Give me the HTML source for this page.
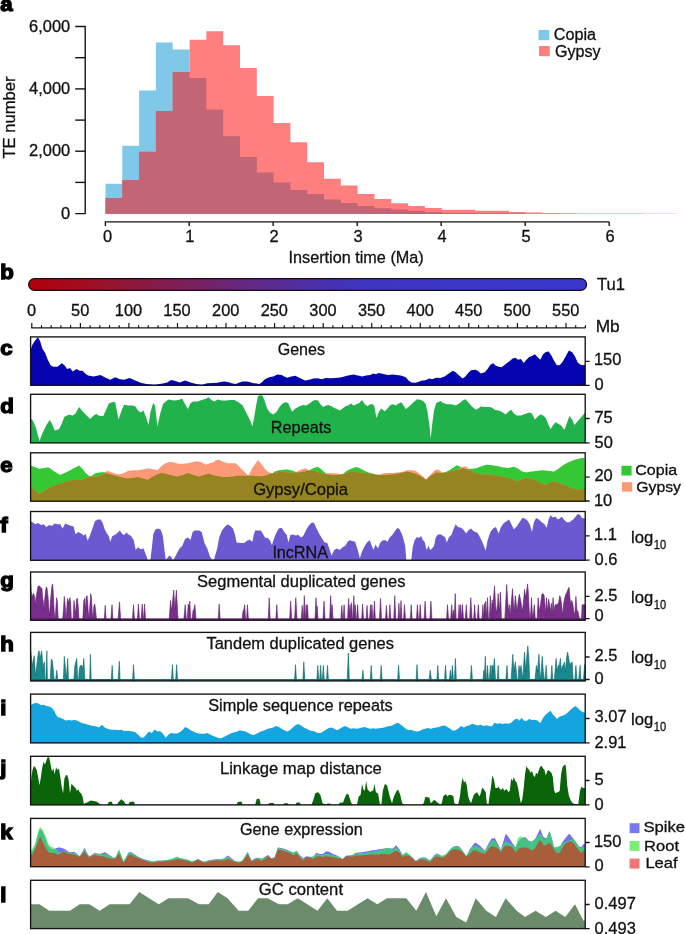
<!DOCTYPE html>
<html><head><meta charset="utf-8"><title>Figure</title>
<style>
html,body{margin:0;padding:0;background:#fff;width:685px;height:934px;overflow:hidden;}
svg{display:block;will-change:transform;}
text{font-family:'Liberation Sans', sans-serif;}
text.n{stroke:#111;stroke-width:0.3px;}
</style></head><body>
<svg width="685" height="934" viewBox="0 0 685 934">
<path d="M105.5,214L105.5,183.7L122.3,183.7L122.3,145.7L139.1,145.7L139.1,90.5L155.9,90.5L155.9,42.5L172.7,42.5L172.7,49.5L189.6,49.5L189.6,78L206.4,78L206.4,109.5L223.2,109.5L223.2,136.2L240,136.2L240,157L256.8,157L256.8,172.5L273.6,172.5L273.6,182.4L290.4,182.4L290.4,190L307.2,190L307.2,194L324,194L324,199.6L340.8,199.6L340.8,203L357.6,203L357.6,206L374.5,206L374.5,208.3L391.3,208.3L391.3,209.4L408.1,209.4L408.1,210.8L424.9,210.8L424.9,212L441.7,212L441.7,212.9L458.5,212.9L458.5,213L475.3,213L475.3,213.2L492.1,213.2L492.1,213.3L508.9,213.3L508.9,213.4L525.7,213.4L525.8,214L542.6,214L542.6,214L559.4,214L559.4,214L576.2,214L576.2,214L593,214L593,214L609.8,214L609.8,214L626.6,214L626.6,214L643.4,214L643.4,214L660.2,214L660.2,214L677,214L677,214Z" fill="#80c8e8"/>
<path d="M105.5,214L105.5,198L122.3,198L122.3,180L139.1,180L139.1,151.7L155.9,151.7L155.9,111L172.7,111L172.7,72L189.6,72L189.6,39.7L206.4,39.7L206.4,31.2L223.2,31.2L223.2,45.2L240,45.2L240,68L256.8,68L256.8,96L273.6,96L273.6,123L290.4,123L290.4,142.2L307.2,142.2L307.2,162.2L324,162.2L324,178.7L340.8,178.7L340.8,185.4L357.6,185.4L357.6,194L374.5,194L374.5,198.9L391.3,198.9L391.3,203.3L408.1,203.3L408.1,206L424.9,206L424.9,208L441.7,208L441.7,209.8L458.5,209.8L458.5,209.8L475.3,209.8L475.3,210.8L492.1,210.8L492.1,210.8L508.9,210.8L508.9,212L525.7,212L525.8,212.4L542.6,212.4L542.6,212.9L559.4,212.9L559.4,213.2L576.2,213.2L576.2,213.4L593,213.4L593,213.5L609.8,213.5L609.8,213.6L626.6,213.6L626.6,213.6L643.4,213.6L643.4,213.7L660.2,213.7L660.2,213.7L677,213.7L677,214Z" fill="#ff7f7f"/>
<path d="M105.5,214L105.5,198L122.3,198L122.3,180L139.1,180L139.1,151.7L155.9,151.7L155.9,111L172.7,111L172.7,72L189.6,72L189.6,78L206.4,78L206.4,109.5L223.2,109.5L223.2,136.2L240,136.2L240,157L256.8,157L256.8,172.5L273.6,172.5L273.6,182.4L290.4,182.4L290.4,190L307.2,190L307.2,194L324,194L324,199.6L340.8,199.6L340.8,203L357.6,203L357.6,206L374.5,206L374.5,208.3L391.3,208.3L391.3,209.4L408.1,209.4L408.1,210.8L424.9,210.8L424.9,212L441.7,212L441.7,212.9L458.5,212.9L458.5,213L475.3,213L475.3,213.2L492.1,213.2L492.1,213.3L508.9,213.3L508.9,213.4L525.7,213.4L525.8,214L542.6,214L542.6,214L559.4,214L559.4,214L576.2,214L576.2,214L593,214L593,214L609.8,214L609.8,214L626.6,214L626.6,214L643.4,214L643.4,214L660.2,214L660.2,214L677,214L677,214Z" fill="#c26675"/>
<path d="M75.2,26.5H85.2V213.6H75.2" fill="none" stroke="#141414" stroke-width="1.4"/>
<path d="M75.2,182.4H85.2" stroke="#141414" stroke-width="1.4"/>
<path d="M75.2,151.2H85.2" stroke="#141414" stroke-width="1.4"/>
<path d="M75.2,120.1H85.2" stroke="#141414" stroke-width="1.4"/>
<path d="M75.2,88.9H85.2" stroke="#141414" stroke-width="1.4"/>
<path d="M75.2,57.7H85.2" stroke="#141414" stroke-width="1.4"/>
<text class="n" transform="translate(61,218.7) scale(1.0321083053992348,1)" font-size="15.9" fill="#111111">0</text>
<text class="n" transform="translate(29.1,156.3) scale(1.0321083053992348,1)" font-size="15.9" fill="#111111">2,000</text>
<text class="n" transform="translate(29.1,94) scale(1.0321083053992348,1)" font-size="15.9" fill="#111111">4,000</text>
<text class="n" transform="translate(29.1,31.6) scale(1.0321083053992348,1)" font-size="15.9" fill="#111111">6,000</text>
<text class="n" transform="translate(15,117.5) rotate(-90)" font-size="16.6" text-anchor="middle" fill="#111111">TE number</text>
<path d="M105.4,226V221.9H609.4" fill="none" stroke="#141414" stroke-width="1.4"/>
<path d="M189.2,221.9V226" stroke="#141414" stroke-width="1.4"/>
<path d="M273.2,221.9V226" stroke="#141414" stroke-width="1.4"/>
<path d="M357.2,221.9V226" stroke="#141414" stroke-width="1.4"/>
<path d="M441.2,221.9V226" stroke="#141414" stroke-width="1.4"/>
<path d="M525.2,221.9V226" stroke="#141414" stroke-width="1.4"/>
<path d="M609.2,221.9V226" stroke="#141414" stroke-width="1.4"/>
<text class="n" transform="translate(102.9,241.6) scale(1.0321083053992348,1)" font-size="15.9" fill="#111111">0</text>
<text class="n" transform="translate(185.2,241.6) scale(1.0321083053992348,1)" font-size="15.9" fill="#111111">1</text>
<text class="n" transform="translate(269.4,241.6) scale(1.0321083053992348,1)" font-size="15.9" fill="#111111">2</text>
<text class="n" transform="translate(353.5,241.6) scale(1.0321083053992348,1)" font-size="15.9" fill="#111111">3</text>
<text class="n" transform="translate(437.5,241.6) scale(1.0321083053992348,1)" font-size="15.9" fill="#111111">4</text>
<text class="n" transform="translate(521.5,241.6) scale(1.0321083053992348,1)" font-size="15.9" fill="#111111">5</text>
<text class="n" transform="translate(605.4,241.6) scale(1.0321083053992348,1)" font-size="15.9" fill="#111111">6</text>
<text class="n" transform="translate(288.5,262.7) scale(0.9779,1)" font-size="16.6" fill="#111111">Insertion time (Ma)</text>
<rect x="538.5" y="30" width="10.8" height="10.2" fill="#80c8e8"/>
<rect x="539" y="46" width="10.8" height="10.2" fill="#ff7f7f"/>
<text class="n" transform="translate(553.7,39.6) scale(1.0383,1)" font-size="15.6" fill="#111111">Copia</text>
<text class="n" transform="translate(554.9,56.6) scale(1.0324,1)" font-size="15.6" fill="#111111">Gypsy</text>
<text transform="translate(0.3,11) scale(1.1,1)" font-size="20.2" font-weight="bold" fill="#000" stroke="#000" stroke-width="1.3">a</text>
<text transform="translate(0.3,279.2) scale(1.1,1)" font-size="20.2" font-weight="bold" fill="#000" stroke="#000" stroke-width="1.3">b</text>
<defs><linearGradient id="chr" x1="0" x2="1" y1="0" y2="0"><stop offset="0" stop-color="#b0000a"/><stop offset="0.15" stop-color="#961430"/><stop offset="0.28" stop-color="#7c1f5a"/><stop offset="0.42" stop-color="#5e2a8c"/><stop offset="0.52" stop-color="#4a30ac"/><stop offset="0.6" stop-color="#3e35c2"/><stop offset="1" stop-color="#3a38cc"/></linearGradient></defs>
<rect x="28.6" y="278.6" width="558" height="11.8" rx="5.9" fill="url(#chr)" stroke="#1a0a14" stroke-width="1.2"/>
<text class="n" transform="translate(597,290.3)" font-size="16.6" fill="#111111">Tu1</text>
<path d="M31.2,327.9H585.4" stroke="#141414" stroke-width="1.4"/>
<path d="M31.8,323V327.9" stroke="#141414" stroke-width="1.2"/>
<path d="M41.5,325.2V327.9" stroke="#141414" stroke-width="1.2"/>
<path d="M51.2,325.2V327.9" stroke="#141414" stroke-width="1.2"/>
<path d="M60.9,325.2V327.9" stroke="#141414" stroke-width="1.2"/>
<path d="M70.6,325.2V327.9" stroke="#141414" stroke-width="1.2"/>
<path d="M80.4,323V327.9" stroke="#141414" stroke-width="1.2"/>
<path d="M90.1,325.2V327.9" stroke="#141414" stroke-width="1.2"/>
<path d="M99.8,325.2V327.9" stroke="#141414" stroke-width="1.2"/>
<path d="M109.5,325.2V327.9" stroke="#141414" stroke-width="1.2"/>
<path d="M119.2,325.2V327.9" stroke="#141414" stroke-width="1.2"/>
<path d="M128.9,323V327.9" stroke="#141414" stroke-width="1.2"/>
<path d="M138.6,325.2V327.9" stroke="#141414" stroke-width="1.2"/>
<path d="M148.3,325.2V327.9" stroke="#141414" stroke-width="1.2"/>
<path d="M158.1,325.2V327.9" stroke="#141414" stroke-width="1.2"/>
<path d="M167.8,325.2V327.9" stroke="#141414" stroke-width="1.2"/>
<path d="M177.5,323V327.9" stroke="#141414" stroke-width="1.2"/>
<path d="M187.2,325.2V327.9" stroke="#141414" stroke-width="1.2"/>
<path d="M196.9,325.2V327.9" stroke="#141414" stroke-width="1.2"/>
<path d="M206.6,325.2V327.9" stroke="#141414" stroke-width="1.2"/>
<path d="M216.3,325.2V327.9" stroke="#141414" stroke-width="1.2"/>
<path d="M226,323V327.9" stroke="#141414" stroke-width="1.2"/>
<path d="M235.8,325.2V327.9" stroke="#141414" stroke-width="1.2"/>
<path d="M245.5,325.2V327.9" stroke="#141414" stroke-width="1.2"/>
<path d="M255.2,325.2V327.9" stroke="#141414" stroke-width="1.2"/>
<path d="M264.9,325.2V327.9" stroke="#141414" stroke-width="1.2"/>
<path d="M274.6,323V327.9" stroke="#141414" stroke-width="1.2"/>
<path d="M284.3,325.2V327.9" stroke="#141414" stroke-width="1.2"/>
<path d="M294,325.2V327.9" stroke="#141414" stroke-width="1.2"/>
<path d="M303.7,325.2V327.9" stroke="#141414" stroke-width="1.2"/>
<path d="M313.4,325.2V327.9" stroke="#141414" stroke-width="1.2"/>
<path d="M323.2,323V327.9" stroke="#141414" stroke-width="1.2"/>
<path d="M332.9,325.2V327.9" stroke="#141414" stroke-width="1.2"/>
<path d="M342.6,325.2V327.9" stroke="#141414" stroke-width="1.2"/>
<path d="M352.3,325.2V327.9" stroke="#141414" stroke-width="1.2"/>
<path d="M362,325.2V327.9" stroke="#141414" stroke-width="1.2"/>
<path d="M371.7,323V327.9" stroke="#141414" stroke-width="1.2"/>
<path d="M381.4,325.2V327.9" stroke="#141414" stroke-width="1.2"/>
<path d="M391.1,325.2V327.9" stroke="#141414" stroke-width="1.2"/>
<path d="M400.9,325.2V327.9" stroke="#141414" stroke-width="1.2"/>
<path d="M410.6,325.2V327.9" stroke="#141414" stroke-width="1.2"/>
<path d="M420.3,323V327.9" stroke="#141414" stroke-width="1.2"/>
<path d="M430,325.2V327.9" stroke="#141414" stroke-width="1.2"/>
<path d="M439.7,325.2V327.9" stroke="#141414" stroke-width="1.2"/>
<path d="M449.4,325.2V327.9" stroke="#141414" stroke-width="1.2"/>
<path d="M459.1,325.2V327.9" stroke="#141414" stroke-width="1.2"/>
<path d="M468.8,323V327.9" stroke="#141414" stroke-width="1.2"/>
<path d="M478.6,325.2V327.9" stroke="#141414" stroke-width="1.2"/>
<path d="M488.3,325.2V327.9" stroke="#141414" stroke-width="1.2"/>
<path d="M498,325.2V327.9" stroke="#141414" stroke-width="1.2"/>
<path d="M507.7,325.2V327.9" stroke="#141414" stroke-width="1.2"/>
<path d="M517.4,323V327.9" stroke="#141414" stroke-width="1.2"/>
<path d="M527.1,325.2V327.9" stroke="#141414" stroke-width="1.2"/>
<path d="M536.8,325.2V327.9" stroke="#141414" stroke-width="1.2"/>
<path d="M546.5,325.2V327.9" stroke="#141414" stroke-width="1.2"/>
<path d="M556.2,325.2V327.9" stroke="#141414" stroke-width="1.2"/>
<path d="M566,323V327.9" stroke="#141414" stroke-width="1.2"/>
<path d="M575.7,325.2V327.9" stroke="#141414" stroke-width="1.2"/>
<path d="M585.4,325.2V327.9" stroke="#141414" stroke-width="1.2"/>
<text class="n" transform="translate(27.1,316.3) scale(1.0275946049739375,1)" font-size="15.9" fill="#111111">0</text>
<text class="n" transform="translate(71.1,316.3) scale(1.0275946049739375,1)" font-size="15.9" fill="#111111">50</text>
<text class="n" transform="translate(114.8,316.3) scale(1.0275946049739375,1)" font-size="15.9" fill="#111111">100</text>
<text class="n" transform="translate(163.3,316.3) scale(1.0275946049739375,1)" font-size="15.9" fill="#111111">150</text>
<text class="n" transform="translate(212.1,316.3) scale(1.0275946049739375,1)" font-size="15.9" fill="#111111">200</text>
<text class="n" transform="translate(260.7,316.3) scale(1.0275946049739375,1)" font-size="15.9" fill="#111111">250</text>
<text class="n" transform="translate(309.3,316.3) scale(1.0275946049739375,1)" font-size="15.9" fill="#111111">300</text>
<text class="n" transform="translate(357.9,316.3) scale(1.0275946049739375,1)" font-size="15.9" fill="#111111">350</text>
<text class="n" transform="translate(406.6,316.3) scale(1.0275946049739375,1)" font-size="15.9" fill="#111111">400</text>
<text class="n" transform="translate(455.1,316.3) scale(1.0275946049739375,1)" font-size="15.9" fill="#111111">450</text>
<text class="n" transform="translate(503.6,316.3) scale(1.0275946049739375,1)" font-size="15.9" fill="#111111">500</text>
<text class="n" transform="translate(552.1,316.3) scale(1.0275946049739375,1)" font-size="15.9" fill="#111111">550</text>
<text class="n" transform="translate(595.7,332.1) scale(1.0428,1)" font-size="16.6" fill="#111111">Mb</text>
<path d="M30.6,385.3L30.6,350L32.5,344.5L35.3,340.3L38.1,337L40.3,341.7L42.3,348.6L45,352.8L47.8,359.7L50.6,365.3L53.4,366.7L57.5,366.7L61.7,363.3L64.4,365.3L67.2,368.9L70,368.1L72.8,371.4L76.4,368.9L79.7,370.8L82.5,370.8L85.2,373.6L88,375.5L93.6,376.4L100.5,375L104.7,377.2L110.2,379.7L115.2,377.2L119.9,379.2L124.1,379.7L129.6,378L135.2,380.5L140.7,382.8L146.3,384.1L154.6,384.7L162.9,383.6L167.1,382.5L171.2,380L175.4,381.1L179.6,382.5L185.1,380.5L190.6,382.5L196.2,384.1L201.7,384.7L207.3,383.3L217.8,382.8L220.5,381.9L224.7,381.4L228.9,382.2L231.6,383.3L235.8,384.1L239.4,382.5L242.7,381.4L246.9,381.4L249.7,381.9L252.4,383L256.6,383.6L259.4,383.9L262.2,381.9L264.9,379.2L269.1,377.2L273.2,376.4L277.4,374.4L281.6,375L284.3,376.4L287.1,377.8L291.3,376.4L295.4,375.8L298.2,377.2L302.4,379.2L305.1,380.5L309.3,379.7L313.5,378.6L317.6,378.3L321.8,379.2L325.9,378L330.1,378.3L334.3,378L338.4,377.8L342.6,376.9L346.8,375.8L350.9,375L353.7,374.4L356.5,375.3L359.2,375.8L362,376.4L366.2,375.5L370.3,375L373.1,373.6L375.9,374.2L378.6,373.1L381.4,373.6L384.2,374.2L388.4,375L392.5,374.4L396.7,375L400.8,375.5L405.8,377.2L408.5,380.5L411.3,382.5L415.5,382.8L418.3,381.9L421,380.8L425.2,380.3L429.4,378.6L432.1,379.2L436.3,377.8L440.4,378L444.6,376.4L448.8,373.6L452.9,370.8L455.7,372.2L458.5,375L462.6,378.6L465.4,376.4L468.2,373.1L471,370.3L475.1,369.7L477.9,370.8L480.7,373.6L484.8,372.2L487.6,368.9L490.4,364.7L493.1,363.3L495.9,365.8L498.7,366.7L501.5,367.2L504.2,365.3L507,363.1L509.8,361.1L512.6,358.4L515.3,357.8L518.1,359.7L520.9,358.9L523.7,363.1L526.4,359.7L529.2,357L532,356.1L534.8,354.2L537.5,357L540.3,359.7L543.1,354.2L545.8,352L548.6,351.4L551.4,355.6L554.2,361.1L556.9,365.3L559.7,365.3L562.5,362L565.3,357L568.9,350.6L572.2,352.2L575,356.4L577.7,362.5L580.5,364.7L583.3,365.3L585,364.7L585,385.3Z" fill="#0303b0"/>
<rect x="30.6" y="336.9" width="554.6" height="48.4" fill="none" stroke="#141414" stroke-width="1.35"/>
<path d="M585.2,361.3H589.6M585.2,385.3H589.6" stroke="#141414" stroke-width="1.3"/>
<text class="n" transform="translate(593.9,365.3) scale(1.0366,1)" font-size="15.9" fill="#111111">150</text>
<text class="n" transform="translate(594.6,390.1) scale(1.0366,1)" font-size="15.9" fill="#111111">0</text>
<text transform="translate(0.3,355.1) scale(1.1,1)" font-size="20.2" font-weight="bold" fill="#000" stroke="#000" stroke-width="1.3">c</text>
<text class="n" transform="translate(277.7,354.7) scale(0.9669,1)" font-size="16.6" fill="#111111">Genes</text>
<path d="M30.6,442.9L30.6,418.1L33.1,420.9L35.9,427.8L39.5,441.1L42.3,433.4L46.4,425.1L49.7,420.1L52,423.7L54.7,430.6L58.9,429.2L61.7,423.7L64.4,416.7L68.6,414.8L72.8,415.4L75.5,413.4L79.1,407L82.5,411.2L86.6,415.4L90.2,419L93.6,415.4L96.3,414L99.7,415.9L103.3,415.9L106.1,409.8L108.8,403.4L113,402L115.2,402.3L118.5,419.5L121.3,411.2L124.1,404.8L128.2,405.6L132.4,405.6L135.2,406.2L137.9,410.6L140.7,412.6L143.5,410.6L146.3,418.1L148.5,425.1L150.4,412.6L153.2,402.9L155.1,405.6L157.4,426.4L160.1,414L162.9,404.3L165.7,401.5L168.5,399.5L171.2,400.1L174,400.6L178.2,400.1L182.3,398.7L185.1,404.3L187.9,409L190.6,402.9L193.4,401.5L197.6,401.5L201.7,400.1L205.9,398.7L208.7,397.3L211.5,400.1L214.2,401.5L217.8,399.5L221.9,400.6L226.1,400.6L230.3,400.1L234.4,400.1L238.6,402.3L242.7,405.6L245.5,411.2L248.3,416.7L251.1,422.8L252.4,426.4L253.8,419.5L256.1,405.6L258,395.9L260.8,395.1L262.7,395.9L264.9,401.5L267.1,408.4L269.9,412.6L273.2,414.5L276.6,411.7L279.4,407L283,402.9L286.6,402.3L288.5,403.4L289.9,407L292.1,411.7L295.4,408.4L299.6,406.2L303.2,405.1L306,405.6L309.3,403.4L312.1,401.5L314.9,400.1L318.2,400.6L320.4,404.3L323.2,407L325.9,405.6L328.7,405.1L331.5,406.2L334.3,407.9L337,409L339.8,410.6L342.6,408.4L345.4,406.2L348.1,405.6L350.9,403.4L353.7,405.6L356.5,404.3L359.2,402.9L362,400.1L364.8,404.3L367.6,406.2L370.3,404.3L373.1,404.3L374.5,407L376.4,418.1L378.6,412.6L380.9,408.4L382.8,409.8L384.8,411.2L387.5,408.4L390.3,405.1L393.1,404.3L395.8,405.6L398.6,403.4L401.4,402.3L405.8,409L408.5,407L412.7,402.9L416.9,399.3L421,400.1L423.8,401.5L425.7,404.3L427.4,411.2L429.4,425.1L430.7,438.4L432.1,425.1L434.1,409.8L436.3,402.9L440.4,400.9L443.2,402.9L447.4,404.3L451.5,404.3L455.7,405.6L459.9,402.9L462.6,400.6L465.4,399.3L468.2,402.3L471.8,406.2L475.7,409.8L478.4,408.4L480.7,406.5L484.8,407L489,407L491.8,407.6L494.5,409.8L498.7,410.6L502.9,412.6L505.6,414.5L508.4,411.7L511.2,409.8L513.9,413.4L516.7,415.4L520.9,415.4L525,414L529.2,412.6L532,413.4L534.8,419.5L537.5,416.7L540.3,414.5L543.1,415.4L545.8,418.1L548.6,425.1L550.6,429.2L552.8,425.6L555.6,422.3L558.3,423.7L561.1,425.6L564.4,430.1L567.2,422.3L569.4,415.9L572.2,419.5L574.4,425.1L577.2,421.7L580.5,418.1L583.3,414.8L585,412.6L585,442.9Z" fill="#22b24c"/>
<rect x="30.6" y="394.3" width="554.6" height="48.6" fill="none" stroke="#141414" stroke-width="1.35"/>
<path d="M585.2,418.5H589.6M585.2,442.9H589.6" stroke="#141414" stroke-width="1.3"/>
<text class="n" transform="translate(594.4,422.6) scale(1.0366,1)" font-size="15.9" fill="#111111">75</text>
<text class="n" transform="translate(594.5,448.3) scale(1.0366,1)" font-size="15.9" fill="#111111">50</text>
<text transform="translate(0.3,412.9) scale(1.1,1)" font-size="20.2" font-weight="bold" fill="#000" stroke="#000" stroke-width="1.3">d</text>
<text class="n" transform="translate(270.8,433.4) scale(0.9805,1)" font-size="16.6" fill="#111111">Repeats</text>
<path d="M30.6,501.2L30.6,465.3L31.1,465.6L31.6,465.8L32.1,466L32.6,466.2L33.1,466.5L33.6,466.7L34.1,466.9L34.6,467.1L35.1,467.3L35.6,467.4L36.1,467.6L36.6,467.8L37.1,468L37.6,468.1L38.1,468.3L38.6,468.5L39.1,468.7L39.6,468.8L40.1,468.7L40.6,468.6L41.1,468.5L41.6,468.4L42.1,468.3L42.6,468.2L43.1,468.1L43.6,468L44.1,467.9L44.6,467.9L45.1,467.8L45.6,467.8L46.1,467.7L46.6,467.6L47.1,467.6L47.6,467.5L48.1,467.5L48.6,467.4L49.1,467.7L49.6,468.1L50.1,468.5L50.6,468.8L51.1,469.2L51.6,469.5L52.1,469.9L52.6,470.2L53.1,470.6L53.6,470.9L54.1,471.2L54.6,471.6L55.1,471.9L55.6,472.2L56.1,472.6L56.6,472.9L57.1,473.2L57.6,473.6L58.1,473.8L58.6,474.1L59.1,474.3L59.6,474.6L60.1,474.8L60.6,474.8L61.1,474.5L61.6,474.3L62.1,474.1L62.6,473.8L63.1,473.6L63.6,473.4L64.1,473.1L64.6,472.9L65.1,472.7L65.6,472.4L66.1,472.2L66.6,472L67.1,471.7L67.6,471.5L68.1,471.3L68.6,471L69.1,470.8L69.6,470.5L70.1,470.2L70.6,469.9L71.1,469.7L71.6,469.4L72.1,469.1L72.6,468.8L73.1,468.6L73.6,468.3L74.1,468L74.6,467.7L75.1,467.5L75.6,467.2L76.1,467L76.6,466.7L77.1,466.5L77.6,466.2L78.1,466L78.6,465.7L79.1,465.5L79.6,465.9L80.1,466.4L80.6,466.9L81.1,467.4L81.6,467.9L82.1,468.4L82.6,469L83.1,469.6L83.6,470.3L84.1,470.9L84.6,471.6L85.1,472.2L85.6,472.8L86.1,473.3L86.6,473.8L87.1,474.3L87.6,474.8L88.1,475.3L88.6,475.7L89.1,475.8L89.6,475.9L90.1,476L90.6,476.1L91.1,476.2L91.6,476.1L92.1,475.6L92.6,475.2L93.1,474.8L93.6,474.3L94.1,474.1L94.6,473.8L95.1,473.6L95.6,473.3L96.1,473.1L96.6,472.9L97.1,472.8L97.6,472.8L98.1,472.7L98.6,472.6L99.1,472.5L99.6,472.4L100.1,472.4L100.6,472.3L101.1,472.3L101.6,472.3L102.1,472.2L102.6,472.2L103.1,472.1L103.6,472.2L104.1,472.2L104.6,472.3L105.1,472.3L105.6,472.4L106.1,472.4L106.6,472.7L107.1,473L107.6,473.3L108.1,473.6L108.6,473.8L109.1,474L109.6,474.1L110.1,474.3L110.6,474.4L111.1,474.6L111.6,474.7L112.1,474.8L112.6,474.9L113.1,475.1L113.6,475.2L114.1,475.3L114.6,475.4L115.1,475.6L115.6,475.7L116.1,475.8L116.6,475.9L117.1,476.1L117.6,476.2L118.1,476.3L118.6,476.4L119.1,476.6L119.6,476.7L120.1,476.8L120.6,476.9L121.1,477.1L121.6,477.2L122.1,477.3L122.6,477.4L123.1,477.6L123.6,477.7L124.1,477.8L124.6,477.9L125.1,478.1L125.6,478.2L126.1,478.3L126.6,478.4L127.1,478.5L127.6,478.4L128.1,478.4L128.6,478.3L129.1,478.3L129.6,478.2L130.1,478.2L130.6,478.1L131.1,478.1L131.6,478L132.1,478L132.6,477.9L133.1,477.9L133.6,477.8L134.1,477.7L134.6,477.6L135.1,477.6L135.6,477.5L136.1,477.4L136.6,477.3L137.1,477.3L137.6,477.2L138.1,477.2L138.6,477.3L139.1,477.4L139.6,477.5L140.1,477.7L140.6,477.8L141.1,477.9L141.6,478L142.1,478.2L142.6,478.3L143.1,478.4L143.6,478.5L144.1,478.7L144.6,478.9L145.1,479L145.6,479.2L146.1,479.4L146.6,479.5L147.1,479.7L147.6,479.9L148.1,479.6L148.6,479.3L149.1,478.9L149.6,478.6L150.1,478.3L150.6,477.9L151.1,477.6L151.6,477.3L152.1,477L152.6,476.7L153.1,476.5L153.6,476.2L154.1,476L154.6,475.7L155.1,475.5L155.6,475.2L156.1,475L156.6,474.7L157.1,474.5L157.6,474.3L158.1,474.1L158.6,473.9L159.1,473.8L159.6,473.6L160.1,473.4L160.6,473.3L161.1,473.1L161.6,473L162.1,473.1L162.6,473.2L163.1,473.3L163.6,473.4L164.1,473.5L164.6,473.6L165.1,473.7L165.6,473.8L166.1,473.9L166.6,474L167.1,474.1L167.6,474.3L168.1,474.4L168.6,474.5L169.1,474.6L169.6,474.8L170.1,474.9L170.6,475L171.1,475.1L171.6,475.3L172.1,475.4L172.6,475.5L173.1,475.6L173.6,475.8L174.1,475.9L174.6,476L175.1,476.1L175.6,476.3L176.1,476.4L176.6,476.5L177.1,476.5L177.6,476.4L178.1,476.2L178.6,476.1L179.1,476L179.6,475.9L180.1,475.7L180.6,475.6L181.1,475.5L181.6,475.4L182.1,475.2L182.6,475.1L183.1,474.9L183.6,474.7L184.1,474.5L184.6,474.3L185.1,474.1L185.6,473.9L186.1,473.7L186.6,473.5L187.1,473.3L187.6,473.1L188.1,473L188.6,473.2L189.1,473.4L189.6,473.6L190.1,473.7L190.6,473.9L191.1,474.1L191.6,474.3L192.1,474.4L192.6,474.6L193.1,474.8L193.6,475L194.1,475.1L194.6,475.3L195.1,475.4L195.6,475.6L196.1,475.7L196.6,475.9L197.1,476L197.6,476.2L198.1,476.3L198.6,476.5L199.1,476.5L199.6,476.4L200.1,476.2L200.6,476.1L201.1,475.9L201.6,475.8L202.1,475.6L202.6,475.5L203.1,475.3L203.6,475.2L204.1,475L204.6,474.9L205.1,474.7L205.6,474.5L206.1,474.4L206.6,474.2L207.1,474L207.6,473.9L208.1,473.7L208.6,473.5L209.1,473.7L209.6,473.9L210.1,474.1L210.6,474.3L211.1,474.5L211.6,474.7L212.1,474.9L212.6,475.1L213.1,475.2L213.6,475.3L214.1,475.4L214.6,475.5L215.1,475.6L215.6,475.7L216.1,475.8L216.6,475.9L217.1,475.9L217.6,476L218.1,476.1L218.6,476.2L219.1,476.3L219.6,476.4L220.1,476.5L220.6,476.6L221.1,476.6L221.6,476.7L222.1,476.7L222.6,476.8L223.1,476.8L223.6,476.9L224.1,476.9L224.6,477L225.1,477L225.6,477.1L226.1,477.1L226.6,477.1L227.1,477L227.6,477L228.1,476.9L228.6,476.9L229.1,476.8L229.6,476.8L230.1,476.7L230.6,476.7L231.1,476.6L231.6,476.6L232.1,476.5L232.6,476.4L233.1,476.4L233.6,476.3L234.1,476.2L234.6,476.1L235.1,476.1L235.6,476L236.1,475.9L236.6,475.8L237.1,475.8L237.6,475.7L238.1,475.7L238.6,475.7L239.1,475.7L239.6,475.7L240.1,475.7L240.6,475.7L241.1,475.7L241.6,475.7L242.1,475.7L242.6,475.7L243.1,475.7L243.6,475.7L244.1,475.7L244.6,475.7L245.1,475.7L245.6,475.7L246.1,475.7L246.6,475.7L247.1,475.7L247.6,475.7L248.1,475.7L248.6,475.7L249.1,475.7L249.6,475.7L250.1,475.7L250.6,475.7L251.1,475.7L251.6,475.7L252.1,475.7L252.6,475.7L253.1,475.7L253.6,475.7L254.1,475.8L254.6,475.8L255.1,475.9L255.6,475.9L256.1,476L256.6,476L257.1,476.1L257.6,476.1L258.1,476.2L258.6,476.2L259.1,476.3L259.6,476.3L260.1,476.2L260.6,476.2L261.1,476.1L261.6,476.1L262.1,476L262.6,476L263.1,475.9L263.6,475.9L264.1,475.8L264.6,475.8L265.1,475.7L265.6,475.5L266.1,475.3L266.6,475.2L267.1,475L267.6,474.8L268.1,474.6L268.6,474.5L269.1,474.3L269.6,474.1L270.1,473.9L270.6,473.8L271.1,473.6L271.6,473.5L272.1,473.4L272.6,473.2L273.1,472.8L273.6,472.4L274.1,472L274.6,471.6L275.1,471.4L275.6,471.3L276.1,471.1L276.6,470.9L277.1,470.8L277.6,470.6L278.1,470.4L278.6,470.3L279.1,470.2L279.6,470.1L280.1,470.1L280.6,470L281.1,470L281.6,469.9L282.1,469.9L282.6,469.8L283.1,469.8L283.6,469.7L284.1,469.7L284.6,469.6L285.1,469.6L285.6,469.6L286.1,469.6L286.6,469.6L287.1,469.6L287.6,469.6L288.1,469.6L288.6,469.7L289.1,469.8L289.6,469.9L290.1,470.1L290.6,470.2L291.1,470.3L291.6,470.5L292.1,470.6L292.6,470.7L293.1,470.9L293.6,471.1L294.1,471.3L294.6,471.5L295.1,471.7L295.6,471.9L296.1,472.1L296.6,472.3L297.1,472.5L297.6,472.5L298.1,472.4L298.6,472.4L299.1,472.3L299.6,472.2L300.1,472.1L300.6,472.1L301.1,472L301.6,471.9L302.1,471.8L302.6,471.8L303.1,471.7L303.6,471.6L304.1,471.5L304.6,471.4L305.1,471.2L305.6,471.1L306.1,471L306.6,470.9L307.1,470.7L307.6,470.6L308.1,470.5L308.6,470.4L309.1,470.2L309.6,470L310.1,469.8L310.6,469.5L311.1,469.2L311.6,469L312.1,468.7L312.6,468.4L313.1,468.2L313.6,467.9L314.1,467.8L314.6,467.7L315.1,467.5L315.6,467.4L316.1,467.3L316.6,467.1L317.1,467L317.6,466.9L318.1,467.2L318.6,467.5L319.1,467.8L319.6,468.2L320.1,468.5L320.6,468.8L321.1,469.2L321.6,469.5L322.1,469.9L322.6,470.4L323.1,470.9L323.6,471.3L324.1,471.8L324.6,472.3L325.1,472.7L325.6,473.2L326.1,473.8L326.6,473.9L327.1,474L327.6,474.1L328.1,474.2L328.6,474.3L329.1,474.4L329.6,474.5L330.1,474.6L330.6,474.7L331.1,474.8L331.6,474.9L332.1,474.9L332.6,474.9L333.1,474.9L333.6,474.9L334.1,474.9L334.6,474.9L335.1,474.9L335.6,474.9L336.1,474.9L336.6,474.9L337.1,474.9L337.6,474.8L338.1,474.8L338.6,474.7L339.1,474.7L339.6,474.6L340.1,474.6L340.6,474.5L341.1,474.5L341.6,474.4L342.1,474.4L342.6,474.3L343.1,473.9L343.6,473.5L344.1,473L344.6,472.6L345.1,472.2L345.6,471.7L346.1,471.3L346.6,470.9L347.1,470.6L347.6,470.3L348.1,470.1L348.6,469.9L349.1,469.6L349.6,469.4L350.1,469.2L350.6,468.9L351.1,468.7L351.6,468.6L352.1,468.4L352.6,468.2L353.1,468L353.6,467.9L354.1,467.7L354.6,467.5L355.1,467.3L355.6,467.2L356.1,467L356.6,466.9L357.1,467.2L357.6,467.4L358.1,467.6L358.6,467.9L359.1,468.1L359.6,468.3L360.1,468.6L360.6,468.8L361.1,469L361.6,469.3L362.1,469.5L362.6,469.8L363.1,470L363.6,470.3L364.1,470.5L364.6,470.8L365.1,471L365.6,471.3L366.1,471.5L366.6,471.7L367.1,471.9L367.6,472.1L368.1,472.2L368.6,472.4L369.1,472.6L369.6,472.7L370.1,472.9L370.6,473L371.1,473.2L371.6,473.3L372.1,473.4L372.6,473.5L373.1,473.7L373.6,473.8L374.1,473.9L374.6,474L375.1,474.2L375.6,474.3L376.1,474.4L376.6,474.4L377.1,474.5L377.6,474.6L378.1,474.6L378.6,474.7L379.1,474.8L379.6,474.8L380.1,474.9L380.6,474.9L381.1,474.9L381.6,474.9L382.1,474.9L382.6,474.9L383.1,474.9L383.6,474.9L384.1,474.9L384.6,474.9L385.1,474.9L385.6,474.9L386.1,474.9L386.6,474.9L387.1,474.9L387.6,474.8L388.1,474.8L388.6,474.7L389.1,474.7L389.6,474.6L390.1,474.6L390.6,474.5L391.1,474.5L391.6,474.4L392.1,474.4L392.6,474.3L393.1,474.3L393.6,474.2L394.1,474.1L394.6,474L395.1,474L395.6,473.9L396.1,473.8L396.6,473.7L397.1,473.7L397.6,473.6L398.1,473.5L398.6,473.4L399.1,473.3L399.6,473.2L400.1,473.1L400.6,473L401.1,472.9L401.6,472.8L402.1,472.7L402.6,472.6L403.1,472.4L403.6,472.3L404.1,472.2L404.6,472.1L405.1,472L405.6,471.9L406.1,471.8L406.6,471.7L407.1,471.6L407.6,471.7L408.1,471.8L408.6,471.9L409.1,472L409.6,472.1L410.1,472.2L410.6,472.3L411.1,472.4L411.6,472.5L412.1,472.7L412.6,472.9L413.1,473L413.6,473.2L414.1,473.4L414.6,473.6L415.1,473.7L415.6,473.9L416.1,474.1L416.6,474.3L417.1,474.5L417.6,474.7L418.1,475L418.6,475.2L419.1,475.5L419.6,475.7L420.1,476L420.6,476.2L421.1,476.5L421.6,476.7L422.1,477L422.6,477.3L423.1,477.7L423.6,478L424.1,478.4L424.6,478.8L425.1,479.2L425.6,479.6L426.1,479.8L426.6,479.4L427.1,478.9L427.6,478.5L428.1,478.1L428.6,477.6L429.1,477.2L429.6,476.7L430.1,476.3L430.6,475.9L431.1,475.5L431.6,475.2L432.1,474.9L432.6,474.6L433.1,474.3L433.6,474L434.1,473.7L434.6,473.4L435.1,473.1L435.6,472.8L436.1,472.5L436.6,472.4L437.1,472.5L437.6,472.5L438.1,472.6L438.6,472.6L439.1,472.7L439.6,472.7L440.1,472.8L440.6,472.8L441.1,472.9L441.6,472.9L442.1,472.9L442.6,472.8L443.1,472.7L443.6,472.6L444.1,472.5L444.6,472.4L445.1,472.2L445.6,471.9L446.1,471.7L446.6,471.4L447.1,471.2L447.6,470.9L448.1,470.7L448.6,470.4L449.1,470.2L449.6,469.9L450.1,469.7L450.6,469.3L451.1,469L451.6,468.7L452.1,468.3L452.6,468L453.1,467.7L453.6,467.3L454.1,467L454.6,466.7L455.1,466.4L455.6,466.1L456.1,465.8L456.6,465.5L457.1,465.2L457.6,465.5L458.1,465.7L458.6,466L459.1,466.3L459.6,466.5L460.1,466.8L460.6,467.1L461.1,467.3L461.6,467.5L462.1,467.7L462.6,467.9L463.1,468L463.6,468.2L464.1,468.4L464.6,468.5L465.1,468.7L465.6,468.8L466.1,468.8L466.6,468.8L467.1,468.8L467.6,468.8L468.1,468.8L468.6,468.8L469.1,468.8L469.6,468.8L470.1,468.8L470.6,468.8L471.1,468.8L471.6,468.8L472.1,468.8L472.6,468.8L473.1,468.7L473.6,468.6L474.1,468.6L474.6,468.5L475.1,468.4L475.6,468.4L476.1,468.3L476.6,468.2L477.1,468L477.6,467.8L478.1,467.6L478.6,467.4L479.1,467.2L479.6,467L480.1,466.8L480.6,466.6L481.1,466.4L481.6,466.3L482.1,466.1L482.6,465.9L483.1,465.7L483.6,465.6L484.1,465.4L484.6,465.2L485.1,465L485.6,464.9L486.1,464.7L486.6,464.7L487.1,464.7L487.6,464.8L488.1,464.8L488.6,464.9L489.1,464.9L489.6,465L490.1,465L490.6,465.1L491.1,465.1L491.6,465.2L492.1,465.2L492.6,465.3L493.1,465.4L493.6,465.5L494.1,465.5L494.6,465.6L495.1,465.7L495.6,465.8L496.1,465.8L496.6,465.9L497.1,466L497.6,466.1L498.1,466.2L498.6,466.4L499.1,466.5L499.6,466.6L500.1,466.7L500.6,466.9L501.1,467L501.6,467.1L502.1,467.2L502.6,467.4L503.1,467.4L503.6,467.5L504.1,467.5L504.6,467.6L505.1,467.6L505.6,467.7L506.1,467.7L506.6,467.8L507.1,467.8L507.6,467.9L508.1,467.9L508.6,467.9L509.1,467.8L509.6,467.7L510.1,467.5L510.6,467.4L511.1,467.3L511.6,467.2L512.1,467L512.6,466.9L513.1,466.8L513.6,466.7L514.1,466.7L514.6,466.9L515.1,467.2L515.6,467.5L516.1,467.7L516.6,468L517.1,468.3L517.6,468.5L518.1,468.8L518.6,469.1L519.1,469.5L519.6,469.8L520.1,470.1L520.6,470.5L521.1,470.8L521.6,471.1L522.1,471.5L522.6,471.6L523.1,471.7L523.6,471.8L524.1,471.9L524.6,472L525.1,472.1L525.6,472.2L526.1,472.3L526.6,472.4L527.1,472.3L527.6,472.2L528.1,472.1L528.6,472L529.1,471.9L529.6,471.8L530.1,471.7L530.6,471.6L531.1,471.5L531.6,471.5L532.1,471.4L532.6,471.4L533.1,471.3L533.6,471.3L534.1,471.2L534.6,471.2L535.1,471.1L535.6,471.1L536.1,471L536.6,471L537.1,470.9L537.6,470.8L538.1,470.7L538.6,470.7L539.1,470.6L539.6,470.5L540.1,470.4L540.6,470.4L541.1,470.3L541.6,470.2L542.1,470.2L542.6,470.3L543.1,470.3L543.6,470.4L544.1,470.4L544.6,470.5L545.1,470.5L545.6,470.6L546.1,470.6L546.6,470.7L547.1,470.7L547.6,470.8L548.1,470.8L548.6,470.9L549.1,471L549.6,471L550.1,471.1L550.6,471.1L551.1,471.2L551.6,471.3L552.1,471.3L552.6,471.4L553.1,471.4L553.6,471.5L554.1,471.6L554.6,471.3L555.1,471L555.6,470.6L556.1,470.3L556.6,470L557.1,469.6L557.6,469.3L558.1,469L558.6,468.6L559.1,468.2L559.6,467.8L560.1,467.5L560.6,467.1L561.1,466.7L561.6,466.3L562.1,466L562.6,465.6L563.1,465.2L563.6,464.8L564.1,464.5L564.6,464.3L565.1,464L565.6,463.8L566.1,463.5L566.6,463.3L567.1,463L567.6,462.8L568.1,462.5L568.6,462.3L569.1,462L569.6,461.8L570.1,461.6L570.6,461.4L571.1,461.2L571.6,461L572.1,460.8L572.6,460.6L573.1,460.4L573.6,460.2L574.1,460L574.6,459.8L575.1,459.6L575.6,459.5L576.1,459.4L576.6,459.2L577.1,459.1L577.6,459L578.1,458.9L578.6,458.7L579.1,458.6L579.6,458.5L580.1,458.4L580.6,458.3L581.1,458.2L581.6,458.1L582.1,458.1L582.6,458L583.1,457.9L583.6,457.9L584.1,457.8L584.6,457.8L585.1,489.1L585.1,501.2Z" fill="#35c835"/>
<path d="M30.6,501.2L30.6,485.8L31.1,486.3L31.6,486.9L32.1,487.5L32.6,488.1L33.1,488.6L33.6,489.2L34.1,489.7L34.6,490.1L35.1,490.5L35.6,490.9L36.1,491.2L36.6,491.6L37.1,492L37.6,492.4L38.1,492.7L38.6,493.1L39.1,493.5L39.6,493.7L40.1,493.4L40.6,493L41.1,492.7L41.6,492.4L42.1,492L42.6,491.7L43.1,491.4L43.6,491L44.1,490.7L44.6,490.4L45.1,490L45.6,489.7L46.1,489.4L46.6,489L47.1,488.7L47.6,488.4L48.1,488L48.6,487.7L49.1,487.5L49.6,487.3L50.1,487.1L50.6,486.9L51.1,486.8L51.6,486.6L52.1,486.4L52.6,486.2L53.1,486L53.6,485.9L54.1,485.7L54.6,485.5L55.1,485.3L55.6,485.1L56.1,485L56.6,484.8L57.1,484.6L57.6,484.4L58.1,484.3L58.6,484.1L59.1,483.9L59.6,483.7L60.1,483.6L60.6,483.4L61.1,483.2L61.6,483.1L62.1,482.9L62.6,482.8L63.1,482.6L63.6,482.4L64.1,482.3L64.6,482.1L65.1,482L65.6,481.8L66.1,481.6L66.6,481.5L67.1,481.3L67.6,481.2L68.1,481.1L68.6,480.9L69.1,480.8L69.6,480.7L70.1,480.6L70.6,480.4L71.1,480.3L71.6,480.2L72.1,480.1L72.6,479.9L73.1,479.9L73.6,479.9L74.1,479.9L74.6,479.9L75.1,479.9L75.6,479.9L76.1,479.9L76.6,479.9L77.1,479.9L77.6,479.9L78.1,479.9L78.6,479.9L79.1,479.9L79.6,479.9L80.1,479.8L80.6,479.7L81.1,479.5L81.6,479.4L82.1,479.3L82.6,479.2L83.1,479L83.6,478.9L84.1,478.8L84.6,478.7L85.1,478.5L85.6,478.4L86.1,478.2L86.6,478L87.1,477.9L87.6,477.7L88.1,477.5L88.6,477.3L89.1,477.2L89.6,477L90.1,476.8L90.6,476.6L91.1,476.6L91.6,476.6L92.1,476.6L92.6,476.6L93.1,476.6L93.6,476.6L94.1,476.6L94.6,476.6L95.1,476.6L95.6,476.6L96.1,476.6L96.6,476.5L97.1,476.3L97.6,476.2L98.1,476L98.6,475.8L99.1,475.7L99.6,475.5L100.1,475.3L100.6,475.1L101.1,474.9L101.6,474.7L102.1,474.5L102.6,474.3L103.1,474.1L103.6,473.9L104.1,473.7L104.6,472.6L105.1,472.3L105.6,472L106.1,471.6L106.6,471.3L107.1,471L107.6,470.8L108.1,471L108.6,471.2L109.1,471.4L109.6,471.6L110.1,471.8L110.6,472L111.1,472.2L111.6,472.4L112.1,472.6L112.6,472.7L113.1,472.9L113.6,473.1L114.1,473.2L114.6,473.4L115.1,473.6L115.6,473.7L116.1,473.8L116.6,473.9L117.1,474L117.6,474L118.1,474.1L118.6,474.2L119.1,474.2L119.6,474.3L120.1,474.3L120.6,474.1L121.1,474L121.6,473.8L122.1,473.6L122.6,473.5L123.1,473.3L123.6,473.1L124.1,473L124.6,472.7L125.1,472.4L125.6,472.2L126.1,471.9L126.6,471.6L127.1,471.4L127.6,471.1L128.1,470.8L128.6,470.7L129.1,470.7L129.6,470.6L130.1,470.6L130.6,470.5L131.1,470.5L131.6,470.4L132.1,470.4L132.6,470.3L133.1,470.3L133.6,470.2L134.1,470.2L134.6,470.2L135.1,470.2L135.6,470.2L136.1,470.2L136.6,470.2L137.1,470.2L137.6,470.2L138.1,470.2L138.6,470.1L139.1,470L139.6,469.9L140.1,469.9L140.6,469.8L141.1,469.7L141.6,469.6L142.1,469.6L142.6,469.5L143.1,469.4L143.6,469.3L144.1,469.2L144.6,469.1L145.1,469L145.6,468.9L146.1,468.8L146.6,468.7L147.1,468.6L147.6,468.5L148.1,468.4L148.6,468.3L149.1,468.3L149.6,468.4L150.1,468.5L150.6,468.7L151.1,468.8L151.6,468.9L152.1,469.1L152.6,469.2L153.1,469.3L153.6,469.4L154.1,469.5L154.6,469.6L155.1,469.7L155.6,469.8L156.1,469.9L156.6,470L157.1,470.1L157.6,470L158.1,469.5L158.6,469L159.1,468.5L159.6,468L160.1,467.5L160.6,467L161.1,466.5L161.6,466L162.1,465.6L162.6,465.3L163.1,465L163.6,464.6L164.1,464.3L164.6,464L165.1,463.6L165.6,463.3L166.1,463.1L166.6,463L167.1,462.8L167.6,462.6L168.1,462.5L168.6,462.3L169.1,462.1L169.6,462L170.1,461.9L170.6,462L171.1,462L171.6,462.1L172.1,462.2L172.6,462.2L173.1,462.3L173.6,462.4L174.1,462.5L174.6,462.6L175.1,462.8L175.6,463L176.1,463.1L176.6,463.3L177.1,463.5L177.6,463.6L178.1,463.8L178.6,463.8L179.1,463.8L179.6,463.8L180.1,463.8L180.6,463.8L181.1,463.8L181.6,463.8L182.1,463.8L182.6,463.8L183.1,463.7L183.6,463.7L184.1,463.6L184.6,463.6L185.1,463.5L185.6,463.5L186.1,463.4L186.6,463.4L187.1,463.3L187.6,463.3L188.1,463.2L188.6,463.1L189.1,462.9L189.6,462.8L190.1,462.7L190.6,462.6L191.1,462.4L191.6,462.3L192.1,462.2L192.6,462.1L193.1,461.9L193.6,461.8L194.1,461.8L194.6,461.7L195.1,461.6L195.6,461.6L196.1,461.5L196.6,461.4L197.1,461.4L197.6,461.3L198.1,461.5L198.6,461.6L199.1,461.7L199.6,461.9L200.1,462L200.6,462.1L201.1,462.3L201.6,462.4L202.1,462.6L202.6,462.9L203.1,463.1L203.6,463.4L204.1,463.7L204.6,463.9L205.1,464.2L205.6,464.5L206.1,464.6L206.6,464.4L207.1,464.2L207.6,464.1L208.1,463.9L208.6,463.7L209.1,463.6L209.6,463.4L210.1,463.2L210.6,463.1L211.1,462.9L211.6,462.7L212.1,462.6L212.6,462.4L213.1,462.2L213.6,462.1L214.1,461.9L214.6,461.9L215.1,460.5L215.6,460.4L216.1,460.3L216.6,460.2L217.1,460.1L217.6,460L218.1,459.9L218.6,459.8L219.1,459.7L219.6,459.9L220.1,460.2L220.6,460.4L221.1,460.7L221.6,461L222.1,461.2L222.6,461.5L223.1,461.8L223.6,462L224.1,462.1L224.6,462.3L225.1,462.5L225.6,462.6L226.1,462.8L226.6,463L227.1,463.1L227.6,463.3L228.1,463.3L228.6,463.3L229.1,463.3L229.6,463.3L230.1,463.3L230.6,463.3L231.1,463.3L231.6,463.3L232.1,463.3L232.6,463.3L233.1,463.3L233.6,463.3L234.1,463.3L234.6,463.3L235.1,463.3L235.6,463.3L236.1,463.6L236.6,464.1L237.1,464.6L237.6,465.1L238.1,465.6L238.6,466.1L239.1,466.6L239.6,467.1L240.1,467.6L240.6,468.1L241.1,468.6L241.6,469.1L242.1,469.6L242.6,470.1L243.1,470.6L243.6,471.1L244.1,471.6L244.6,472.1L245.1,472.6L245.6,473.1L246.1,473.6L246.6,474.1L247.1,474.6L247.6,475.1L248.1,475.6L248.6,475.1L249.1,474.2L249.6,473.3L250.1,472.3L250.6,471.4L251.1,470.5L251.6,469.5L252.1,468.6L252.6,467.7L253.1,467L253.6,466.3L254.1,465.5L254.6,464.8L255.1,464.1L255.6,463.3L256.1,462.6L256.6,461.9L257.1,461.2L257.6,460.5L258.1,460.1L258.6,460.7L259.1,461.3L259.6,461.9L260.1,462.5L260.6,463.1L261.1,463.7L261.6,464.4L262.1,465L262.6,465.7L263.1,466.4L263.6,467L264.1,467.7L264.6,468.4L265.1,469L265.6,469.5L266.1,470L266.6,470.5L267.1,471L267.6,471.5L268.1,471.8L268.6,472L269.1,472.3L269.6,472.5L270.1,472.8L270.6,473L271.1,473.1L271.6,473.2L272.1,473.3L272.6,473.3L273.1,473.1L273.6,473L274.1,472.9L274.6,472.8L275.1,472.6L275.6,472.5L276.1,472.4L276.6,472.3L277.1,472.2L277.6,472.2L278.1,472.1L278.6,472L279.1,471.9L279.6,471.9L280.1,471.8L280.6,471.7L281.1,471.6L281.6,471.6L282.1,471.7L282.6,471.7L283.1,471.8L283.6,471.9L284.1,472L284.6,472L285.1,472.1L285.6,472.2L286.1,472.3L286.6,472.3L287.1,472.4L287.6,472.5L288.1,472.5L288.6,472.6L289.1,472.6L289.6,472.7L290.1,472.7L290.6,472.8L291.1,472.8L291.6,472.9L292.1,472.9L292.6,473L293.1,472.9L293.6,472.9L294.1,472.8L294.6,472.8L295.1,472.7L295.6,472.3L296.1,472.1L296.6,471.8L297.1,471.6L297.6,471.3L298.1,471.1L298.6,470.8L299.1,470.6L299.6,470.3L300.1,470.1L300.6,469.8L301.1,469.6L301.6,469.4L302.1,469.3L302.6,469.1L303.1,468.9L303.6,468.8L304.1,468.6L304.6,468.4L305.1,468.3L305.6,468.5L306.1,468.7L306.6,468.9L307.1,469.2L307.6,469.4L308.1,469.6L308.6,469.9L309.1,470.1L309.6,470.2L310.1,470.3L310.6,470.4L311.1,470.5L311.6,470.5L312.1,470.6L312.6,470.7L313.1,470.8L313.6,470.8L314.1,470.9L314.6,471L315.1,471.1L315.6,471.3L316.1,471.5L316.6,471.6L317.1,471.8L317.6,472L318.1,472.2L318.6,472.3L319.1,472.5L319.6,472.7L320.1,472.9L320.6,473L321.1,473.1L321.6,473.1L322.1,473.2L322.6,473.3L323.1,473.4L323.6,473.4L324.1,473.5L324.6,473.6L325.1,473.7L325.6,473.7L326.1,473.8L326.6,473.7L327.1,473.6L327.6,473.5L328.1,473.5L328.6,473.4L329.1,473.3L329.6,473.2L330.1,473.2L330.6,473.1L331.1,473L331.6,473L332.1,473L332.6,473.1L333.1,473.1L333.6,473.2L334.1,473.2L334.6,473.3L335.1,473.3L335.6,473.4L336.1,473.4L336.6,473.5L337.1,473.5L337.6,473.6L338.1,473.7L338.6,473.8L339.1,473.8L339.6,473.9L340.1,474L340.6,474.1L341.1,474.1L341.6,474.2L342.1,474.3L342.6,474.3L343.1,474.2L343.6,474L344.1,473.8L344.6,473.6L345.1,473.5L345.6,473.3L346.1,473.1L346.6,472.9L347.1,472.8L347.6,472.6L348.1,472.4L348.6,472.3L349.1,472.3L349.6,472.2L350.1,472.1L350.6,472L351.1,472L351.6,471.9L352.1,471.8L352.6,471.7L353.1,471.7L353.6,471.6L354.1,471.6L354.6,471.7L355.1,471.8L355.6,471.9L356.1,471.9L356.6,472L357.1,472.1L357.6,472.2L358.1,472.2L358.6,472.3L359.1,472.4L359.6,472.4L360.1,472.5L360.6,472.5L361.1,472.6L361.6,472.6L362.1,472.7L362.6,472.7L363.1,472.8L363.6,472.8L364.1,472.9L364.6,472.9L365.1,473L365.6,473.1L366.1,473.2L366.6,473.2L367.1,473.3L367.6,473.4L368.1,473.5L368.6,473.5L369.1,473.6L369.6,473.7L370.1,473.8L370.6,473.8L371.1,473.9L371.6,474L372.1,474.1L372.6,474.2L373.1,474.3L373.6,474.4L374.1,474.5L374.6,474.6L375.1,474.7L375.6,474.8L376.1,474.9L376.6,474.9L377.1,474.9L377.6,474.9L378.1,474.9L378.6,474.9L379.1,474.7L379.6,474.6L380.1,474.4L380.6,474.2L381.1,474L381.6,473.9L382.1,473.7L382.6,473.5L383.1,473.3L383.6,473.2L384.1,473L384.6,473L385.1,473L385.6,473L386.1,473L386.6,473L387.1,473L387.6,473L388.1,473L388.6,473L389.1,473L389.6,473L390.1,473L390.6,473L391.1,473L391.6,473L392.1,473L392.6,473L393.1,472.9L393.6,472.9L394.1,472.8L394.6,472.8L395.1,472.7L395.6,472.7L396.1,472.6L396.6,472.6L397.1,472.5L397.6,472.5L398.1,472.4L398.6,472.3L399.1,472.3L399.6,472.2L400.1,472.2L400.6,472.1L401.1,472L401.6,472L402.1,471.9L402.6,471.9L403.1,471.5L403.6,471.4L404.1,471.2L404.6,471L405.1,470.9L405.6,470.7L406.1,470.5L406.6,470.4L407.1,470.2L407.6,470.2L408.1,470.2L408.6,470.2L409.1,470.2L409.6,470.2L410.1,470.2L410.6,470.2L411.1,470.2L411.6,470.2L412.1,470.3L412.6,470.4L413.1,470.4L413.6,470.5L414.1,470.6L414.6,470.6L415.1,470.7L415.6,470.8L416.1,471.2L416.6,471.6L417.1,471.9L417.6,472.3L418.1,472.7L418.6,473L419.1,473.4L419.6,473.8L420.1,474.2L420.6,474.6L421.1,475L421.6,475.4L422.1,475.8L422.6,476.2L423.1,476.6L423.6,477L424.1,477.4L424.6,477.9L425.1,478.4L425.6,478.9L426.1,479.3L426.6,478.7L427.1,478.2L427.6,477.7L428.1,477.1L428.6,476.6L429.1,476.1L429.6,475.6L430.1,475L430.6,474.5L431.1,474L431.6,473.5L432.1,473L432.6,472.5L433.1,472L433.6,471.5L434.1,471L434.6,470.5L435.1,470.1L435.6,470L436.1,469.8L436.6,469.7L437.1,469.5L437.6,469.4L438.1,469.6L438.6,470L439.1,470.3L439.6,470.6L440.1,471L440.6,471.3L441.1,471.6L441.6,472L442.1,472.2L442.6,472.4L443.1,472.5L443.6,472.7L444.1,472.7L444.6,472.7L445.1,472.6L445.6,472.6L446.1,472.5L446.6,472.5L447.1,472.4L447.6,472.3L448.1,472.2L448.6,472L449.1,471.9L449.6,471.7L450.1,471.6L450.6,471.4L451.1,471.3L451.6,471.1L452.1,471L452.6,470.8L453.1,470.7L453.6,470.6L454.1,470.5L454.6,470.4L455.1,470.3L455.6,470.2L456.1,470.1L456.6,470L457.1,469.6L457.6,469.4L458.1,469.1L458.6,468.8L459.1,468.6L459.6,468.3L460.1,468L460.6,467.8L461.1,467.5L461.6,467.3L462.1,467.2L462.6,467L463.1,466.9L463.6,466.7L464.1,466.6L464.6,466.6L465.1,466.7L465.6,466.7L466.1,466.8L466.6,466.8L467.1,467.2L467.6,467.7L468.1,468.2L468.6,468.7L469.1,469.2L469.6,470.3L470.1,470.5L470.6,470.8L471.1,471L471.6,471.2L472.1,471.5L472.6,471.7L473.1,471.9L473.6,472.2L474.1,472.4L474.6,472.6L475.1,472.9L475.6,473.1L476.1,473.3L476.6,473.5L477.1,473.6L477.6,473.7L478.1,473.8L478.6,473.9L479.1,474L479.6,474.1L480.1,474.2L480.6,474.3L481.1,474.4L481.6,474.4L482.1,474.4L482.6,474.4L483.1,474.4L483.6,474.4L484.1,474.4L484.6,474.4L485.1,474.4L485.6,474.4L486.1,474.4L486.6,474.4L487.1,474.4L487.6,474.5L488.1,474.5L488.6,474.6L489.1,474.6L489.6,474.7L490.1,474.7L490.6,474.8L491.1,474.8L491.6,474.9L492.1,475L492.6,475L493.1,475.1L493.6,475.2L494.1,475.3L494.6,475.3L495.1,475.4L495.6,475.5L496.1,475.6L496.6,475.6L497.1,475.7L497.6,475.8L498.1,475.9L498.6,475.9L499.1,476L499.6,476.1L500.1,476.2L500.6,476.2L501.1,476.3L501.6,476.4L502.1,476.5L502.6,476.5L503.1,476.6L503.6,476.8L504.1,476.9L504.6,477L505.1,477.1L505.6,477.3L506.1,477.4L506.6,477.5L507.1,477.6L507.6,477.8L508.1,477.9L508.6,478L509.1,478.2L509.6,478.4L510.1,478.6L510.6,478.7L511.1,478.9L511.6,479.1L512.1,479.3L512.6,479.4L513.1,479.6L513.6,479.8L514.1,480L514.6,480.2L515.1,480.5L515.6,480.7L516.1,481L516.6,481.2L517.1,481.2L517.6,481L518.1,480.8L518.6,480.7L519.1,480.5L519.6,480.3L520.1,480.2L520.6,480L521.1,479.8L521.6,479.6L522.1,479.3L522.6,479.1L523.1,478.9L523.6,478.6L524.1,478.4L524.6,478.2L525.1,478L525.6,478L526.1,478.1L526.6,478.1L527.1,478.2L527.6,478.2L528.1,478.3L528.6,478.3L529.1,478.4L529.6,478.4L530.1,478.5L530.6,478.5L531.1,478.7L531.6,478.9L532.1,479.1L532.6,479.3L533.1,479.5L533.6,479.7L534.1,479.9L534.6,480.1L535.1,480.3L535.6,480.5L536.1,480.7L536.6,481L537.1,481.2L537.6,481.5L538.1,481.7L538.6,482L539.1,482.2L539.6,482.5L540.1,482.7L540.6,483L541.1,483.2L541.6,483.5L542.1,483.6L542.6,483.8L543.1,484L543.6,484.1L544.1,484.3L544.6,484.5L545.1,484.6L545.6,484.8L546.1,484.8L546.6,484.5L547.1,484.2L547.6,484L548.1,483.7L548.6,483.4L549.1,483.2L549.6,482.9L550.1,482.6L550.6,482.5L551.1,482.3L551.6,482.1L552.1,482L552.6,481.8L553.1,481.6L553.6,481.5L554.1,481.3L554.6,481.4L555.1,481.6L555.6,481.8L556.1,481.9L556.6,482.1L557.1,482.3L557.6,482.4L558.1,482.6L558.6,482.8L559.1,483L559.6,483.2L560.1,483.4L560.6,483.6L561.1,483.8L561.6,484L562.1,484.2L562.6,484.4L563.1,484.6L563.6,484.8L564.1,485L564.6,485.1L565.1,485.3L565.6,485.5L566.1,485.7L566.6,485.8L567.1,486L567.6,486.2L568.1,486.4L568.6,486.5L569.1,486.7L569.6,486.9L570.1,487.2L570.6,487.5L571.1,487.7L571.6,488L572.1,488.3L572.6,488.5L573.1,488.8L573.6,489.1L574.1,489.1L574.6,489.2L575.1,489.3L575.6,489.3L576.1,489.4L576.6,489.5L577.1,489.5L577.6,489.6L578.1,489.6L578.6,489.5L579.1,489.4L579.6,489.4L580.1,489.3L580.6,489.2L581.1,489.2L581.6,489.1L582.1,489.1L582.6,489.1L583.1,489.1L583.6,489.1L584.1,489.1L584.6,489.1L585.1,489.1L585.1,501.2Z" fill="#fc9a78"/>
<path d="M30.6,501.2L30.6,485.8L31.1,486.3L31.6,486.9L32.1,487.5L32.6,488.1L33.1,488.6L33.6,489.2L34.1,489.7L34.6,490.1L35.1,490.5L35.6,490.9L36.1,491.2L36.6,491.6L37.1,492L37.6,492.4L38.1,492.7L38.6,493.1L39.1,493.5L39.6,493.7L40.1,493.4L40.6,493L41.1,492.7L41.6,492.4L42.1,492L42.6,491.7L43.1,491.4L43.6,491L44.1,490.7L44.6,490.4L45.1,490L45.6,489.7L46.1,489.4L46.6,489L47.1,488.7L47.6,488.4L48.1,488L48.6,487.7L49.1,487.5L49.6,487.3L50.1,487.1L50.6,486.9L51.1,486.8L51.6,486.6L52.1,486.4L52.6,486.2L53.1,486L53.6,485.9L54.1,485.7L54.6,485.5L55.1,485.3L55.6,485.1L56.1,485L56.6,484.8L57.1,484.6L57.6,484.4L58.1,484.3L58.6,484.1L59.1,483.9L59.6,483.7L60.1,483.6L60.6,483.4L61.1,483.2L61.6,483.1L62.1,482.9L62.6,482.8L63.1,482.6L63.6,482.4L64.1,482.3L64.6,482.1L65.1,482L65.6,481.8L66.1,481.6L66.6,481.5L67.1,481.3L67.6,481.2L68.1,481.1L68.6,480.9L69.1,480.8L69.6,480.7L70.1,480.6L70.6,480.4L71.1,480.3L71.6,480.2L72.1,480.1L72.6,479.9L73.1,479.9L73.6,479.9L74.1,479.9L74.6,479.9L75.1,479.9L75.6,479.9L76.1,479.9L76.6,479.9L77.1,479.9L77.6,479.9L78.1,479.9L78.6,479.9L79.1,479.9L79.6,479.9L80.1,479.8L80.6,479.7L81.1,479.5L81.6,479.4L82.1,479.3L82.6,479.2L83.1,479L83.6,478.9L84.1,478.8L84.6,478.7L85.1,478.5L85.6,478.4L86.1,478.2L86.6,478L87.1,477.9L87.6,477.7L88.1,477.5L88.6,477.3L89.1,477.2L89.6,477L90.1,476.8L90.6,476.6L91.1,476.6L91.6,476.6L92.1,476.6L92.6,476.6L93.1,476.6L93.6,476.6L94.1,476.6L94.6,476.6L95.1,476.6L95.6,476.6L96.1,476.6L96.6,476.5L97.1,476.3L97.6,476.2L98.1,476L98.6,475.8L99.1,475.7L99.6,475.5L100.1,475.3L100.6,475.1L101.1,474.9L101.6,474.7L102.1,474.5L102.6,474.3L103.1,474.1L103.6,473.9L104.1,473.7L104.6,473.5L105.1,473.3L105.6,473.1L106.1,473L106.6,473.1L107.1,473.3L107.6,473.5L108.1,473.6L108.6,473.8L109.1,474L109.6,474.1L110.1,474.3L110.6,474.4L111.1,474.6L111.6,474.7L112.1,474.8L112.6,474.9L113.1,475.1L113.6,475.2L114.1,475.3L114.6,475.4L115.1,475.6L115.6,475.7L116.1,475.8L116.6,475.9L117.1,476.1L117.6,476.2L118.1,476.3L118.6,476.4L119.1,476.6L119.6,476.7L120.1,476.8L120.6,476.9L121.1,477.1L121.6,477.2L122.1,477.3L122.6,477.4L123.1,477.6L123.6,477.7L124.1,477.8L124.6,477.9L125.1,478.1L125.6,478.2L126.1,478.3L126.6,478.4L127.1,478.5L127.6,478.4L128.1,478.4L128.6,478.3L129.1,478.3L129.6,478.2L130.1,478.2L130.6,478.1L131.1,478.1L131.6,478L132.1,478L132.6,477.9L133.1,477.9L133.6,477.8L134.1,477.7L134.6,477.6L135.1,477.6L135.6,477.5L136.1,477.4L136.6,477.3L137.1,477.3L137.6,477.2L138.1,477.2L138.6,477.3L139.1,477.4L139.6,477.5L140.1,477.7L140.6,477.8L141.1,477.9L141.6,478L142.1,478.2L142.6,478.3L143.1,478.4L143.6,478.5L144.1,478.7L144.6,478.9L145.1,479L145.6,479.2L146.1,479.4L146.6,479.5L147.1,479.7L147.6,479.9L148.1,479.6L148.6,479.3L149.1,478.9L149.6,478.6L150.1,478.3L150.6,477.9L151.1,477.6L151.6,477.3L152.1,477L152.6,476.7L153.1,476.5L153.6,476.2L154.1,476L154.6,475.7L155.1,475.5L155.6,475.2L156.1,475L156.6,474.7L157.1,474.5L157.6,474.3L158.1,474.1L158.6,473.9L159.1,473.8L159.6,473.6L160.1,473.4L160.6,473.3L161.1,473.1L161.6,473L162.1,473.1L162.6,473.2L163.1,473.3L163.6,473.4L164.1,473.5L164.6,473.6L165.1,473.7L165.6,473.8L166.1,473.9L166.6,474L167.1,474.1L167.6,474.3L168.1,474.4L168.6,474.5L169.1,474.6L169.6,474.8L170.1,474.9L170.6,475L171.1,475.1L171.6,475.3L172.1,475.4L172.6,475.5L173.1,475.6L173.6,475.8L174.1,475.9L174.6,476L175.1,476.1L175.6,476.3L176.1,476.4L176.6,476.5L177.1,476.5L177.6,476.4L178.1,476.2L178.6,476.1L179.1,476L179.6,475.9L180.1,475.7L180.6,475.6L181.1,475.5L181.6,475.4L182.1,475.2L182.6,475.1L183.1,474.9L183.6,474.7L184.1,474.5L184.6,474.3L185.1,474.1L185.6,473.9L186.1,473.7L186.6,473.5L187.1,473.3L187.6,473.1L188.1,473L188.6,473.2L189.1,473.4L189.6,473.6L190.1,473.7L190.6,473.9L191.1,474.1L191.6,474.3L192.1,474.4L192.6,474.6L193.1,474.8L193.6,475L194.1,475.1L194.6,475.3L195.1,475.4L195.6,475.6L196.1,475.7L196.6,475.9L197.1,476L197.6,476.2L198.1,476.3L198.6,476.5L199.1,476.5L199.6,476.4L200.1,476.2L200.6,476.1L201.1,475.9L201.6,475.8L202.1,475.6L202.6,475.5L203.1,475.3L203.6,475.2L204.1,475L204.6,474.9L205.1,474.7L205.6,474.5L206.1,474.4L206.6,474.2L207.1,474L207.6,473.9L208.1,473.7L208.6,473.5L209.1,473.7L209.6,473.9L210.1,474.1L210.6,474.3L211.1,474.5L211.6,474.7L212.1,474.9L212.6,475.1L213.1,475.2L213.6,475.3L214.1,475.4L214.6,475.5L215.1,475.6L215.6,475.7L216.1,475.8L216.6,475.9L217.1,475.9L217.6,476L218.1,476.1L218.6,476.2L219.1,476.3L219.6,476.4L220.1,476.5L220.6,476.6L221.1,476.6L221.6,476.7L222.1,476.7L222.6,476.8L223.1,476.8L223.6,476.9L224.1,476.9L224.6,477L225.1,477L225.6,477.1L226.1,477.1L226.6,477.1L227.1,477L227.6,477L228.1,476.9L228.6,476.9L229.1,476.8L229.6,476.8L230.1,476.7L230.6,476.7L231.1,476.6L231.6,476.6L232.1,476.5L232.6,476.4L233.1,476.4L233.6,476.3L234.1,476.2L234.6,476.1L235.1,476.1L235.6,476L236.1,475.9L236.6,475.8L237.1,475.8L237.6,475.7L238.1,475.7L238.6,475.7L239.1,475.7L239.6,475.7L240.1,475.7L240.6,475.7L241.1,475.7L241.6,475.7L242.1,475.7L242.6,475.7L243.1,475.7L243.6,475.7L244.1,475.7L244.6,475.7L245.1,475.7L245.6,475.7L246.1,475.7L246.6,475.7L247.1,475.7L247.6,475.7L248.1,475.7L248.6,475.7L249.1,475.7L249.6,475.7L250.1,475.7L250.6,475.7L251.1,475.7L251.6,475.7L252.1,475.7L252.6,475.7L253.1,475.7L253.6,475.7L254.1,475.8L254.6,475.8L255.1,475.9L255.6,475.9L256.1,476L256.6,476L257.1,476.1L257.6,476.1L258.1,476.2L258.6,476.2L259.1,476.3L259.6,476.3L260.1,476.2L260.6,476.2L261.1,476.1L261.6,476.1L262.1,476L262.6,476L263.1,475.9L263.6,475.9L264.1,475.8L264.6,475.8L265.1,475.7L265.6,475.5L266.1,475.3L266.6,475.2L267.1,475L267.6,474.8L268.1,474.6L268.6,474.5L269.1,474.3L269.6,474.1L270.1,473.9L270.6,473.8L271.1,473.6L271.6,473.5L272.1,473.4L272.6,473.3L273.1,473.1L273.6,473L274.1,472.9L274.6,472.8L275.1,472.6L275.6,472.5L276.1,472.4L276.6,472.3L277.1,472.2L277.6,472.2L278.1,472.1L278.6,472L279.1,471.9L279.6,471.9L280.1,471.8L280.6,471.7L281.1,471.6L281.6,471.6L282.1,471.7L282.6,471.7L283.1,471.8L283.6,471.9L284.1,472L284.6,472L285.1,472.1L285.6,472.2L286.1,472.3L286.6,472.3L287.1,472.4L287.6,472.5L288.1,472.5L288.6,472.6L289.1,472.6L289.6,472.7L290.1,472.7L290.6,472.8L291.1,472.8L291.6,472.9L292.1,472.9L292.6,473L293.1,472.9L293.6,472.9L294.1,472.8L294.6,472.8L295.1,472.7L295.6,472.7L296.1,472.6L296.6,472.6L297.1,472.5L297.6,472.5L298.1,472.4L298.6,472.4L299.1,472.3L299.6,472.2L300.1,472.1L300.6,472.1L301.1,472L301.6,471.9L302.1,471.8L302.6,471.8L303.1,471.7L303.6,471.6L304.1,471.5L304.6,471.4L305.1,471.2L305.6,471.1L306.1,471L306.6,470.9L307.1,470.7L307.6,470.6L308.1,470.5L308.6,470.4L309.1,470.2L309.6,470.2L310.1,470.3L310.6,470.4L311.1,470.5L311.6,470.5L312.1,470.6L312.6,470.7L313.1,470.8L313.6,470.8L314.1,470.9L314.6,471L315.1,471.1L315.6,471.3L316.1,471.5L316.6,471.6L317.1,471.8L317.6,472L318.1,472.2L318.6,472.3L319.1,472.5L319.6,472.7L320.1,472.9L320.6,473L321.1,473.1L321.6,473.1L322.1,473.2L322.6,473.3L323.1,473.4L323.6,473.4L324.1,473.5L324.6,473.6L325.1,473.7L325.6,473.7L326.1,473.8L326.6,473.9L327.1,474L327.6,474.1L328.1,474.2L328.6,474.3L329.1,474.4L329.6,474.5L330.1,474.6L330.6,474.7L331.1,474.8L331.6,474.9L332.1,474.9L332.6,474.9L333.1,474.9L333.6,474.9L334.1,474.9L334.6,474.9L335.1,474.9L335.6,474.9L336.1,474.9L336.6,474.9L337.1,474.9L337.6,474.8L338.1,474.8L338.6,474.7L339.1,474.7L339.6,474.6L340.1,474.6L340.6,474.5L341.1,474.5L341.6,474.4L342.1,474.4L342.6,474.3L343.1,474.2L343.6,474L344.1,473.8L344.6,473.6L345.1,473.5L345.6,473.3L346.1,473.1L346.6,472.9L347.1,472.8L347.6,472.6L348.1,472.4L348.6,472.3L349.1,472.3L349.6,472.2L350.1,472.1L350.6,472L351.1,472L351.6,471.9L352.1,471.8L352.6,471.7L353.1,471.7L353.6,471.6L354.1,471.6L354.6,471.7L355.1,471.8L355.6,471.9L356.1,471.9L356.6,472L357.1,472.1L357.6,472.2L358.1,472.2L358.6,472.3L359.1,472.4L359.6,472.4L360.1,472.5L360.6,472.5L361.1,472.6L361.6,472.6L362.1,472.7L362.6,472.7L363.1,472.8L363.6,472.8L364.1,472.9L364.6,472.9L365.1,473L365.6,473.1L366.1,473.2L366.6,473.2L367.1,473.3L367.6,473.4L368.1,473.5L368.6,473.5L369.1,473.6L369.6,473.7L370.1,473.8L370.6,473.8L371.1,473.9L371.6,474L372.1,474.1L372.6,474.2L373.1,474.3L373.6,474.4L374.1,474.5L374.6,474.6L375.1,474.7L375.6,474.8L376.1,474.9L376.6,474.9L377.1,474.9L377.6,474.9L378.1,474.9L378.6,474.9L379.1,474.9L379.6,474.9L380.1,474.9L380.6,474.9L381.1,474.9L381.6,474.9L382.1,474.9L382.6,474.9L383.1,474.9L383.6,474.9L384.1,474.9L384.6,474.9L385.1,474.9L385.6,474.9L386.1,474.9L386.6,474.9L387.1,474.9L387.6,474.8L388.1,474.8L388.6,474.7L389.1,474.7L389.6,474.6L390.1,474.6L390.6,474.5L391.1,474.5L391.6,474.4L392.1,474.4L392.6,474.3L393.1,474.3L393.6,474.2L394.1,474.1L394.6,474L395.1,474L395.6,473.9L396.1,473.8L396.6,473.7L397.1,473.7L397.6,473.6L398.1,473.5L398.6,473.4L399.1,473.3L399.6,473.2L400.1,473.1L400.6,473L401.1,472.9L401.6,472.8L402.1,472.7L402.6,472.6L403.1,472.4L403.6,472.3L404.1,472.2L404.6,472.1L405.1,472L405.6,471.9L406.1,471.8L406.6,471.7L407.1,471.6L407.6,471.7L408.1,471.8L408.6,471.9L409.1,472L409.6,472.1L410.1,472.2L410.6,472.3L411.1,472.4L411.6,472.5L412.1,472.7L412.6,472.9L413.1,473L413.6,473.2L414.1,473.4L414.6,473.6L415.1,473.7L415.6,473.9L416.1,474.1L416.6,474.3L417.1,474.5L417.6,474.7L418.1,475L418.6,475.2L419.1,475.5L419.6,475.7L420.1,476L420.6,476.2L421.1,476.5L421.6,476.7L422.1,477L422.6,477.3L423.1,477.7L423.6,478L424.1,478.4L424.6,478.8L425.1,479.2L425.6,479.6L426.1,479.8L426.6,479.4L427.1,478.9L427.6,478.5L428.1,478.1L428.6,477.6L429.1,477.2L429.6,476.7L430.1,476.3L430.6,475.9L431.1,475.5L431.6,475.2L432.1,474.9L432.6,474.6L433.1,474.3L433.6,474L434.1,473.7L434.6,473.4L435.1,473.1L435.6,472.8L436.1,472.5L436.6,472.4L437.1,472.5L437.6,472.5L438.1,472.6L438.6,472.6L439.1,472.7L439.6,472.7L440.1,472.8L440.6,472.8L441.1,472.9L441.6,472.9L442.1,472.9L442.6,472.9L443.1,472.8L443.6,472.8L444.1,472.7L444.6,472.7L445.1,472.6L445.6,472.6L446.1,472.5L446.6,472.5L447.1,472.4L447.6,472.3L448.1,472.2L448.6,472L449.1,471.9L449.6,471.7L450.1,471.6L450.6,471.4L451.1,471.3L451.6,471.1L452.1,471L452.6,470.8L453.1,470.7L453.6,470.6L454.1,470.5L454.6,470.4L455.1,470.3L455.6,470.2L456.1,470.1L456.6,470L457.1,469.9L457.6,469.8L458.1,469.7L458.6,469.6L459.1,469.4L459.6,469.2L460.1,469L460.6,468.8L461.1,468.6L461.6,468.4L462.1,468.2L462.6,468L463.1,468.1L463.6,468.3L464.1,468.4L464.6,468.6L465.1,468.7L465.6,468.9L466.1,469L466.6,469.2L467.1,469.3L467.6,469.5L468.1,469.6L468.6,469.8L469.1,470.1L469.6,470.3L470.1,470.5L470.6,470.8L471.1,471L471.6,471.2L472.1,471.5L472.6,471.7L473.1,471.9L473.6,472.2L474.1,472.4L474.6,472.6L475.1,472.9L475.6,473.1L476.1,473.3L476.6,473.5L477.1,473.6L477.6,473.7L478.1,473.8L478.6,473.9L479.1,474L479.6,474.1L480.1,474.2L480.6,474.3L481.1,474.4L481.6,474.4L482.1,474.4L482.6,474.4L483.1,474.4L483.6,474.4L484.1,474.4L484.6,474.4L485.1,474.4L485.6,474.4L486.1,474.4L486.6,474.4L487.1,474.4L487.6,474.5L488.1,474.5L488.6,474.6L489.1,474.6L489.6,474.7L490.1,474.7L490.6,474.8L491.1,474.8L491.6,474.9L492.1,475L492.6,475L493.1,475.1L493.6,475.2L494.1,475.3L494.6,475.3L495.1,475.4L495.6,475.5L496.1,475.6L496.6,475.6L497.1,475.7L497.6,475.8L498.1,475.9L498.6,475.9L499.1,476L499.6,476.1L500.1,476.2L500.6,476.2L501.1,476.3L501.6,476.4L502.1,476.5L502.6,476.5L503.1,476.6L503.6,476.8L504.1,476.9L504.6,477L505.1,477.1L505.6,477.3L506.1,477.4L506.6,477.5L507.1,477.6L507.6,477.8L508.1,477.9L508.6,478L509.1,478.2L509.6,478.4L510.1,478.6L510.6,478.7L511.1,478.9L511.6,479.1L512.1,479.3L512.6,479.4L513.1,479.6L513.6,479.8L514.1,480L514.6,480.2L515.1,480.5L515.6,480.7L516.1,481L516.6,481.2L517.1,481.2L517.6,481L518.1,480.8L518.6,480.7L519.1,480.5L519.6,480.3L520.1,480.2L520.6,480L521.1,479.8L521.6,479.6L522.1,479.3L522.6,479.1L523.1,478.9L523.6,478.6L524.1,478.4L524.6,478.2L525.1,478L525.6,478L526.1,478.1L526.6,478.1L527.1,478.2L527.6,478.2L528.1,478.3L528.6,478.3L529.1,478.4L529.6,478.4L530.1,478.5L530.6,478.5L531.1,478.7L531.6,478.9L532.1,479.1L532.6,479.3L533.1,479.5L533.6,479.7L534.1,479.9L534.6,480.1L535.1,480.3L535.6,480.5L536.1,480.7L536.6,481L537.1,481.2L537.6,481.5L538.1,481.7L538.6,482L539.1,482.2L539.6,482.5L540.1,482.7L540.6,483L541.1,483.2L541.6,483.5L542.1,483.6L542.6,483.8L543.1,484L543.6,484.1L544.1,484.3L544.6,484.5L545.1,484.6L545.6,484.8L546.1,484.8L546.6,484.5L547.1,484.2L547.6,484L548.1,483.7L548.6,483.4L549.1,483.2L549.6,482.9L550.1,482.6L550.6,482.5L551.1,482.3L551.6,482.1L552.1,482L552.6,481.8L553.1,481.6L553.6,481.5L554.1,481.3L554.6,481.4L555.1,481.6L555.6,481.8L556.1,481.9L556.6,482.1L557.1,482.3L557.6,482.4L558.1,482.6L558.6,482.8L559.1,483L559.6,483.2L560.1,483.4L560.6,483.6L561.1,483.8L561.6,484L562.1,484.2L562.6,484.4L563.1,484.6L563.6,484.8L564.1,485L564.6,485.1L565.1,485.3L565.6,485.5L566.1,485.7L566.6,485.8L567.1,486L567.6,486.2L568.1,486.4L568.6,486.5L569.1,486.7L569.6,486.9L570.1,487.2L570.6,487.5L571.1,487.7L571.6,488L572.1,488.3L572.6,488.5L573.1,488.8L573.6,489.1L574.1,489.1L574.6,489.2L575.1,489.3L575.6,489.3L576.1,489.4L576.6,489.5L577.1,489.5L577.6,489.6L578.1,489.6L578.6,489.5L579.1,489.4L579.6,489.4L580.1,489.3L580.6,489.2L581.1,489.2L581.6,489.1L582.1,489.1L582.6,489.1L583.1,489.1L583.6,489.1L584.1,489.1L584.6,489.1L585.1,489.1L585.1,501.2Z" fill="#958420"/>
<rect x="30.6" y="452.8" width="554.6" height="48.4" fill="none" stroke="#141414" stroke-width="1.35"/>
<path d="M585.2,477.1H589.6M585.2,501H589.6" stroke="#141414" stroke-width="1.3"/>
<text class="n" transform="translate(594.4,481.3) scale(1.0366,1)" font-size="15.9" fill="#111111">20</text>
<text class="n" transform="translate(593.9,506.3) scale(1.0366,1)" font-size="15.9" fill="#111111">10</text>
<text transform="translate(0.3,471.8) scale(1.1,1)" font-size="20.2" font-weight="bold" fill="#000" stroke="#000" stroke-width="1.3">e</text>
<text class="n" transform="translate(253.2,494.6) scale(0.9979,1)" font-size="16.6" fill="#111111">Gypsy/Copia</text>
<path d="M30.6,560.3L30.6,520.9L32.5,522.3L35.3,524.2L38.1,523.1L40.9,525L43.6,524.2L46.4,527L49.2,525L52,525.9L54.7,523.6L57.5,524.2L60.3,524.2L62.5,528.6L65.3,523.6L68.6,525L71.4,525.9L73.6,526.4L75.5,534.2L78.3,532L81.1,533.4L83.9,535.6L85.8,533.9L87.5,540.8L89.4,537L92.2,529.2L95,520.9L97.7,519.5L100.5,519.5L102.4,522.3L104.7,529.2L106.9,533.4L108.8,536.1L110.2,541.7L112.4,536.1L115.2,534.7L118.5,532L119.9,530.6L121.9,533.4L124.1,535.3L126.3,532.5L128.2,534.2L131,536.1L133.8,540.3L135.7,550L137.9,547.2L140.7,549.2L143.5,548.6L145.7,554.2L147.7,559.7L150.4,559.7L151.8,548.6L153.2,534.7L155.1,529.7L157.9,528.6L160.7,529.7L162.9,536.1L164.3,548.6L165.7,559.7L167.1,558.3L168.5,556.4L169.8,555.5L171.2,556.9L172.6,559.7L174,559.1L176.8,553.6L179.6,548.6L182.3,545.8L185.1,538.9L187.9,537.5L190.6,539.7L192.6,532L194.8,530.6L199,530.6L201.7,532L204.5,543.1L207.3,548.6L210.1,556.9L212.3,559.7L214.2,559.1L217.2,548.6L219.2,537.5L221.9,530.6L224.7,527L227.5,524.2L230.3,525.9L233,528.6L235,534.7L236.6,542.5L240,543.1L244.1,543.1L246.9,540.8L249.7,539.7L252.4,541.7L253.8,534.7L255.2,530.6L258,530.6L260.8,530.6L262.7,533.4L264.9,537.5L267.7,538.1L269.9,540.3L271.9,545.3L273.8,538.9L276,533.4L278.8,528.6L281.6,527.8L284.3,532L286.6,534.7L288.5,542.5L290.4,534.7L293.2,534.7L296,535.6L298.2,534.7L301,537.5L303.2,536.1L306.5,529.2L309.3,525L312.1,522.3L314.3,523.6L316.2,527.8L319,533.4L321.8,538.1L324.6,542.5L327.3,543.1L329.3,548.6L331.5,555.5L334.3,550L337,548.6L339.8,550L342.6,547.2L345.4,545.8L347.6,541.7L349.5,540.3L352.3,541.1L355.1,541.7L357.8,550L359.8,558.3L362,551.4L364.8,545.8L367.6,541.7L369.8,540.3L371.7,545.8L373.7,550L375.3,544.4L378.1,548.6L380,543.1L382.8,540.3L385.6,540.3L387.5,541.7L389.7,537.5L392.5,534.7L395.3,530.6L397.5,527.8L399.5,529.2L402.2,534.7L405.2,545.8L406.3,559.7L411.3,559.7L412.7,547.2L414.6,540.3L416.9,537L419.1,538.1L421,536.1L423,540.3L424.6,541.7L426.6,550L428.5,545.8L430.2,550L432.1,548.6L434.1,545.8L435.7,537.5L437.7,534.7L440.4,534.2L443.2,536.1L445.2,537.5L446.8,542.5L448.8,537.5L451.5,534.7L453.5,529.2L455.7,524.2L457.9,527L461.2,527.8L464,530.6L466.2,533.4L468.2,530.6L471,528.6L472.9,530.6L475.1,532L477.3,532.5L479.3,536.1L481.2,539.7L483.4,544.4L485.7,550.8L487.6,540.3L490.4,532L493.1,528.6L495.9,527L498.7,533.4L500.6,527.8L503.4,523.6L506.2,521.4L509,519.5L511.7,525L513.9,529.2L516.7,526.4L519.5,522.3L522.3,518.1L525,518.6L527.8,520.9L530,525L532,532L533.9,522.3L536.1,518.1L538.9,519.5L541.7,522.3L544.5,524.2L546.7,527.8L548.6,519.5L550.6,515.3L552.8,517.5L555.6,516.7L557.8,519.5L559.7,518.6L561.7,516.7L563.9,519.5L566.6,522.3L569.4,522.3L572.2,520.3L575,517.5L577.7,513.9L580,514.8L581.9,518.1L585,518.6L585,560.3Z" fill="#6a59d0"/>
<rect x="30.6" y="511.5" width="554.6" height="48.8" fill="none" stroke="#141414" stroke-width="1.35"/>
<path d="M585.2,535.8H589.6M585.2,560.2H589.6" stroke="#141414" stroke-width="1.3"/>
<text class="n" transform="translate(593.9,540.4) scale(1.0366,1)" font-size="15.9" fill="#111111">1.1</text>
<text class="n" transform="translate(594.6,565.3) scale(1.0366,1)" font-size="15.9" fill="#111111">0.6</text>
<text transform="translate(0.3,531.8) scale(1.1,1)" font-size="20.2" font-weight="bold" fill="#000" stroke="#000" stroke-width="1.3">f</text>
<text class="n" transform="translate(273.1,558.3) scale(0.9761,1)" font-size="16.6" fill="#111111">lncRNA</text>
<g stroke="#5c1c6c" stroke-width="0.6" stroke-linejoin="round">
<path d="M30.6,620.2L30.6,583.9L31.1,590.8L31.9,597.7L32.9,594.3L33.8,593.6L34.7,597.7L35.2,606.1L36,597.7L37,592.2L38,586.4L39.1,585.9L40.2,586.6L41,588.7L41.9,588L42.6,597.7L43.3,601.9L43.9,610.2L44.6,600.5L45.6,590.8L46.4,586.9L47.1,588.7L48.1,597.7L48.8,608.8L49.5,615.8L50.2,604.7L51.2,593.6L51.9,585.9L52.5,583.9L53.2,590.8L53.8,604.7L54.4,614.4L55,619.2L55.7,611.6L56.6,597.7L57.4,601.9L58.2,619.2L62.7,619.2L63.5,608.8L64.3,596.4L65.2,606.1L66,619.2L66.6,611.6L67.5,598.4L68.2,603.3L69.1,599.8L70,597.7L70.7,604.7L71.3,619.2L73.1,619.2L74,600.5L74.9,608.8L75.7,614.4L76.5,599.1L77.4,598.4L78.2,606.1L79,619.2L82.8,619.2L83.8,600.5L84.6,598.4L85.4,611.6L86.2,596.4L87.1,595.7L87.9,606.1L88.7,619.2L89.7,608.8L90.7,593.6L91.5,597.7L92.2,611.6L92.9,619.2L93.9,606.1L94.8,604L95.7,611.6L96.5,619.2L104.3,619.2L105.2,605.4L106.1,619.2L110.9,619.2L112,604.7L112.9,619.2L118.1,619.2L119.5,601.9L120.6,619.2L120.6,620.2Z" fill="#7a2e8c"/>
<path d="M169.2,620.2L169.2,619.2L170.6,600.5L171.6,611.6L173.7,590.1L174.9,608.8L176.4,590.1L178,619.2L178,620.2Z" fill="#7a2e8c"/>
<path d="M183.8,620.2L183.8,619.2L185.2,604.7L186.3,619.2L186.3,620.2Z" fill="#7a2e8c"/>
<path d="M187.3,620.2L187.3,619.2L188.2,604L188.9,608.8L189.8,601.2L190.7,619.2L190.7,620.2Z" fill="#7a2e8c"/>
<path d="M192.1,620.2L192.1,619.2L193.1,610.2L193.9,609.5L194.9,604.7L196,619.2L196,620.2Z" fill="#7a2e8c"/>
<path d="M242.1,620.2L242.1,619.2L243.2,610.2L243.8,610.2L244.6,604.7L245.6,619.2L245.6,620.2Z" fill="#7a2e8c"/>
<path d="M246.6,620.2L246.6,619.2L247.4,604.7L248.4,619.2L248.4,620.2Z" fill="#7a2e8c"/>
<path d="M492,620.2L492,619.2L492,603.3L493.1,604.7L494.5,585.9L495.5,604.7L496.4,613L497.5,604.7L498.2,593.6L498.9,604.7L499.6,611.6L500.3,592.2L501,604.7L501.4,619.2L504.8,619.2L505.6,604.7L506.7,584.6L507.5,597.7L508.4,611.6L509.3,604.7L510,615.8L511.1,604.7L512.5,588.7L513.5,604.7L514.2,611.6L515.3,595.7L516.3,604.7L517,611.6L518.1,601.9L519.3,594.3L520.4,599.1L521.4,604.7L522.2,611.6L523.2,604.7L524.6,589.4L525.6,597.7L526.7,590.8L527.6,583.9L528.3,592.2L529.2,610.2L530.1,619.2L530.8,611.6L531.5,597.7L532.5,617.2L533.6,611.6L534.3,604.7L535.3,619.2L537.1,619.2L538.2,597.7L539.2,611.6L540.5,604.7L541.9,594.3L543,593.6L544,595L545,604.7L545.8,615.8L546.5,597.7L547.5,611.6L548.6,599.1L549.6,604.7L550.2,611.6L551.4,603.3L552.1,615.8L553,597.7L554,611.6L555.1,604.7L556.5,604.7L557.9,604L558.8,601.9L559.7,595.7L560.6,597.7L561.6,604.7L562.7,615.8L563.7,603.3L564.8,597.7L565.8,594.3L566.9,592.2L568,589.4L569.1,587.3L569.9,597.7L570.8,604.7L571.7,600.5L572.7,603.3L573.8,611.6L574.9,614.4L575.9,596.4L576.9,610.2L578,611.6L579.1,617.2L580.1,619.2L581.5,619.2L582.1,604.7L583.5,604.7L584.6,604.7L585.2,604.7L585.2,620.2Z" fill="#7a2e8c"/>
<path d="M132.4,620.2L133.5,604.7L134.5,620.2Z" fill="#7a2e8c"/>
<path d="M137.4,620.2L138.4,604L139.5,620.2Z" fill="#7a2e8c"/>
<path d="M141.1,620.2L142.2,604L143.3,620.2Z" fill="#7a2e8c"/>
<path d="M143.5,620.2L144.5,604L145.6,620.2Z" fill="#7a2e8c"/>
<path d="M218.2,620.2L219.2,604L220.2,620.2Z" fill="#7a2e8c"/>
<path d="M268.2,620.2L269.2,597.7L270.2,620.2Z" fill="#7a2e8c"/>
<path d="M275.8,620.2L276.8,604.7L277.8,620.2Z" fill="#7a2e8c"/>
<path d="M289.6,620.2L290.7,601.2L291.7,620.2Z" fill="#7a2e8c"/>
<path d="M294.5,620.2L295.8,597.7L297.1,620.2Z" fill="#7a2e8c"/>
<path d="M301.2,620.2L302.2,605.4L303.2,620.2Z" fill="#7a2e8c"/>
<path d="M303.3,620.2L304.3,595.7L305.3,620.2Z" fill="#7a2e8c"/>
<path d="M305.2,620.2L306.2,604.7L307.2,620.2Z" fill="#7a2e8c"/>
<path d="M306.4,620.2L307.4,604.7L308.4,620.2Z" fill="#7a2e8c"/>
<path d="M314.9,620.2L316,597.7L317.1,620.2Z" fill="#7a2e8c"/>
<path d="M316.1,620.2L317.1,606.1L318.1,620.2Z" fill="#7a2e8c"/>
<path d="M322.9,620.2L324,601.2L325.1,620.2Z" fill="#7a2e8c"/>
<path d="M329.6,620.2L330.7,595.7L331.8,620.2Z" fill="#7a2e8c"/>
<path d="M331.1,620.2L332.1,604.7L333.1,620.2Z" fill="#7a2e8c"/>
<path d="M340.8,620.2L341.8,605.4L342.8,620.2Z" fill="#7a2e8c"/>
<path d="M343.1,620.2L344.1,604.7L345.1,620.2Z" fill="#7a2e8c"/>
<path d="M347.5,620.2L348.6,598.4L349.7,620.2Z" fill="#7a2e8c"/>
<path d="M349.1,620.2L350.1,604.7L351.1,620.2Z" fill="#7a2e8c"/>
<path d="M350.5,620.2L351.5,602.6L352.5,620.2Z" fill="#7a2e8c"/>
<path d="M352.8,620.2L353.8,595.7L354.9,620.2Z" fill="#7a2e8c"/>
<path d="M354.2,620.2L355.2,604.7L356.2,620.2Z" fill="#7a2e8c"/>
<path d="M356.6,620.2L357.6,604.7L358.6,620.2Z" fill="#7a2e8c"/>
<path d="M361.6,620.2L362.6,604L363.6,620.2Z" fill="#7a2e8c"/>
<path d="M366,620.2L367,605.4L368,620.2Z" fill="#7a2e8c"/>
<path d="M369.5,620.2L370.5,604.7L371.5,620.2Z" fill="#7a2e8c"/>
<path d="M370.9,620.2L371.9,604.7L372.9,620.2Z" fill="#7a2e8c"/>
<path d="M373.4,620.2L374.4,601.2L375.4,620.2Z" fill="#7a2e8c"/>
<path d="M379.4,620.2L380.5,598.4L381.6,620.2Z" fill="#7a2e8c"/>
<path d="M385.4,620.2L386.4,605.4L387.4,620.2Z" fill="#7a2e8c"/>
<path d="M388.9,620.2L389.9,604.7L390.9,620.2Z" fill="#7a2e8c"/>
<path d="M393.7,620.2L394.8,595.7L395.8,620.2Z" fill="#7a2e8c"/>
<path d="M397.9,620.2L398.9,603.3L399.9,620.2Z" fill="#7a2e8c"/>
<path d="M400,620.2L401,600.5L402,620.2Z" fill="#7a2e8c"/>
<path d="M403.5,620.2L404.5,604.7L405.5,620.2Z" fill="#7a2e8c"/>
<path d="M410.2,620.2L411.2,604.7L412.2,620.2Z" fill="#7a2e8c"/>
<path d="M416.4,620.2L417.4,604.7L418.5,620.2Z" fill="#7a2e8c"/>
<path d="M419.2,620.2L420.2,604.7L421.2,620.2Z" fill="#7a2e8c"/>
<path d="M424,620.2L425.1,601.2L426.2,620.2Z" fill="#7a2e8c"/>
<path d="M429.8,620.2L430.9,601.2L432,620.2Z" fill="#7a2e8c"/>
<path d="M446.5,620.2L447.5,604.7L448.6,620.2Z" fill="#7a2e8c"/>
<path d="M450.6,620.2L451.7,604.7L452.8,620.2Z" fill="#7a2e8c"/>
<path d="M452.5,620.2L453.5,610.2L454.5,620.2Z" fill="#7a2e8c"/>
<path d="M454.2,620.2L455.2,593.6L456.2,620.2Z" fill="#7a2e8c"/>
<path d="M458.1,620.2L459.1,604.7L460.1,620.2Z" fill="#7a2e8c"/>
<path d="M459.7,620.2L460.7,604.7L461.7,620.2Z" fill="#7a2e8c"/>
<path d="M461.5,620.2L462.5,604.7L463.5,620.2Z" fill="#7a2e8c"/>
<path d="M465.2,620.2L466.3,604.7L467.3,620.2Z" fill="#7a2e8c"/>
<path d="M469.6,620.2L470.8,597.7L472.1,620.2Z" fill="#7a2e8c"/>
<path d="M473.6,620.2L474.6,604.7L475.6,620.2Z" fill="#7a2e8c"/>
<path d="M477.3,620.2L478.3,604.7L479.3,620.2Z" fill="#7a2e8c"/>
<path d="M481.8,620.2L482.9,604.7L484,620.2Z" fill="#7a2e8c"/>
<path d="M483.7,620.2L484.7,603.3L485.7,620.2Z" fill="#7a2e8c"/>
<path d="M484.7,620.2L485.7,601.2L486.7,620.2Z" fill="#7a2e8c"/>
<path d="M486.5,620.2L487.5,597.7L488.5,620.2Z" fill="#7a2e8c"/>
<path d="M489.3,620.2L490.3,595.7L491.3,620.2Z" fill="#7a2e8c"/>
<path d="M491.2,620.2L492.2,599.8L493.2,620.2Z" fill="#7a2e8c"/>
</g>
<rect x="30.6" y="618.4" width="554.6" height="1.8" fill="#5c1c6c"/>
<rect x="30.6" y="572" width="554.6" height="48.2" fill="none" stroke="#141414" stroke-width="1.35"/>
<path d="M585.2,596.4H589.6M585.2,618.7H589.6" stroke="#141414" stroke-width="1.3"/>
<text class="n" transform="translate(594.4,601.1) scale(1.0366,1)" font-size="15.9" fill="#111111">2.5</text>
<text class="n" transform="translate(594.6,621.3) scale(1.0366,1)" font-size="15.9" fill="#111111">0</text>
<text transform="translate(0.3,586.9) scale(1.1,1)" font-size="20.2" font-weight="bold" fill="#000" stroke="#000" stroke-width="1.3">g</text>
<text class="n" transform="translate(197.1,587.3) scale(0.995,1)" font-size="16.6" fill="#111111">Segmental duplicated genes</text>
<g stroke="#0c6468" stroke-width="0.6" stroke-linejoin="round">
<path d="M30.6,680.9L30.6,650.8L31.5,657.7L32.4,666.1L33.3,660.5L34.2,655.7L34.9,666.1L35.6,675.8L36.6,667.4L37.4,660.5L38.4,652.2L39.1,650.8L39.9,657.7L40.8,655L41.6,650.8L42.3,657.7L43,671.6L43.5,664.7L44.4,661.9L44.9,679.6L45.8,679.6L46.3,664.7L46.9,650.8L47.4,679.6L50.2,679.6L51.3,659.1L52.3,660.5L53.2,668.8L54.1,679.6L55.7,679.6L56.8,670.2L57.7,679.6L63.4,679.6L64.3,656.4L65.2,666.1L66.3,679.6L66.8,671.6L67.7,658.4L68.5,679.6L73.8,679.6L74.9,666.1L75.8,661.9L76.8,658.4L77.6,679.6L78.6,679.6L79.3,668.8L80.4,665.4L81.8,665.4L82.8,668.8L83.8,658.4L84.9,679.6L89.7,679.6L90.4,654.3L91.2,679.6L111.2,679.6L112.2,665.4L113,679.6L118.1,679.6L119.3,661.2L120.1,679.6L120.1,680.9Z" fill="#188a8e"/>
<path d="M492,680.9L492,679.6L492,665.4L493.1,671.6L494.4,658.4L495.5,679.6L497.3,679.6L498.2,665.4L498.9,679.6L505.9,679.6L507,665.4L507.9,679.6L511.1,679.6L512.8,654.3L513.9,671.6L515.3,661.9L516.3,671.6L517,679.6L518.1,679.6L519,665.4L519.7,671.6L521.1,665.4L521.8,671.6L522.8,679.6L523.6,664.7L524.6,652.2L525.6,671.6L526.7,657.7L527.8,645.9L528.8,657.7L529.7,679.6L535,679.6L536.4,665.4L537.5,671.6L538.9,654.3L539.8,671.6L540.5,679.6L541.2,671.6L542.2,656.4L543.3,671.6L544.4,679.6L545.1,679.6L546.1,665.4L547.1,679.6L550.9,679.6L551.9,665.4L552.7,679.6L554.4,679.6L556.1,658.4L557.2,671.6L558.3,665.4L559.3,665.4L560.4,658.4L561.3,671.6L562.5,665.4L563.4,665.4L564.4,661.9L565.5,671.6L566.6,657.7L567.6,652.2L568.6,657.7L569.7,664.7L570.8,663.3L572.2,661.9L573.1,679.6L574.9,679.6L575.9,665.4L576.9,679.6L578.7,679.6L580.1,665.4L580.8,679.6L583.5,679.6L584.6,664.7L585.2,664.7L585.2,680.9Z" fill="#188a8e"/>
<path d="M132.5,680.9L133.5,664.7L134.5,680.9Z" fill="#188a8e"/>
<path d="M171.4,680.9L172.4,664.7L173.4,680.9Z" fill="#188a8e"/>
<path d="M175.6,680.9L176.6,664.7L177.6,680.9Z" fill="#188a8e"/>
<path d="M294.5,680.9L295.5,664.7L296.5,680.9Z" fill="#188a8e"/>
<path d="M302.8,680.9L303.8,661.9L304.9,680.9Z" fill="#188a8e"/>
<path d="M316.8,680.9L317.8,665.4L318.8,680.9Z" fill="#188a8e"/>
<path d="M319.6,680.9L320.6,665.4L321.6,680.9Z" fill="#188a8e"/>
<path d="M322.3,680.9L323.3,665.4L324.3,680.9Z" fill="#188a8e"/>
<path d="M326.5,680.9L327.5,665.4L328.5,680.9Z" fill="#188a8e"/>
<path d="M347.2,680.9L348.3,652.9L349.4,680.9Z" fill="#188a8e"/>
<path d="M361.8,680.9L362.9,670.2L363.9,680.9Z" fill="#188a8e"/>
<path d="M370.2,680.9L371.2,665.4L372.2,680.9Z" fill="#188a8e"/>
<path d="M380.2,680.9L381.2,665.4L382.2,680.9Z" fill="#188a8e"/>
<path d="M397.6,680.9L398.6,665.4L399.6,680.9Z" fill="#188a8e"/>
<path d="M416,680.9L417,664.7L418,680.9Z" fill="#188a8e"/>
<path d="M428.9,680.9L430.2,670.2L431.5,680.9Z" fill="#188a8e"/>
<path d="M436.8,680.9L437.8,665.4L438.8,680.9Z" fill="#188a8e"/>
<path d="M444.5,680.9L445.5,665.4L446.5,680.9Z" fill="#188a8e"/>
<path d="M449.3,680.9L450.3,670.2L451.3,680.9Z" fill="#188a8e"/>
<path d="M451.3,680.9L452.4,665.4L453.5,680.9Z" fill="#188a8e"/>
<path d="M454.4,680.9L455.4,658.4L456.4,680.9Z" fill="#188a8e"/>
<path d="M470.3,680.9L471.4,665.4L472.5,680.9Z" fill="#188a8e"/>
<path d="M482.9,680.9L483.9,670.2L484.9,680.9Z" fill="#188a8e"/>
<path d="M484.2,680.9L485.3,656.4L486.3,680.9Z" fill="#188a8e"/>
<path d="M486.5,680.9L487.5,665.4L488.5,680.9Z" fill="#188a8e"/>
<path d="M489.3,680.9L490.3,665.4L491.3,680.9Z" fill="#188a8e"/>
<path d="M491.2,680.9L492.2,665.4L493.2,680.9Z" fill="#188a8e"/>
</g>
<rect x="30.6" y="679.1" width="554.6" height="1.8" fill="#0c6468"/>
<rect x="30.6" y="632.4" width="554.6" height="48.5" fill="none" stroke="#141414" stroke-width="1.35"/>
<path d="M585.2,657H589.6M585.2,679.5H589.6" stroke="#141414" stroke-width="1.3"/>
<text class="n" transform="translate(594.4,661.1) scale(1.0366,1)" font-size="15.9" fill="#111111">2.5</text>
<text class="n" transform="translate(594.6,683.5) scale(1.0366,1)" font-size="15.9" fill="#111111">0</text>
<text transform="translate(0.3,651.3) scale(1.1,1)" font-size="20.2" font-weight="bold" fill="#000" stroke="#000" stroke-width="1.3">h</text>
<text class="n" transform="translate(206.5,648.7) scale(0.9913,1)" font-size="16.6" fill="#111111">Tandem duplicated genes</text>
<path d="M30.6,742.9L30.6,705.3L32.5,703.9L35.3,703L38.1,703.3L40.9,705.3L43.6,704.7L46.4,706.1L49.2,706.6L52,708L54.2,710.8L56.1,715L58.1,717.2L60.3,717.7L63.1,719.1L65.8,720.5L68.6,720L71.4,720.5L74.2,720L76.9,720.5L79.7,721.9L82.5,723.3L85.2,723.8L88,724.7L90.8,725.5L93.6,726.1L96.3,726.6L99.1,727.4L101.9,724.7L104.7,727.4L107.4,728.8L110.2,729.4L113,729.7L115.8,729.7L118.5,730.2L121.3,729.7L124.1,731.1L126.9,730.8L129.6,731.1L132.4,731.6L135.2,732.2L137.9,734.4L140.7,737.2L143.5,737.7L146.3,734.4L149,731.6L151.8,733L154.6,729.4L157.4,731.6L160.1,731.1L162.9,733.8L165.7,737.7L168.5,734.4L171.2,733L174,733.5L176.8,733.5L179.6,732.2L182.3,730.2L185.1,726.9L187.9,728.3L190.6,730.2L193.4,731.6L196.2,733L199,733.5L201.7,733.8L204.5,733.8L207.3,733L210.1,734.4L212.8,735.8L217.8,737.7L220.5,738.5L223.3,737.2L226.1,735.8L228.9,734.4L231.6,733L234.4,732.2L237.2,731.6L240,730.2L242.7,731.1L245.5,731.6L248.3,733L251.1,734.4L253.8,734.9L256.6,733.8L259.4,732.2L262.2,731.1L264.9,730.2L267.7,728.8L270.5,728.3L273.2,727.4L276,726.1L278.8,726.9L281.6,728.8L284.3,730.2L287.1,731.6L289.9,730.2L292.7,727.4L295.4,725.2L298.2,724.1L301,725.5L303.8,727.4L306.5,728.8L309.3,730.2L312.1,731.1L314.9,731.6L317.6,733L320.4,733L323.2,731.6L325.9,729.7L328.7,728L331.5,727.4L334.3,728.8L337,730.2L339.8,728.8L342.6,726.9L345.4,726.1L348.1,727.4L350.9,728.8L353.7,728.3L356.5,728.8L359.2,728.3L362,727.4L364.8,726.9L367.6,728L370.3,728.8L373.1,728.3L375.9,728.8L378.6,728.3L381.4,728L384.2,727.4L387,726.6L389.7,726.1L392.5,725.5L395.3,723.8L398.1,722.7L400.8,724.7L405.8,728.8L408.5,730.2L411.3,729.7L414.1,731.1L416.9,731.6L419.6,731.1L422.4,729.4L425.2,728.8L428,728L430.7,728.8L433.5,728L436.3,727.4L439.1,726.9L441.8,726.1L444.6,725.5L447.4,726.9L450.2,728.8L452.9,730.8L455.7,730.2L458.5,728.3L461.2,726.1L464,727.4L466.8,726.1L469.6,725.2L472.3,723.8L475.1,724.7L477.9,725.5L480.7,724.7L483.4,726.1L486.2,725.2L489,726.1L491.8,726.6L494.5,722.7L497.3,723.8L500.1,723.3L502.9,724.1L505.6,723.3L508.4,723.8L511.2,722.7L513.9,720L516.7,718.6L519.5,720.5L521.7,717.7L523.7,720.5L526.4,721.1L529.2,719.1L532,720L534.8,719.7L537.5,720.5L540.3,723.3L543.1,717.7L545.8,714.4L548.6,712.2L550.6,710.8L552.8,714.4L555,716.4L556.9,719.1L559.7,716.4L562.5,715.8L565.3,714.4L568,712.2L570.8,709.4L573.6,707.2L575.5,706.1L577.7,708L580.5,710.8L583.3,712.2L585,712.7L585,742.9Z" fill="#14a5e0"/>
<rect x="30.6" y="694.1" width="554.6" height="48.8" fill="none" stroke="#141414" stroke-width="1.35"/>
<path d="M585.2,718.5H589.6M585.2,742.9H589.6" stroke="#141414" stroke-width="1.3"/>
<text class="n" transform="translate(594.6,722.4) scale(1.0366,1)" font-size="15.9" fill="#111111">3.07</text>
<text class="n" transform="translate(594.4,748) scale(1.0366,1)" font-size="15.9" fill="#111111">2.91</text>
<text transform="translate(0.3,715) scale(1.1,1)" font-size="20.2" font-weight="bold" fill="#000" stroke="#000" stroke-width="1.3">i</text>
<text class="n" transform="translate(208.2,710.8) scale(0.9862,1)" font-size="16.6" fill="#111111">Simple sequence repeats</text>
<path d="M30.6,804.9L30.6,785.3L31.4,777L32.5,770L33.9,765.9L35.3,767.3L36.7,770L38.1,777L39.5,785.3L40.9,777L42.3,767.3L43.6,761.7L45,764.5L46.4,760.3L47.8,757L49.2,757.5L50.6,764.5L52,771.4L53.4,768.6L54.7,774.2L56.1,767.3L57.5,770L58.9,768.6L60.3,777L61.7,786.7L63.1,793.6L64.4,778.4L65.8,775.6L67.2,774.7L68.6,779.7L70,793.6L71.4,783.9L72.8,785.3L74.2,786.7L75.5,788.1L76.9,790.8L78.3,789.4L79.7,792.2L81.1,793.6L82.5,796.4L83.9,804.1L85.2,803.3L88,801.9L90.8,800.5L93.6,801.1L96.3,801.4L99.1,803.3L100.5,804.7L107.4,804.7L108.8,801.9L111.6,801.4L113,804.7L117.1,804.7L118.5,801.9L121.3,799.2L124.1,801.4L125.5,804.1L128.2,804.7L129.6,801.9L133.8,801.4L135.2,804.7L236.6,804.7L237.7,801.9L241.4,801.4L242.7,804.7L255.2,804.7L256.6,799.2L259.4,798.6L260.8,804.7L267.7,804.7L269.1,803.3L273.2,802.8L274.6,804.7L283,804.7L284.3,803.3L287.7,803.3L289.3,804.7L295.4,804.7L296.8,802.5L299.6,802.5L301,804.7L311.5,804.7L313.5,799.2L315.4,793.1L318.2,792.2L320.4,795L322.6,803.3L325.9,804.7L327.3,803.6L330.1,803.6L331.5,804.7L338.4,804.7L339.8,802.8L343.1,802.5L344.8,797.8L346.8,793.6L348.7,795L350.9,801.9L352.3,804.7L357,804.7L358.7,796.4L360.6,795L362,783.9L363.4,789.4L364.8,790.8L366.2,781.1L367.6,789.4L368.9,790.8L370.3,792.2L371.7,790.8L373.1,790.8L374.5,783.9L375.9,792.2L378.1,793.6L380,804.7L381.4,804.7L382.8,790.8L384.8,783.9L387,785.3L388.4,790.8L389.7,796.4L392,803.3L393.9,796.4L396.7,790.8L398.1,789.4L400.3,795L402.2,803.3L404.4,804.7L421,804.7L423.8,803.3L425.2,796.9L428,797.2L429.4,797.8L430.7,803.3L432.1,801.9L434.1,799.7L436.3,801.4L438.5,803.3L440.4,804.7L441.8,803.3L443.2,796.4L444.6,795L446,794.2L447.4,796.4L448.8,795L451.5,795L453.5,796.4L454.3,803.3L457.1,804.7L458.5,803.3L459.9,796.4L461.2,785.3L462.6,777.8L464,782.5L465.4,781.1L466.8,785.3L468.2,796.4L469.6,800.5L471,803.3L472.3,799.2L473.7,795L475.1,793.6L477.3,792.2L479.3,796.4L480.7,793.6L482.1,787.5L484,789.4L485.7,792.2L486.8,803.3L488.4,804.7L489.5,796.4L491.2,785.3L492.3,775.6L494,779.7L495.4,788.1L497.3,788.1L498.7,786.7L500.1,789.4L501.5,789.4L502.9,788.1L504.2,790.8L505.6,789.4L507,789.4L508.4,792.2L509.8,790.8L511.2,778.4L512.6,781.1L513.9,777L515.3,781.1L516.7,782.5L518.1,788.1L519.5,796.4L520.9,803.3L522.3,799.2L523.7,788.1L525,774.2L526.4,765.9L527.8,768.6L529.2,770L530.6,772.8L532,770.9L533.4,775.6L534.8,777L536.1,772.8L537.5,774.2L538.9,770L540.3,766.4L541.7,765.9L543.1,768.6L544.5,770L545.8,775.6L547.2,771.4L548.6,770L550,771.4L551.4,772.8L552.8,777L554.2,790.8L555.6,793.6L556.9,792.2L558.3,792.2L559.7,790.8L561.1,774.2L562.5,767.3L563.9,765.3L565.3,764.5L566.1,768.6L567.2,785.3L568.9,795.8L570.8,800.5L572.8,803.3L575,804.1L578.3,804.1L580,790.8L581.4,786.7L583.3,788.1L585,788.1L585,804.9Z" fill="#0a640a"/>
<rect x="30.6" y="756.3" width="554.6" height="48.6" fill="none" stroke="#141414" stroke-width="1.35"/>
<path d="M585.2,780.5H589.6M585.2,804.9H589.6" stroke="#141414" stroke-width="1.3"/>
<text class="n" transform="translate(594.5,785.2) scale(1.0366,1)" font-size="15.9" fill="#111111">5</text>
<text class="n" transform="translate(594.6,810) scale(1.0366,1)" font-size="15.9" fill="#111111">0</text>
<text transform="translate(0.3,775.1) scale(1.1,1)" font-size="20.2" font-weight="bold" fill="#000" stroke="#000" stroke-width="1.3">j</text>
<text class="n" transform="translate(219.9,773.6) scale(1.0032,1)" font-size="16.6" fill="#111111">Linkage map distance</text>
<path d="M30.6,866.7L30.6,852.7L31.1,852.3L31.6,851.9L32.1,851.5L32.6,850.8L33.1,849.8L33.6,848.8L34.1,847.8L34.6,846.8L35.1,845.7L35.6,843.7L36.1,841.7L36.6,839.7L37.1,837.7L37.6,835.7L38.1,834.1L38.6,832.5L39.1,831L39.6,829.5L40.1,828.7L40.6,829.3L41.1,829.9L41.6,830.5L42.1,831.1L42.6,831.7L43.1,832.6L43.6,833.9L44.1,835.2L44.6,836.6L45.1,837.9L45.6,839.2L46.1,840.6L46.6,841.9L47.1,843.2L47.6,844.6L48.1,845.9L48.6,846.5L49.1,847L49.6,847.5L50.1,848L50.6,848.5L51.1,848.8L51.6,848.9L52.1,849.1L52.6,849.3L53.1,849.4L53.6,849.4L54.1,849.2L54.6,848.9L55.1,848.6L55.6,848.4L56.1,848.1L56.6,848L57.1,847.8L57.6,847.7L58.1,847.6L58.6,847.4L59.1,847.5L59.6,847.6L60.1,847.6L60.6,847.7L61.1,847.8L61.6,847.9L62.1,848.1L62.6,848.2L63.1,848.4L63.6,848.6L64.1,848.8L64.6,849.1L65.1,849.4L65.6,849.8L66.1,850.1L66.6,850.4L67.1,850.8L67.6,851.1L68.1,851.4L68.6,851.8L69.1,852.1L69.6,852.2L70.1,852.2L70.6,852.2L71.1,852.2L71.6,852.2L72.1,852.1L72.6,852L73.1,851.9L73.6,851.8L74.1,851.7L74.6,851.8L75.1,852.2L75.6,852.7L76.1,853.1L76.6,853.5L77.1,854L77.6,854.4L78.1,854.8L78.6,855.3L79.1,855.7L79.6,856.1L80.1,855.5L80.6,854.8L81.1,854L81.6,853.2L82.1,852.5L82.6,851.5L83.1,850.5L83.6,849.5L84.1,848.4L84.6,848.1L85.1,849.1L85.6,850.1L86.1,851L86.6,852L87.1,852.9L87.6,853.7L88.1,854.5L88.6,855.4L89.1,856.2L89.6,856.3L90.1,856L90.6,855.7L91.1,855.3L91.6,855L92.1,854.7L92.6,854.3L93.1,854L93.6,853.7L94.1,853.3L94.6,853L95.1,853.1L95.6,853.2L96.1,853.2L96.6,853.3L97.1,853.4L97.6,853.5L98.1,853.6L98.6,853.7L99.1,853.8L99.6,853.9L100.1,853.8L100.6,853.7L101.1,853.5L101.6,853.3L102.1,853.2L102.6,853L103.1,852.8L103.6,852.7L104.1,852.5L104.6,852.3L105.1,852.2L105.6,852.5L106.1,852.8L106.6,853.2L107.1,853.5L107.6,853.8L108.1,854.2L108.6,854.5L109.1,854.8L109.6,855.2L110.1,855.5L110.6,855.8L111.1,856.2L111.6,856.5L112.1,856.8L112.6,857.2L113.1,857.4L113.6,857.5L114.1,857.6L114.6,857.7L115.1,857.8L115.6,857.9L116.1,856.8L116.6,855.6L117.1,854.4L117.6,853.3L118.1,852.3L118.6,851.3L119.1,850.4L119.6,851.7L120.1,852.9L120.6,854.2L121.1,855.5L121.6,856.8L122.1,858.1L122.6,859.5L123.1,860.8L123.6,861.6L124.1,860.6L124.6,859.7L125.1,858.8L125.6,857.8L126.1,856.9L126.6,856L127.1,855.1L127.6,854.2L128.1,853.3L128.6,852.4L129.1,852.2L129.6,852.2L130.1,852.2L130.6,852.2L131.1,852.2L131.6,852.3L132.1,852.7L132.6,853L133.1,853.3L133.6,853.7L134.1,854L134.6,854.3L135.1,854.7L135.6,855L136.1,855.3L136.6,855.7L137.1,856L137.6,856.3L138.1,856.7L138.6,857L139.1,857.3L139.6,857.6L140.1,857.8L140.6,857.9L141.1,858.1L141.6,858.3L142.1,858.5L142.6,858.7L143.1,858.9L143.6,859.1L144.1,859.3L144.6,859.5L145.1,859.6L145.6,859.7L146.1,859.8L146.6,860L147.1,860.1L147.6,860.2L148.1,860.3L148.6,860.5L149.1,860.6L149.6,860.7L150.1,860.8L150.6,861L151.1,861.1L151.6,861.2L152.1,861.3L152.6,861.5L153.1,861.6L153.6,861.5L154.1,861.4L154.6,861.2L155.1,861.1L155.6,861L156.1,860.9L156.6,860.7L157.1,860.6L157.6,860.5L158.1,860.5L158.6,860.5L159.1,860.5L159.6,860.5L160.1,860.5L160.6,860.5L161.1,860.5L161.6,860.5L162.1,860.5L162.6,860.4L163.1,860.4L163.6,860.3L164.1,860.3L164.6,860.2L165.1,860.2L165.6,860.1L166.1,860.1L166.6,860L167.1,859.9L167.6,859.9L168.1,859.8L168.6,859.7L169.1,859.6L169.6,859.6L170.1,859.5L170.6,859.4L171.1,859.3L171.6,859.1L172.1,858.9L172.6,858.8L173.1,858.6L173.6,858.4L174.1,858.3L174.6,858.1L175.1,857.9L175.6,857.8L176.1,857.6L176.6,857.4L177.1,857.3L177.6,857.4L178.1,857.5L178.6,857.7L179.1,857.9L179.6,858L180.1,858.2L180.6,858.3L181.1,858.4L181.6,858.5L182.1,858.6L182.6,858.6L183.1,858.7L183.6,858.8L184.1,858.9L184.6,858.9L185.1,859L185.6,859.2L186.1,859.3L186.6,859.4L187.1,859.6L187.6,859.7L188.1,859.8L188.6,860.1L189.1,860.3L189.6,860.6L190.1,860.9L190.6,861.1L191.1,861.4L191.6,861.6L192.1,861.4L192.6,861.2L193.1,861.1L193.6,860.9L194.1,860.7L194.6,860.6L195.1,860.3L195.6,860.1L196.1,859.9L196.6,859.6L197.1,859.4L197.6,859.2L198.1,859L198.6,859.3L199.1,859.6L199.6,859.9L200.1,860.2L200.6,860.5L201.1,860.8L201.6,861L202.1,861.1L202.6,861.2L203.1,861.3L203.6,861.4L204.1,861.5L204.6,861.6L205.1,861.4L205.6,861.3L206.1,861.1L206.6,860.9L207.1,860.8L207.6,860.6L208.1,860.5L208.6,860.4L209.1,860.3L209.6,860.2L210.1,860.1L210.6,860L211.1,859.9L211.6,859.8L212.1,859.7L212.6,859.7L213.1,859.6L213.6,859.5L214.1,859.5L214.6,859.4L215.1,859.3L215.6,859.3L216.1,859.2L216.6,859.1L217.1,859.1L217.6,859L218.1,859L218.6,859L219.1,859L219.6,859L220.1,859L220.6,859L221.1,859L221.6,858.9L222.1,858.8L222.6,858.7L223.1,858.6L223.6,858.5L224.1,858.4L224.6,858.1L225.1,857.6L225.6,857.2L226.1,856.8L226.6,856.3L227.1,855.9L227.6,855.5L228.1,855.8L228.6,856.1L229.1,856.5L229.6,856.8L230.1,857.1L230.6,857.5L231.1,857.9L231.6,858.3L232.1,858.7L232.6,859.2L233.1,859.6L233.6,860L234.1,860.5L234.6,860.7L235.1,860.8L235.6,861L236.1,861.2L236.6,861.4L237.1,861.5L237.6,861.7L238.1,861.9L238.6,862L239.1,861.9L239.6,861.8L240.1,861.6L240.6,861.5L241.1,861.4L241.6,861.2L242.1,860.7L242.6,860L243.1,859.2L243.6,858.4L244.1,857.7L244.6,856.9L245.1,856.1L245.6,855.3L246.1,854.5L246.6,853.6L247.1,852.8L247.6,852L248.1,852.7L248.6,853.9L249.1,855.2L249.6,856.4L250.1,857.4L250.6,858.4L251.1,859.4L251.6,860.4L252.1,860.2L252.6,859.9L253.1,859.6L253.6,859.2L254.1,858.9L254.6,858.6L255.1,858.3L255.6,858.2L256.1,858.1L256.6,858L257.1,857.9L257.6,857.8L258.1,857.7L258.6,857.9L259.1,858.1L259.6,858.4L260.1,858.7L260.6,858.9L261.1,859.2L261.6,859.4L262.1,859L262.6,858.6L263.1,858.2L263.6,857.8L264.1,857.4L264.6,857L265.1,856.6L265.6,856.4L266.1,856.1L266.6,855.8L267.1,855.6L267.6,855.3L268.1,855L268.6,855.5L269.1,856L269.6,856.5L270.1,857L270.6,857.5L271.1,858L271.6,858.3L272.1,858.1L272.6,857.9L273.1,857.8L273.6,857.6L274.1,857.4L274.6,857.3L275.1,855.9L275.6,854.4L276.1,852.9L276.6,851.4L277.1,849.9L277.6,848.4L278.1,847.4L278.6,847.5L279.1,847.6L279.6,847.7L280.1,847.8L280.6,847.9L281.1,848L281.6,848.1L282.1,848.3L282.6,848.4L283.1,848.5L283.6,848.7L284.1,848.8L284.6,848.9L285.1,849.1L285.6,849.3L286.1,849.5L286.6,849.7L287.1,849.9L287.6,850.1L288.1,850.3L288.6,850.5L289.1,850.7L289.6,850.9L290.1,851.2L290.6,851.5L291.1,851.8L291.6,852.2L292.1,852.5L292.6,852.8L293.1,853.2L293.6,853L294.1,852.6L294.6,852.2L295.1,851.8L295.6,851.4L296.1,851L296.6,850.7L297.1,851.4L297.6,852L298.1,852.7L298.6,853.4L299.1,854L299.6,854.7L300.1,855.3L300.6,855.8L301.1,856.3L301.6,856.8L302.1,857.3L302.6,857.8L303.1,858.3L303.6,858L304.1,857.7L304.6,857.3L305.1,857L305.6,856.7L306.1,856.3L306.6,856.2L307.1,856.3L307.6,856.4L308.1,856.5L308.6,856.6L309.1,856.7L309.6,856.8L310.1,856.8L310.6,856.9L311.1,857L311.6,857L312.1,857.1L312.6,857.2L313.1,857.1L313.6,856.4L314.1,855.7L314.6,855.1L315.1,854.4L315.6,853.7L316.1,853.1L316.6,853L317.1,853.1L317.6,853.3L318.1,853.5L318.6,853.6L319.1,853.8L319.6,853.9L320.1,853.9L320.6,853.9L321.1,853.9L321.6,853.9L322.1,853.9L322.6,853.9L323.1,853.7L323.6,853.3L324.1,852.9L324.6,852.5L325.1,852.1L325.6,851.7L326.1,851.3L326.6,851.4L327.1,851.4L327.6,851.5L328.1,851.6L328.6,851.6L329.1,851.7L329.6,851.9L330.1,852.2L330.6,852.5L331.1,852.9L331.6,853.2L332.1,853.5L332.6,853.9L333.1,854.1L333.6,854.2L334.1,854.4L334.6,854.6L335.1,854.7L335.6,854.9L336.1,855.1L336.6,855.4L337.1,855.6L337.6,855.9L338.1,856.2L338.6,856.4L339.1,856.7L339.6,857L340.1,857.3L340.6,857.7L341.1,858L341.6,858.3L342.1,858.7L342.6,858.9L343.1,858.4L343.6,857.9L344.1,857.4L344.6,856.9L345.1,856.4L345.6,855.9L346.1,855.7L346.6,855.6L347.1,855.6L347.6,855.6L348.1,855.5L348.6,855.5L349.1,855.5L349.6,855.4L350.1,855.3L350.6,855.3L351.1,855.2L351.6,855.1L352.1,855.1L352.6,854.9L353.1,854.6L353.6,854.2L354.1,853.9L354.6,853.6L355.1,853.2L355.6,852.9L356.1,852.8L356.6,852.8L357.1,852.7L357.6,852.7L358.1,852.6L358.6,852.6L359.1,852.5L359.6,852.5L360.1,852.4L360.6,852.3L361.1,852.3L361.6,852.2L362.1,852.1L362.6,852L363.1,852L363.6,851.9L364.1,851.8L364.6,851.7L365.1,851.7L365.6,851.6L366.1,851.5L366.6,851.4L367.1,851.4L367.6,851.3L368.1,851.2L368.6,851.1L369.1,851L369.6,850.9L370.1,850.8L370.6,850.7L371.1,850.6L371.6,850.5L372.1,850.4L372.6,850.3L373.1,850.2L373.6,850.2L374.1,850.1L374.6,850L375.1,849.9L375.6,849.9L376.1,849.8L376.6,849.7L377.1,849.6L377.6,849.6L378.1,849.5L378.6,849.4L379.1,849.3L379.6,849.3L380.1,849.2L380.6,849.1L381.1,849L381.6,849L382.1,848.9L382.6,848.8L383.1,848.7L383.6,848.6L384.1,848.5L384.6,848.4L385.1,848.3L385.6,848.2L386.1,848.1L386.6,848.1L387.1,848.1L387.6,848.2L388.1,848.3L388.6,848.3L389.1,848.4L389.6,848.5L390.1,848.5L390.6,848.5L391.1,848.5L391.6,848.5L392.1,848.5L392.6,848.5L393.1,848.3L393.6,847.8L394.1,847.3L394.6,846.8L395.1,846.3L395.6,845.8L396.1,845.3L396.6,845.7L397.1,846.4L397.6,847L398.1,847.7L398.6,848.4L399.1,849L399.6,849.7L400.1,850.6L400.6,851.4L401.1,852.2L401.6,853.1L402.1,853.9L402.6,854.7L403.1,854.8L403.6,854.5L404.1,854.2L404.6,853.8L405.1,853.5L405.6,853.2L406.1,852.9L406.6,853.1L407.1,853.4L407.6,853.7L408.1,853.9L408.6,854.2L409.1,854.5L409.6,854.8L410.1,855.3L410.6,855.8L411.1,856.2L411.6,856.7L412.1,857.2L412.6,857.6L413.1,858.2L413.6,858.7L414.1,859.2L414.6,859.8L415.1,860.3L415.6,860.8L416.1,861L416.6,860.6L417.1,860.1L417.6,859.7L418.1,859.3L418.6,858.8L419.1,858.4L419.6,858.2L420.1,858L420.6,857.9L421.1,857.7L421.6,857.5L422.1,857.4L422.6,857.2L423.1,857.3L423.6,857.4L424.1,857.4L424.6,857.5L425.1,857.6L425.6,857.6L426.1,857.9L426.6,858.2L427.1,858.5L427.6,858.9L428.1,859.2L428.6,859.5L429.1,859.8L429.6,860.2L430.1,860.5L430.6,859.9L431.1,859.2L431.6,858.6L432.1,857.9L432.6,857.2L433.1,856.6L433.6,856L434.1,855.6L434.6,855.1L435.1,854.7L435.6,854.3L436.1,853.8L436.6,853.4L437.1,853.5L437.6,853.8L438.1,854L438.6,854.3L439.1,854.6L439.6,854.8L440.1,855.1L440.6,855.4L441.1,855.6L441.6,855.9L442.1,856.2L442.6,856.4L443.1,856.7L443.6,856.5L444.1,856.1L444.6,855.6L445.1,855.2L445.6,854.8L446.1,854.3L446.6,853.9L447.1,853.2L447.6,852.6L448.1,851.9L448.6,851.2L449.1,850.6L449.6,849.9L450.1,849.3L450.6,848.9L451.1,848.5L451.6,848L452.1,847.6L452.6,847.2L453.1,846.7L453.6,846.6L454.1,846.5L454.6,846.3L455.1,846.2L455.6,846.1L456.1,845.9L456.6,845.9L457.1,846L457.6,846.2L458.1,846.3L458.6,846.4L459.1,846.6L459.6,846.7L460.1,847.2L460.6,847.9L461.1,848.5L461.6,849.2L462.1,849.9L462.6,850.6L463.1,851.4L463.6,852.1L464.1,852.9L464.6,853.6L465.1,854.4L465.6,855.1L466.1,855.9L466.6,855.5L467.1,854.5L467.6,853.5L468.1,852.5L468.6,851.5L469.1,850.5L469.6,849.5L470.1,848.8L470.6,848.2L471.1,847.5L471.6,846.8L472.1,846.2L472.6,845.5L473.1,844.9L473.6,844.2L474.1,843.6L474.6,842.9L475.1,842.4L475.6,842.7L476.1,843L476.6,843.4L477.1,843.7L477.6,844L478.1,844.4L478.6,844.8L479.1,845.2L479.6,845.6L480.1,846.1L480.6,846.5L481.1,846.9L481.6,847.4L482.1,847.9L482.6,848.4L483.1,848.9L483.6,849.4L484.1,849.9L484.6,850.4L485.1,850.2L485.6,849.2L486.1,848.2L486.6,847.2L487.1,846.2L487.6,845.2L488.1,844.2L488.6,843.4L489.1,842.5L489.6,841.7L490.1,840.9L490.6,840L491.1,839.2L491.6,838.6L492.1,838.5L492.6,838.4L493.1,838.3L493.6,838.2L494.1,838.1L494.6,838L495.1,838.6L495.6,839.6L496.1,840.5L496.6,841.4L497.1,842.4L497.6,843.3L498.1,844.2L498.6,845.3L499.1,846.4L499.6,847.5L500.1,848.5L500.6,849.6L501.1,849.4L501.6,847.6L502.1,845.8L502.6,844L503.1,842.2L503.6,840.5L504.1,838.8L504.6,837.2L505.1,835.5L505.6,833.9L506.1,834.1L506.6,834.7L507.1,835.3L507.6,835.9L508.1,836.5L508.6,837.1L509.1,837.7L509.6,838.6L510.1,839.4L510.6,840.2L511.1,841.1L511.6,841.9L512.1,842.7L512.6,843.4L513.1,844.1L513.6,844.8L514.1,845.4L514.6,846.1L515.1,846.8L515.6,847.3L516.1,846.3L516.6,845.3L517.1,844.3L517.6,843.3L518.1,842.3L518.6,841.3L519.1,840.6L519.6,840.1L520.1,839.7L520.6,839.3L521.1,838.8L521.6,838.4L522.1,838L522.6,837.8L523.1,837.7L523.6,837.6L524.1,837.4L524.6,837.3L525.1,837.2L525.6,837.3L526.1,837.9L526.6,838.4L527.1,839L527.6,839.6L528.1,840.1L528.6,840.7L529.1,840.9L529.6,841.1L530.1,841.3L530.6,841.4L531.1,841.6L531.6,841.8L532.1,841.8L532.6,841.3L533.1,840.8L533.6,840.3L534.1,839.8L534.6,839.3L535.1,838.8L535.6,837.9L536.1,836.9L536.6,835.9L537.1,834.9L537.6,833.9L538.1,833L538.6,832L539.1,831.1L539.6,830.1L540.1,829.1L540.6,829.7L541.1,831.1L541.6,832.6L542.1,834L542.6,835.5L543.1,836.5L543.6,836.9L544.1,837.2L544.6,837.5L545.1,837.9L545.6,838.2L546.1,838.5L546.6,837.7L547.1,836.5L547.6,835.4L548.1,834.2L548.6,833L549.1,831.9L549.6,831.3L550.1,832.8L550.6,834.3L551.1,835.8L551.6,837.3L552.1,839.4L552.6,841.7L553.1,843.9L553.6,846.2L554.1,847.4L554.6,847.4L555.1,847.4L555.6,847.4L556.1,847.4L556.6,847.4L557.1,847.4L557.6,847.2L558.1,847L558.6,846.8L559.1,846.6L559.6,846.4L560.1,846.1L560.6,845.3L561.1,844.4L561.6,843.6L562.1,842.8L562.6,841.9L563.1,841.3L563.6,840.6L564.1,839.9L564.6,839.3L565.1,838.6L565.6,837.9L566.1,837.3L566.6,836.7L567.1,836.1L567.6,835.5L568.1,834.9L568.6,834.3L569.1,833.7L569.6,834.1L570.1,834.7L570.6,835.3L571.1,835.9L571.6,836.5L572.1,837.1L572.6,837.7L573.1,838.3L573.6,839L574.1,839.7L574.6,840.3L575.1,841L575.6,841.7L576.1,842.3L576.6,843L577.1,843.7L577.6,844.3L578.1,845L578.6,845.7L579.1,846.3L579.6,846.6L580.1,846.8L580.6,847.1L581.1,847.3L581.6,846.8L582.1,846.1L582.6,845.3L583.1,844.6L583.6,844.1L584.1,844.1L584.6,844.1L585.1,844.1L585.1,866.7Z" fill="#7272f0"/>
<path d="M30.6,866.7L30.6,850L31.1,849.6L31.6,849.3L32.1,848.9L32.6,848.3L33.1,847.5L33.6,846.6L34.1,845.8L34.6,845L35.1,843.9L35.6,841.9L36.1,839.9L36.6,837.9L37.1,835.9L37.6,833.9L38.1,832.3L38.6,830.8L39.1,829.3L39.6,827.7L40.1,827L40.6,827.6L41.1,828.2L41.6,828.7L42.1,829.3L42.6,829.9L43.1,830.7L43.6,831.7L44.1,832.7L44.6,833.7L45.1,834.7L45.6,835.8L46.1,837.3L46.6,838.8L47.1,840.3L47.6,841.8L48.1,843.3L48.6,844L49.1,844.7L49.6,845.3L50.1,846L50.6,846.7L51.1,847L51.6,847.1L52.1,847.2L52.6,847.3L53.1,847.4L53.6,847.6L54.1,848L54.6,848.4L55.1,848.8L55.6,849.2L56.1,849.6L56.6,850.1L57.1,850.6L57.6,851.1L58.1,851.6L58.6,852.1L59.1,852.3L59.6,852.5L60.1,852.6L60.6,852.8L61.1,853L61.6,852.8L62.1,852.5L62.6,852.2L63.1,851.8L63.6,851.5L64.1,851.3L64.6,851.5L65.1,851.7L65.6,851.8L66.1,852L66.6,852.2L67.1,852.3L67.6,852.5L68.1,852.7L68.6,852.8L69.1,853L69.6,853L70.1,853L70.6,853L71.1,853L71.6,853L72.1,853L72.6,852.9L73.1,852.9L73.6,852.8L74.1,852.7L74.6,852.8L75.1,853.2L75.6,853.6L76.1,854L76.6,854.4L77.1,854.8L77.6,855.2L78.1,855.6L78.6,856L79.1,856.4L79.6,856.8L80.1,856.2L80.6,855.4L81.1,854.6L81.6,853.8L82.1,853L82.6,852.2L83.1,851.4L83.6,850.5L84.1,849.7L84.6,849.6L85.1,850.6L85.6,851.7L86.1,852.7L86.6,853.7L87.1,854.5L87.6,855.3L88.1,856.1L88.6,856.8L89.1,857.6L89.6,857.6L90.1,857.1L90.6,856.6L91.1,856L91.6,855.5L92.1,855.1L92.6,854.8L93.1,854.6L93.6,854.4L94.1,854.1L94.6,853.9L95.1,853.9L95.6,853.9L96.1,853.9L96.6,853.9L97.1,853.9L97.6,854L98.1,854.2L98.6,854.4L99.1,854.5L99.6,854.7L100.1,854.7L100.6,854.5L101.1,854.4L101.6,854.2L102.1,854L102.6,853.9L103.1,853.9L103.6,853.9L104.1,853.9L104.6,853.9L105.1,853.9L105.6,854.1L106.1,854.3L106.6,854.4L107.1,854.6L107.6,854.8L108.1,855.1L108.6,855.5L109.1,855.9L109.6,856.3L110.1,856.7L110.6,857L111.1,857.3L111.6,857.6L112.1,857.8L112.6,858.1L113.1,858.2L113.6,858.1L114.1,857.9L114.6,857.7L115.1,857.6L115.6,857.4L116.1,856.1L116.6,854.9L117.1,853.6L117.6,852.4L118.1,851.3L118.6,850.2L119.1,849.2L119.6,850.5L120.1,851.9L120.6,853.2L121.1,854.7L121.6,856.3L122.1,857.8L122.6,859.4L123.1,861L123.6,861.9L124.1,861L124.6,860.1L125.1,859.2L125.6,858.3L126.1,857.4L126.6,856.6L127.1,855.8L127.6,854.9L128.1,854.1L128.6,853.3L129.1,853L129.6,853L130.1,853L130.6,853L131.1,853L131.6,853.2L132.1,853.5L132.6,853.9L133.1,854.2L133.6,854.5L134.1,854.9L134.6,855.2L135.1,855.5L135.6,855.9L136.1,856.2L136.6,856.5L137.1,856.9L137.6,857.2L138.1,857.5L138.6,857.9L139.1,858.2L139.6,858.4L140.1,858.6L140.6,858.7L141.1,858.9L141.6,859L142.1,859.2L142.6,859.3L143.1,859.5L143.6,859.6L144.1,859.8L144.6,859.9L145.1,860.1L145.6,860.2L146.1,860.4L146.6,860.5L147.1,860.7L147.6,860.8L148.1,861L148.6,861.1L149.1,861.2L149.6,861.2L150.1,861.2L150.6,861.2L151.1,861.2L151.6,861.2L152.1,861.2L152.6,861.2L153.1,861.2L153.6,861.2L154.1,861.2L154.6,861.2L155.1,861.2L155.6,861.2L156.1,861.2L156.6,861.2L157.1,861.2L157.6,861.2L158.1,861.1L158.6,861.1L159.1,861L159.6,861L160.1,861L160.6,860.9L161.1,860.9L161.6,860.9L162.1,860.8L162.6,860.8L163.1,860.7L163.6,860.7L164.1,860.7L164.6,860.6L165.1,860.6L165.6,860.6L166.1,860.5L166.6,860.4L167.1,860.3L167.6,860.2L168.1,860.1L168.6,859.9L169.1,859.8L169.6,859.7L170.1,859.6L170.6,859.4L171.1,859.2L171.6,858.9L172.1,858.6L172.6,858.4L173.1,858.1L173.6,857.8L174.1,857.6L174.6,857.5L175.1,857.4L175.6,857.2L176.1,857.1L176.6,857L177.1,856.8L177.6,857L178.1,857.2L178.6,857.4L179.1,857.7L179.6,857.9L180.1,858.1L180.6,858.3L181.1,858.5L181.6,858.6L182.1,858.7L182.6,858.9L183.1,859L183.6,859.1L184.1,859.2L184.6,859.4L185.1,859.5L185.6,859.6L186.1,859.8L186.6,859.9L187.1,860L187.6,860.1L188.1,860.3L188.6,860.3L189.1,860.4L189.6,860.5L190.1,860.5L190.6,860.6L191.1,860.7L191.6,860.7L192.1,860.8L192.6,860.9L193.1,860.9L193.6,861L194.1,861.1L194.6,861.1L195.1,861L195.6,860.7L196.1,860.4L196.6,860.2L197.1,859.9L197.6,859.6L198.1,859.4L198.6,859.6L199.1,859.8L199.6,860L200.1,860.2L200.6,860.4L201.1,860.6L201.6,860.8L202.1,861L202.6,861.2L203.1,861.4L203.6,861.6L204.1,861.8L204.6,862L205.1,861.9L205.6,861.8L206.1,861.7L206.6,861.6L207.1,861.5L207.6,861.4L208.1,861.3L208.6,861.2L209.1,861L209.6,860.9L210.1,860.8L210.6,860.7L211.1,860.6L211.6,860.5L212.1,860.4L212.6,860.3L213.1,860.2L213.6,860L214.1,859.9L214.6,859.8L215.1,859.8L215.6,859.8L216.1,859.7L216.6,859.7L217.1,859.6L217.6,859.6L218.1,859.5L218.6,859.5L219.1,859.4L219.6,859.4L220.1,859.4L220.6,859.3L221.1,859.3L221.6,859.2L222.1,859.2L222.6,859.1L223.1,859.1L223.6,859L224.1,859L224.6,858.8L225.1,858.4L225.6,858.1L226.1,857.8L226.6,857.4L227.1,857.1L227.6,856.8L228.1,857.1L228.6,857.5L229.1,857.8L229.6,858.1L230.1,858.5L230.6,858.8L231.1,859.1L231.6,859.5L232.1,859.8L232.6,860.1L233.1,860.5L233.6,860.8L234.1,861.1L234.6,861.2L235.1,861.2L235.6,861.3L236.1,861.3L236.6,861.3L237.1,861.3L237.6,861.4L238.1,861.4L238.6,861.4L239.1,861.5L239.6,861.5L240.1,861.5L240.6,861.5L241.1,861.6L241.6,861.6L242.1,861.2L242.6,860.5L243.1,859.7L243.6,859L244.1,858.3L244.6,857.5L245.1,856.8L245.6,856.1L246.1,855.3L246.6,854.6L247.1,853.8L247.6,853.1L248.1,853.6L248.6,854.7L249.1,855.7L249.6,856.8L250.1,857.8L250.6,858.9L251.1,859.9L251.6,861L252.1,861L252.6,860.8L253.1,860.6L253.6,860.3L254.1,860.1L254.6,859.9L255.1,859.7L255.6,859.5L256.1,859.3L256.6,859L257.1,858.8L257.6,858.6L258.1,858.4L258.6,858.3L259.1,858.2L259.6,858.2L260.1,858.1L260.6,858.1L261.1,858L261.6,858L262.1,857.9L262.6,857.9L263.1,857.8L263.6,857.8L264.1,857.7L264.6,857.7L265.1,857.5L265.6,857.3L266.1,857.1L266.6,856.8L267.1,856.6L267.6,856.4L268.1,856.1L268.6,856.6L269.1,857L269.6,857.4L270.1,857.9L270.6,858.3L271.1,858.7L271.6,858.9L272.1,858.7L272.6,858.5L273.1,858.3L273.6,858.1L274.1,857.9L274.6,857.7L275.1,856.4L275.6,854.9L276.1,853.5L276.6,852L277.1,850.5L277.6,849.1L278.1,848.1L278.6,848.2L279.1,848.4L279.6,848.6L280.1,848.7L280.6,848.9L281.1,849.1L281.6,849.2L282.1,849.4L282.6,849.6L283.1,849.7L283.6,849.9L284.1,850.1L284.6,850.2L285.1,850.4L285.6,850.5L286.1,850.7L286.6,850.8L287.1,850.9L287.6,851.1L288.1,851.2L288.6,851.4L289.1,851.5L289.6,851.6L290.1,851.8L290.6,851.8L291.1,851.8L291.6,851.8L292.1,851.8L292.6,851.8L293.1,851.8L293.6,851.8L294.1,851.8L294.6,851.8L295.1,851.8L295.6,851.8L296.1,851.8L296.6,851.8L297.1,852.5L297.6,853.1L298.1,853.8L298.6,854.5L299.1,855.1L299.6,855.8L300.1,856.4L300.6,856.9L301.1,857.4L301.6,857.9L302.1,858.4L302.6,858.9L303.1,859.4L303.6,859.3L304.1,859.1L304.6,858.9L305.1,858.8L305.6,858.6L306.1,858.4L306.6,858.3L307.1,858.1L307.6,857.9L308.1,857.8L308.6,857.6L309.1,857.4L309.6,857.3L310.1,857.1L310.6,856.9L311.1,856.7L311.6,856.5L312.1,856.3L312.6,856.1L313.1,855.9L313.6,855.7L314.1,855.5L314.6,855.3L315.1,855.1L315.6,854.9L316.1,854.7L316.6,854.6L317.1,854.7L317.6,854.8L318.1,854.8L318.6,854.9L319.1,855L319.6,855L320.1,855.1L320.6,855.2L321.1,855.2L321.6,855.3L322.1,855.4L322.6,855.4L323.1,855.4L323.6,855.1L324.1,854.9L324.6,854.7L325.1,854.4L325.6,854.2L326.1,854L326.6,854.1L327.1,854.2L327.6,854.3L328.1,854.4L328.6,854.5L329.1,854.6L329.6,854.8L330.1,854.9L330.6,855L331.1,855.1L331.6,855.2L332.1,855.3L332.6,855.5L333.1,855.6L333.6,855.7L334.1,855.8L334.6,856L335.1,856.1L335.6,856.2L336.1,856.4L336.6,856.5L337.1,856.6L337.6,856.8L338.1,856.9L338.6,857L339.1,857.2L339.6,857.4L340.1,857.8L340.6,858.1L341.1,858.4L341.6,858.8L342.1,859.1L342.6,859.4L343.1,859.1L343.6,858.9L344.1,858.6L344.6,858.4L345.1,858.1L345.6,857.9L346.1,857.6L346.6,857.4L347.1,857.1L347.6,856.9L348.1,856.6L348.6,856.4L349.1,856.1L349.6,856L350.1,855.8L350.6,855.6L351.1,855.5L351.6,855.3L352.1,855.1L352.6,855L353.1,854.8L353.6,854.6L354.1,854.5L354.6,854.3L355.1,854.1L355.6,854L356.1,853.9L356.6,853.9L357.1,853.8L357.6,853.8L358.1,853.8L358.6,853.7L359.1,853.7L359.6,853.6L360.1,853.6L360.6,853.6L361.1,853.5L361.6,853.5L362.1,853.5L362.6,853.4L363.1,853.4L363.6,853.3L364.1,853.3L364.6,853.3L365.1,853.2L365.6,853.1L366.1,853L366.6,852.9L367.1,852.8L367.6,852.7L368.1,852.6L368.6,852.6L369.1,852.5L369.6,852.4L370.1,852.3L370.6,852.2L371.1,852.1L371.6,852L372.1,851.9L372.6,851.9L373.1,851.8L373.6,851.7L374.1,851.6L374.6,851.5L375.1,851.4L375.6,851.3L376.1,851.2L376.6,851.2L377.1,851.1L377.6,851L378.1,850.9L378.6,850.8L379.1,850.7L379.6,850.6L380.1,850.5L380.6,850.5L381.1,850.4L381.6,850.3L382.1,850.2L382.6,850L383.1,849.8L383.6,849.6L384.1,849.4L384.6,849.2L385.1,849L385.6,848.8L386.1,848.6L386.6,848.4L387.1,848.4L387.6,848.3L388.1,848.2L388.6,848.2L389.1,848.1L389.6,848L390.1,848.4L390.6,848.8L391.1,849.2L391.6,849.6L392.1,850L392.6,850.4L393.1,850.5L393.6,850L394.1,849.5L394.6,849L395.1,848.5L395.6,848L396.1,847.5L396.6,847.9L397.1,848.6L397.6,849.2L398.1,849.9L398.6,850.6L399.1,851.2L399.6,851.9L400.1,852.4L400.6,852.9L401.1,853.4L401.6,853.9L402.1,854.4L402.6,854.9L403.1,854.7L403.6,854.2L404.1,853.7L404.6,853.2L405.1,852.7L405.6,852.2L406.1,851.8L406.6,852.2L407.1,852.7L407.6,853.1L408.1,853.5L408.6,854L409.1,854.4L409.6,854.9L410.1,855.4L410.6,855.9L411.1,856.4L411.6,856.9L412.1,857.4L412.6,857.9L413.1,858.4L413.6,858.9L414.1,859.4L414.6,859.9L415.1,860.4L415.6,860.9L416.1,861.1L416.6,860.8L417.1,860.5L417.6,860.3L418.1,860L418.6,859.7L419.1,859.5L419.6,859.2L420.1,858.9L420.6,858.7L421.1,858.4L421.6,858.1L422.1,857.9L422.6,857.7L423.1,857.9L423.6,858.1L424.1,858.3L424.6,858.5L425.1,858.6L425.6,858.8L426.1,859L426.6,859.2L427.1,859.4L427.6,859.6L428.1,859.8L428.6,859.9L429.1,860.1L429.6,860.3L430.1,860.5L430.6,860.1L431.1,859.6L431.6,859.1L432.1,858.6L432.6,858.1L433.1,857.6L433.6,857.1L434.1,856.6L434.6,856.1L435.1,855.6L435.6,855.1L436.1,854.6L436.6,854.1L437.1,854.2L437.6,854.5L438.1,854.9L438.6,855.2L439.1,855.5L439.6,855.9L440.1,856.1L440.6,855.9L441.1,855.8L441.6,855.6L442.1,855.4L442.6,855.3L443.1,855.1L443.6,854.9L444.1,854.8L444.6,854.6L445.1,854.4L445.6,854.3L446.1,854.1L446.6,853.9L447.1,853.2L447.6,852.6L448.1,851.9L448.6,851.2L449.1,850.6L449.6,849.9L450.1,849.4L450.6,849.1L451.1,848.7L451.6,848.4L452.1,848.1L452.6,847.7L453.1,847.4L453.6,847.3L454.1,847.2L454.6,847.1L455.1,847L455.6,846.9L456.1,846.8L456.6,846.8L457.1,846.9L457.6,847L458.1,847.1L458.6,847.2L459.1,847.3L459.6,847.4L460.1,847.9L460.6,848.5L461.1,849.2L461.6,849.8L462.1,850.5L462.6,851.2L463.1,851.8L463.6,852.5L464.1,853.2L464.6,853.9L465.1,854.5L465.6,855.2L466.1,855.9L466.6,855.6L467.1,854.8L467.6,853.9L468.1,853.1L468.6,852.3L469.1,851.4L469.6,850.6L470.1,850.1L470.6,849.6L471.1,849.1L471.6,848.6L472.1,848.1L472.6,847.6L473.1,847.2L473.6,846.8L474.1,846.5L474.6,846.1L475.1,845.9L475.6,846.1L476.1,846.3L476.6,846.6L477.1,846.8L477.6,847L478.1,847.3L478.6,847.6L479.1,847.9L479.6,848.2L480.1,848.6L480.6,848.9L481.1,849.2L481.6,849.6L482.1,849.9L482.6,850.2L483.1,850.6L483.6,850.9L484.1,851.2L484.6,851.6L485.1,851.4L485.6,850.6L486.1,849.7L486.6,848.9L487.1,848.1L487.6,847.2L488.1,846.4L488.6,845.6L489.1,844.7L489.6,843.9L490.1,843.1L490.6,842.2L491.1,841.4L491.6,840.8L492.1,840.8L492.6,840.8L493.1,840.8L493.6,840.8L494.1,840.8L494.6,840.8L495.1,841.3L495.6,842.1L496.1,842.9L496.6,843.6L497.1,844.4L497.6,845.2L498.1,846L498.6,846.8L499.1,847.7L499.6,848.5L500.1,849.3L500.6,850.2L501.1,850.1L501.6,848.8L502.1,847.6L502.6,846.3L503.1,845.1L503.6,844L504.1,843.5L504.6,843L505.1,842.5L505.6,842L506.1,842L506.6,842.2L507.1,842.4L507.6,842.5L508.1,842.7L508.6,842.9L509.1,843.1L509.6,843.4L510.1,843.7L510.6,844.1L511.1,844.4L511.6,844.7L512.1,845.1L512.6,845.5L513.1,846L513.6,846.5L514.1,847L514.6,847.5L515.1,848L515.6,848.2L516.1,846L516.6,843.7L517.1,841.5L517.6,839.2L518.1,838.3L518.6,837.8L519.1,837.3L519.6,836.8L520.1,836.5L520.6,836.6L521.1,836.7L521.6,836.8L522.1,836.9L522.6,837L523.1,837.1L523.6,837.5L524.1,838L524.6,838.5L525.1,839L525.6,839.4L526.1,839.8L526.6,840.2L527.1,840.6L527.6,841L528.1,841.4L528.6,841.8L529.1,841.9L529.6,841.9L530.1,841.9L530.6,841.9L531.1,841.9L531.6,841.9L532.1,841.8L532.6,841.3L533.1,840.8L533.6,840.3L534.1,839.8L534.6,839.5L535.1,839.2L535.6,839L536.1,838.7L536.6,838.2L537.1,837.5L537.6,836.7L538.1,836L538.6,835.3L539.1,835L539.6,834.8L540.1,834.5L540.6,834.3L541.1,835L541.6,836L542.1,837L542.6,838L543.1,838.7L543.6,839.1L544.1,839.4L544.6,839.7L545.1,840.1L545.6,840.4L546.1,840.7L546.6,839.4L547.1,837.7L547.6,835.9L548.1,834.2L548.6,832.9L549.1,832.4L549.6,832.4L550.1,833.9L550.6,835.4L551.1,836.9L551.6,838.4L552.1,840.2L552.6,842L553.1,843.9L553.6,845.7L554.1,846.7L554.6,846.7L555.1,846.7L555.6,846.7L556.1,846.7L556.6,846.7L557.1,846.7L557.6,846.6L558.1,846.6L558.6,846.5L559.1,846.4L559.6,846.3L560.1,846.2L560.6,845.8L561.1,845.4L561.6,844.9L562.1,844.5L562.6,844.1L563.1,843.8L563.6,843.4L564.1,843.1L564.6,842.8L565.1,842.4L565.6,842.1L566.1,841.8L566.6,841.7L567.1,841.5L567.6,841.3L568.1,841.2L568.6,841L569.1,840.8L569.6,840.6L570.1,840.4L570.6,840.1L571.1,839.9L571.6,839.7L572.1,839.4L572.6,839.3L573.1,839.4L573.6,839.5L574.1,839.6L574.6,839.7L575.1,840.6L575.6,841.6L576.1,842.6L576.6,843.6L577.1,844.4L577.6,845.2L578.1,845.9L578.6,846.7L579.1,847.4L579.6,847.6L580.1,847.9L580.6,848.1L581.1,848.4L581.6,848.3L582.1,848L582.6,847.8L583.1,847.5L583.6,847.4L584.1,847.4L584.6,847.4L585.1,847.4L585.1,866.7Z" fill="#78f078"/>
<path d="M30.6,866.7L30.6,852.7L31.1,852.3L31.6,851.9L32.1,851.5L32.6,850.8L33.1,849.8L33.6,848.8L34.1,847.8L34.6,846.8L35.1,845.7L35.6,843.7L36.1,841.7L36.6,839.7L37.1,837.7L37.6,835.7L38.1,834.1L38.6,832.5L39.1,831L39.6,829.5L40.1,828.7L40.6,829.3L41.1,829.9L41.6,830.5L42.1,831.1L42.6,831.7L43.1,832.6L43.6,833.9L44.1,835.2L44.6,836.6L45.1,837.9L45.6,839.2L46.1,840.6L46.6,841.9L47.1,843.2L47.6,844.6L48.1,845.9L48.6,846.5L49.1,847L49.6,847.5L50.1,848L50.6,848.5L51.1,848.8L51.6,848.9L52.1,849.1L52.6,849.3L53.1,849.4L53.6,849.4L54.1,849.2L54.6,848.9L55.1,848.8L55.6,849.2L56.1,849.6L56.6,850.1L57.1,850.6L57.6,851.1L58.1,851.6L58.6,852.1L59.1,852.3L59.6,852.5L60.1,852.6L60.6,852.8L61.1,853L61.6,852.8L62.1,852.5L62.6,852.2L63.1,851.8L63.6,851.5L64.1,851.3L64.6,851.5L65.1,851.7L65.6,851.8L66.1,852L66.6,852.2L67.1,852.3L67.6,852.5L68.1,852.7L68.6,852.8L69.1,853L69.6,853L70.1,853L70.6,853L71.1,853L71.6,853L72.1,853L72.6,852.9L73.1,852.9L73.6,852.8L74.1,852.7L74.6,852.8L75.1,853.2L75.6,853.6L76.1,854L76.6,854.4L77.1,854.8L77.6,855.2L78.1,855.6L78.6,856L79.1,856.4L79.6,856.8L80.1,856.2L80.6,855.4L81.1,854.6L81.6,853.8L82.1,853L82.6,852.2L83.1,851.4L83.6,850.5L84.1,849.7L84.6,849.6L85.1,850.6L85.6,851.7L86.1,852.7L86.6,853.7L87.1,854.5L87.6,855.3L88.1,856.1L88.6,856.8L89.1,857.6L89.6,857.6L90.1,857.1L90.6,856.6L91.1,856L91.6,855.5L92.1,855.1L92.6,854.8L93.1,854.6L93.6,854.4L94.1,854.1L94.6,853.9L95.1,853.9L95.6,853.9L96.1,853.9L96.6,853.9L97.1,853.9L97.6,854L98.1,854.2L98.6,854.4L99.1,854.5L99.6,854.7L100.1,854.7L100.6,854.5L101.1,854.4L101.6,854.2L102.1,854L102.6,853.9L103.1,853.9L103.6,853.9L104.1,853.9L104.6,853.9L105.1,853.9L105.6,854.1L106.1,854.3L106.6,854.4L107.1,854.6L107.6,854.8L108.1,855.1L108.6,855.5L109.1,855.9L109.6,856.3L110.1,856.7L110.6,857L111.1,857.3L111.6,857.6L112.1,857.8L112.6,858.1L113.1,858.2L113.6,858.1L114.1,857.9L114.6,857.7L115.1,857.8L115.6,857.9L116.1,856.8L116.6,855.6L117.1,854.4L117.6,853.3L118.1,852.3L118.6,851.3L119.1,850.4L119.6,851.7L120.1,852.9L120.6,854.2L121.1,855.5L121.6,856.8L122.1,858.1L122.6,859.5L123.1,861L123.6,861.9L124.1,861L124.6,860.1L125.1,859.2L125.6,858.3L126.1,857.4L126.6,856.6L127.1,855.8L127.6,854.9L128.1,854.1L128.6,853.3L129.1,853L129.6,853L130.1,853L130.6,853L131.1,853L131.6,853.2L132.1,853.5L132.6,853.9L133.1,854.2L133.6,854.5L134.1,854.9L134.6,855.2L135.1,855.5L135.6,855.9L136.1,856.2L136.6,856.5L137.1,856.9L137.6,857.2L138.1,857.5L138.6,857.9L139.1,858.2L139.6,858.4L140.1,858.6L140.6,858.7L141.1,858.9L141.6,859L142.1,859.2L142.6,859.3L143.1,859.5L143.6,859.6L144.1,859.8L144.6,859.9L145.1,860.1L145.6,860.2L146.1,860.4L146.6,860.5L147.1,860.7L147.6,860.8L148.1,861L148.6,861.1L149.1,861.2L149.6,861.2L150.1,861.2L150.6,861.2L151.1,861.2L151.6,861.2L152.1,861.3L152.6,861.5L153.1,861.6L153.6,861.5L154.1,861.4L154.6,861.2L155.1,861.2L155.6,861.2L156.1,861.2L156.6,861.2L157.1,861.2L157.6,861.2L158.1,861.1L158.6,861.1L159.1,861L159.6,861L160.1,861L160.6,860.9L161.1,860.9L161.6,860.9L162.1,860.8L162.6,860.8L163.1,860.7L163.6,860.7L164.1,860.7L164.6,860.6L165.1,860.6L165.6,860.6L166.1,860.5L166.6,860.4L167.1,860.3L167.6,860.2L168.1,860.1L168.6,859.9L169.1,859.8L169.6,859.7L170.1,859.6L170.6,859.4L171.1,859.3L171.6,859.1L172.1,858.9L172.6,858.8L173.1,858.6L173.6,858.4L174.1,858.3L174.6,858.1L175.1,857.9L175.6,857.8L176.1,857.6L176.6,857.4L177.1,857.3L177.6,857.4L178.1,857.5L178.6,857.7L179.1,857.9L179.6,858L180.1,858.2L180.6,858.3L181.1,858.5L181.6,858.6L182.1,858.7L182.6,858.9L183.1,859L183.6,859.1L184.1,859.2L184.6,859.4L185.1,859.5L185.6,859.6L186.1,859.8L186.6,859.9L187.1,860L187.6,860.1L188.1,860.3L188.6,860.3L189.1,860.4L189.6,860.6L190.1,860.9L190.6,861.1L191.1,861.4L191.6,861.6L192.1,861.4L192.6,861.2L193.1,861.1L193.6,861L194.1,861.1L194.6,861.1L195.1,861L195.6,860.7L196.1,860.4L196.6,860.2L197.1,859.9L197.6,859.6L198.1,859.4L198.6,859.6L199.1,859.8L199.6,860L200.1,860.2L200.6,860.5L201.1,860.8L201.6,861L202.1,861.1L202.6,861.2L203.1,861.4L203.6,861.6L204.1,861.8L204.6,862L205.1,861.9L205.6,861.8L206.1,861.7L206.6,861.6L207.1,861.5L207.6,861.4L208.1,861.3L208.6,861.2L209.1,861L209.6,860.9L210.1,860.8L210.6,860.7L211.1,860.6L211.6,860.5L212.1,860.4L212.6,860.3L213.1,860.2L213.6,860L214.1,859.9L214.6,859.8L215.1,859.8L215.6,859.8L216.1,859.7L216.6,859.7L217.1,859.6L217.6,859.6L218.1,859.5L218.6,859.5L219.1,859.4L219.6,859.4L220.1,859.4L220.6,859.3L221.1,859.3L221.6,859.2L222.1,859.2L222.6,859.1L223.1,859.1L223.6,859L224.1,859L224.6,858.8L225.1,858.4L225.6,858.1L226.1,857.8L226.6,857.4L227.1,857.1L227.6,856.8L228.1,857.1L228.6,857.5L229.1,857.8L229.6,858.1L230.1,858.5L230.6,858.8L231.1,859.1L231.6,859.5L232.1,859.8L232.6,860.1L233.1,860.5L233.6,860.8L234.1,861.1L234.6,861.2L235.1,861.2L235.6,861.3L236.1,861.3L236.6,861.4L237.1,861.5L237.6,861.7L238.1,861.9L238.6,862L239.1,861.9L239.6,861.8L240.1,861.6L240.6,861.5L241.1,861.6L241.6,861.6L242.1,861.2L242.6,860.5L243.1,859.7L243.6,859L244.1,858.3L244.6,857.5L245.1,856.8L245.6,856.1L246.1,855.3L246.6,854.6L247.1,853.8L247.6,853.1L248.1,853.6L248.6,854.7L249.1,855.7L249.6,856.8L250.1,857.8L250.6,858.9L251.1,859.9L251.6,861L252.1,861L252.6,860.8L253.1,860.6L253.6,860.3L254.1,860.1L254.6,859.9L255.1,859.7L255.6,859.5L256.1,859.3L256.6,859L257.1,858.8L257.6,858.6L258.1,858.4L258.6,858.3L259.1,858.2L259.6,858.4L260.1,858.7L260.6,858.9L261.1,859.2L261.6,859.4L262.1,859L262.6,858.6L263.1,858.2L263.6,857.8L264.1,857.7L264.6,857.7L265.1,857.5L265.6,857.3L266.1,857.1L266.6,856.8L267.1,856.6L267.6,856.4L268.1,856.1L268.6,856.6L269.1,857L269.6,857.4L270.1,857.9L270.6,858.3L271.1,858.7L271.6,858.9L272.1,858.7L272.6,858.5L273.1,858.3L273.6,858.1L274.1,857.9L274.6,857.7L275.1,856.4L275.6,854.9L276.1,853.5L276.6,852L277.1,850.5L277.6,849.1L278.1,848.1L278.6,848.2L279.1,848.4L279.6,848.6L280.1,848.7L280.6,848.9L281.1,849.1L281.6,849.2L282.1,849.4L282.6,849.6L283.1,849.7L283.6,849.9L284.1,850.1L284.6,850.2L285.1,850.4L285.6,850.5L286.1,850.7L286.6,850.8L287.1,850.9L287.6,851.1L288.1,851.2L288.6,851.4L289.1,851.5L289.6,851.6L290.1,851.8L290.6,851.8L291.1,851.8L291.6,852.2L292.1,852.5L292.6,852.8L293.1,853.2L293.6,853L294.1,852.6L294.6,852.2L295.1,851.8L295.6,851.8L296.1,851.8L296.6,851.8L297.1,852.5L297.6,853.1L298.1,853.8L298.6,854.5L299.1,855.1L299.6,855.8L300.1,856.4L300.6,856.9L301.1,857.4L301.6,857.9L302.1,858.4L302.6,858.9L303.1,859.4L303.6,859.3L304.1,859.1L304.6,858.9L305.1,858.8L305.6,858.6L306.1,858.4L306.6,858.3L307.1,858.1L307.6,857.9L308.1,857.8L308.6,857.6L309.1,857.4L309.6,857.3L310.1,857.1L310.6,856.9L311.1,857L311.6,857L312.1,857.1L312.6,857.2L313.1,857.1L313.6,856.4L314.1,855.7L314.6,855.3L315.1,855.1L315.6,854.9L316.1,854.7L316.6,854.6L317.1,854.7L317.6,854.8L318.1,854.8L318.6,854.9L319.1,855L319.6,855L320.1,855.1L320.6,855.2L321.1,855.2L321.6,855.3L322.1,855.4L322.6,855.4L323.1,855.4L323.6,855.1L324.1,854.9L324.6,854.7L325.1,854.4L325.6,854.2L326.1,854L326.6,854.1L327.1,854.2L327.6,854.3L328.1,854.4L328.6,854.5L329.1,854.6L329.6,854.8L330.1,854.9L330.6,855L331.1,855.1L331.6,855.2L332.1,855.3L332.6,855.5L333.1,855.6L333.6,855.7L334.1,855.8L334.6,856L335.1,856.1L335.6,856.2L336.1,856.4L336.6,856.5L337.1,856.6L337.6,856.8L338.1,856.9L338.6,857L339.1,857.2L339.6,857.4L340.1,857.8L340.6,858.1L341.1,858.4L341.6,858.8L342.1,859.1L342.6,859.4L343.1,859.1L343.6,858.9L344.1,858.6L344.6,858.4L345.1,858.1L345.6,857.9L346.1,857.6L346.6,857.4L347.1,857.1L347.6,856.9L348.1,856.6L348.6,856.4L349.1,856.1L349.6,856L350.1,855.8L350.6,855.6L351.1,855.5L351.6,855.3L352.1,855.1L352.6,855L353.1,854.8L353.6,854.6L354.1,854.5L354.6,854.3L355.1,854.1L355.6,854L356.1,853.9L356.6,853.9L357.1,853.8L357.6,853.8L358.1,853.8L358.6,853.7L359.1,853.7L359.6,853.6L360.1,853.6L360.6,853.6L361.1,853.5L361.6,853.5L362.1,853.5L362.6,853.4L363.1,853.4L363.6,853.3L364.1,853.3L364.6,853.3L365.1,853.2L365.6,853.1L366.1,853L366.6,852.9L367.1,852.8L367.6,852.7L368.1,852.6L368.6,852.6L369.1,852.5L369.6,852.4L370.1,852.3L370.6,852.2L371.1,852.1L371.6,852L372.1,851.9L372.6,851.9L373.1,851.8L373.6,851.7L374.1,851.6L374.6,851.5L375.1,851.4L375.6,851.3L376.1,851.2L376.6,851.2L377.1,851.1L377.6,851L378.1,850.9L378.6,850.8L379.1,850.7L379.6,850.6L380.1,850.5L380.6,850.5L381.1,850.4L381.6,850.3L382.1,850.2L382.6,850L383.1,849.8L383.6,849.6L384.1,849.4L384.6,849.2L385.1,849L385.6,848.8L386.1,848.6L386.6,848.4L387.1,848.4L387.6,848.3L388.1,848.3L388.6,848.3L389.1,848.4L389.6,848.5L390.1,848.5L390.6,848.8L391.1,849.2L391.6,849.6L392.1,850L392.6,850.4L393.1,850.5L393.6,850L394.1,849.5L394.6,849L395.1,848.5L395.6,848L396.1,847.5L396.6,847.9L397.1,848.6L397.6,849.2L398.1,849.9L398.6,850.6L399.1,851.2L399.6,851.9L400.1,852.4L400.6,852.9L401.1,853.4L401.6,853.9L402.1,854.4L402.6,854.9L403.1,854.8L403.6,854.5L404.1,854.2L404.6,853.8L405.1,853.5L405.6,853.2L406.1,852.9L406.6,853.1L407.1,853.4L407.6,853.7L408.1,853.9L408.6,854.2L409.1,854.5L409.6,854.9L410.1,855.4L410.6,855.9L411.1,856.4L411.6,856.9L412.1,857.4L412.6,857.9L413.1,858.4L413.6,858.9L414.1,859.4L414.6,859.9L415.1,860.4L415.6,860.9L416.1,861.1L416.6,860.8L417.1,860.5L417.6,860.3L418.1,860L418.6,859.7L419.1,859.5L419.6,859.2L420.1,858.9L420.6,858.7L421.1,858.4L421.6,858.1L422.1,857.9L422.6,857.7L423.1,857.9L423.6,858.1L424.1,858.3L424.6,858.5L425.1,858.6L425.6,858.8L426.1,859L426.6,859.2L427.1,859.4L427.6,859.6L428.1,859.8L428.6,859.9L429.1,860.1L429.6,860.3L430.1,860.5L430.6,860.1L431.1,859.6L431.6,859.1L432.1,858.6L432.6,858.1L433.1,857.6L433.6,857.1L434.1,856.6L434.6,856.1L435.1,855.6L435.6,855.1L436.1,854.6L436.6,854.1L437.1,854.2L437.6,854.5L438.1,854.9L438.6,855.2L439.1,855.5L439.6,855.9L440.1,856.1L440.6,855.9L441.1,855.8L441.6,855.9L442.1,856.2L442.6,856.4L443.1,856.7L443.6,856.5L444.1,856.1L444.6,855.6L445.1,855.2L445.6,854.8L446.1,854.3L446.6,853.9L447.1,853.2L447.6,852.6L448.1,851.9L448.6,851.2L449.1,850.6L449.6,849.9L450.1,849.4L450.6,849.1L451.1,848.7L451.6,848.4L452.1,848.1L452.6,847.7L453.1,847.4L453.6,847.3L454.1,847.2L454.6,847.1L455.1,847L455.6,846.9L456.1,846.8L456.6,846.8L457.1,846.9L457.6,847L458.1,847.1L458.6,847.2L459.1,847.3L459.6,847.4L460.1,847.9L460.6,848.5L461.1,849.2L461.6,849.8L462.1,850.5L462.6,851.2L463.1,851.8L463.6,852.5L464.1,853.2L464.6,853.9L465.1,854.5L465.6,855.2L466.1,855.9L466.6,855.6L467.1,854.8L467.6,853.9L468.1,853.1L468.6,852.3L469.1,851.4L469.6,850.6L470.1,850.1L470.6,849.6L471.1,849.1L471.6,848.6L472.1,848.1L472.6,847.6L473.1,847.2L473.6,846.8L474.1,846.5L474.6,846.1L475.1,845.9L475.6,846.1L476.1,846.3L476.6,846.6L477.1,846.8L477.6,847L478.1,847.3L478.6,847.6L479.1,847.9L479.6,848.2L480.1,848.6L480.6,848.9L481.1,849.2L481.6,849.6L482.1,849.9L482.6,850.2L483.1,850.6L483.6,850.9L484.1,851.2L484.6,851.6L485.1,851.4L485.6,850.6L486.1,849.7L486.6,848.9L487.1,848.1L487.6,847.2L488.1,846.4L488.6,845.6L489.1,844.7L489.6,843.9L490.1,843.1L490.6,842.2L491.1,841.4L491.6,840.8L492.1,840.8L492.6,840.8L493.1,840.8L493.6,840.8L494.1,840.8L494.6,840.8L495.1,841.3L495.6,842.1L496.1,842.9L496.6,843.6L497.1,844.4L497.6,845.2L498.1,846L498.6,846.8L499.1,847.7L499.6,848.5L500.1,849.3L500.6,850.2L501.1,850.1L501.6,848.8L502.1,847.6L502.6,846.3L503.1,845.1L503.6,844L504.1,843.5L504.6,843L505.1,842.5L505.6,842L506.1,842L506.6,842.2L507.1,842.4L507.6,842.5L508.1,842.7L508.6,842.9L509.1,843.1L509.6,843.4L510.1,843.7L510.6,844.1L511.1,844.4L511.6,844.7L512.1,845.1L512.6,845.5L513.1,846L513.6,846.5L514.1,847L514.6,847.5L515.1,848L515.6,848.2L516.1,846.3L516.6,845.3L517.1,844.3L517.6,843.3L518.1,842.3L518.6,841.3L519.1,840.6L519.6,840.1L520.1,839.7L520.6,839.3L521.1,838.8L521.6,838.4L522.1,838L522.6,837.8L523.1,837.7L523.6,837.6L524.1,838L524.6,838.5L525.1,839L525.6,839.4L526.1,839.8L526.6,840.2L527.1,840.6L527.6,841L528.1,841.4L528.6,841.8L529.1,841.9L529.6,841.9L530.1,841.9L530.6,841.9L531.1,841.9L531.6,841.9L532.1,841.8L532.6,841.3L533.1,840.8L533.6,840.3L534.1,839.8L534.6,839.5L535.1,839.2L535.6,839L536.1,838.7L536.6,838.2L537.1,837.5L537.6,836.7L538.1,836L538.6,835.3L539.1,835L539.6,834.8L540.1,834.5L540.6,834.3L541.1,835L541.6,836L542.1,837L542.6,838L543.1,838.7L543.6,839.1L544.1,839.4L544.6,839.7L545.1,840.1L545.6,840.4L546.1,840.7L546.6,839.4L547.1,837.7L547.6,835.9L548.1,834.2L548.6,833L549.1,832.4L549.6,832.4L550.1,833.9L550.6,835.4L551.1,836.9L551.6,838.4L552.1,840.2L552.6,842L553.1,843.9L553.6,846.2L554.1,847.4L554.6,847.4L555.1,847.4L555.6,847.4L556.1,847.4L556.6,847.4L557.1,847.4L557.6,847.2L558.1,847L558.6,846.8L559.1,846.6L559.6,846.4L560.1,846.2L560.6,845.8L561.1,845.4L561.6,844.9L562.1,844.5L562.6,844.1L563.1,843.8L563.6,843.4L564.1,843.1L564.6,842.8L565.1,842.4L565.6,842.1L566.1,841.8L566.6,841.7L567.1,841.5L567.6,841.3L568.1,841.2L568.6,841L569.1,840.8L569.6,840.6L570.1,840.4L570.6,840.1L571.1,839.9L571.6,839.7L572.1,839.4L572.6,839.3L573.1,839.4L573.6,839.5L574.1,839.7L574.6,840.3L575.1,841L575.6,841.7L576.1,842.6L576.6,843.6L577.1,844.4L577.6,845.2L578.1,845.9L578.6,846.7L579.1,847.4L579.6,847.6L580.1,847.9L580.6,848.1L581.1,848.4L581.6,848.3L582.1,848L582.6,847.8L583.1,847.5L583.6,847.4L584.1,847.4L584.6,847.4L585.1,847.4L585.1,866.7Z" fill="#44c284"/>
<path d="M30.6,866.7L30.6,855.5L31.1,855.3L31.6,855.1L32.1,854.9L32.6,854.3L33.1,853.3L33.6,852.3L34.1,851.3L34.6,850.3L35.1,849.3L35.6,848L36.1,846.6L36.6,845.3L37.1,844L37.6,842.6L38.1,841.4L38.6,840.3L39.1,839.1L39.6,837.9L40.1,836.8L40.6,837.2L41.1,838.3L41.6,839.5L42.1,840.7L42.6,841.8L43.1,842.9L43.6,843.9L44.1,844.9L44.6,845.9L45.1,846.9L45.6,847.9L46.1,848.8L46.6,849.6L47.1,850.4L47.6,851.3L48.1,852.1L48.6,852.3L49.1,852.5L49.6,852.6L50.1,852.8L50.6,853L51.1,853L51.6,852.9L52.1,852.9L52.6,852.8L53.1,852.7L53.6,852.8L54.1,853L54.6,853.2L55.1,853.5L55.6,853.7L56.1,853.9L56.6,854.1L57.1,854.3L57.6,854.4L58.1,854.6L58.6,854.8L59.1,854.5L59.6,854.2L60.1,853.8L60.6,853.5L61.1,853.2L61.6,852.9L62.1,852.6L62.6,852.3L63.1,852.1L63.6,851.8L64.1,851.7L64.6,852L65.1,852.3L65.6,852.5L66.1,852.8L66.6,853.1L67.1,853.2L67.6,853.4L68.1,853.6L68.6,853.7L69.1,853.9L69.6,853.9L70.1,853.9L70.6,853.9L71.1,853.9L71.6,853.9L72.1,854L72.6,854.2L73.1,854.3L73.6,854.5L74.1,854.7L74.6,854.8L75.1,855L75.6,855.2L76.1,855.3L76.6,855.5L77.1,855.7L77.6,855.9L78.1,856.2L78.6,856.4L79.1,856.6L79.6,856.9L80.1,856.4L80.6,855.8L81.1,855.3L81.6,854.7L82.1,854.1L82.6,853.4L83.1,852.6L83.6,851.7L84.1,851L84.6,851.7L85.1,852.5L85.6,853.2L86.1,853.9L86.6,854.7L87.1,855.2L87.6,855.7L88.1,856.2L88.6,856.7L89.1,857.2L89.6,857.2L90.1,856.9L90.6,856.6L91.1,856.2L91.6,855.9L92.1,855.6L92.6,855.5L93.1,855.4L93.6,855.3L94.1,855.2L94.6,855.1L95.1,855.2L95.6,855.3L96.1,855.4L96.6,855.5L97.1,855.6L97.6,855.7L98.1,855.8L98.6,855.9L99.1,856L99.6,856.1L100.1,856.2L100.6,856.2L101.1,856.2L101.6,856.2L102.1,856.2L102.6,856.2L103.1,856.4L103.6,856.5L104.1,856.6L104.6,856.8L105.1,856.9L105.6,857.1L106.1,857.3L106.6,857.5L107.1,857.7L107.6,857.9L108.1,858L108.6,858.2L109.1,858.3L109.6,858.4L110.1,858.6L110.6,858.7L111.1,858.8L111.6,858.9L112.1,859L112.6,859.1L113.1,859.1L113.6,859L114.1,858.8L114.6,858.6L115.1,858.5L115.6,858.3L116.1,857.5L116.6,856.8L117.1,856L117.6,855.3L118.1,854.8L118.6,854.3L119.1,853.9L119.6,855.1L120.1,856.2L120.6,857.4L121.1,858.4L121.6,859.3L122.1,860.2L122.6,861.1L123.1,862L123.6,862.5L124.1,861.8L124.6,861.2L125.1,860.5L125.6,859.8L126.1,859.2L126.6,858.3L127.1,857.5L127.6,856.7L128.1,855.8L128.6,855L129.1,854.8L129.6,854.9L130.1,855L130.6,855L131.1,855.1L131.6,855.3L132.1,855.5L132.6,855.8L133.1,856.1L133.6,856.3L134.1,856.6L134.6,856.7L135.1,856.9L135.6,857.1L136.1,857.2L136.6,857.4L137.1,857.6L137.6,857.9L138.1,858.1L138.6,858.3L139.1,858.6L139.6,858.8L140.1,859L140.6,859.1L141.1,859.3L141.6,859.5L142.1,859.7L142.6,859.9L143.1,860L143.6,860.2L144.1,860.4L144.6,860.6L145.1,860.8L145.6,860.9L146.1,861.1L146.6,861.3L147.1,861.5L147.6,861.6L148.1,861.8L148.6,862L149.1,862.1L149.6,862.2L150.1,862.2L150.6,862.3L151.1,862.4L151.6,862.5L152.1,862.5L152.6,862.6L153.1,862.7L153.6,862.6L154.1,862.5L154.6,862.3L155.1,862.2L155.6,862.1L156.1,862L156.6,861.8L157.1,861.7L157.6,861.6L158.1,861.6L158.6,861.6L159.1,861.6L159.6,861.6L160.1,861.6L160.6,861.6L161.1,861.6L161.6,861.6L162.1,861.6L162.6,861.5L163.1,861.5L163.6,861.4L164.1,861.4L164.6,861.3L165.1,861.3L165.6,861.2L166.1,861.2L166.6,861.1L167.1,861L167.6,861L168.1,860.9L168.6,860.8L169.1,860.7L169.6,860.7L170.1,860.6L170.6,860.5L171.1,860.4L171.6,860.4L172.1,860.3L172.6,860.2L173.1,860.1L173.6,860.1L174.1,860L174.6,859.9L175.1,859.8L175.6,859.7L176.1,859.6L176.6,859.4L177.1,859.3L177.6,859.2L178.1,859L178.6,859.1L179.1,859.2L179.6,859.3L180.1,859.5L180.6,859.6L181.1,859.7L181.6,859.9L182.1,859.9L182.6,860L183.1,860.1L183.6,860.2L184.1,860.2L184.6,860.3L185.1,860.4L185.6,860.5L186.1,860.5L186.6,860.7L187.1,860.9L187.6,861L188.1,861.2L188.6,861.4L189.1,861.5L189.6,861.7L190.1,861.9L190.6,862L191.1,862.2L191.6,862.4L192.1,862.5L192.6,862.7L193.1,862.3L193.6,862L194.1,861.7L194.6,861.3L195.1,861L195.6,860.7L196.1,860.4L196.6,860.1L197.1,859.9L197.6,859.6L198.1,859.5L198.6,859.8L199.1,860.1L199.6,860.5L200.1,860.8L200.6,861.1L201.1,861.5L201.6,861.7L202.1,861.9L202.6,862L203.1,862.2L203.6,862.4L204.1,862.5L204.6,862.7L205.1,862.5L205.6,862.4L206.1,862.2L206.6,862L207.1,861.9L207.6,861.7L208.1,861.6L208.6,861.5L209.1,861.4L209.6,861.3L210.1,861.2L210.6,861.1L211.1,861L211.6,860.9L212.1,860.8L212.6,860.8L213.1,860.7L213.6,860.6L214.1,860.6L214.6,860.5L215.1,860.5L215.6,860.5L216.1,860.5L216.6,860.5L217.1,860.5L217.6,860.5L218.1,860.5L218.6,860.5L219.1,860.5L219.6,860.5L220.1,860.5L220.6,860.5L221.1,860.5L221.6,860.5L222.1,860.5L222.6,860.5L223.1,860.5L223.6,860.5L224.1,860.5L224.6,860.4L225.1,860.1L225.6,859.9L226.1,859.7L226.6,859.4L227.1,859.2L227.6,859L228.1,859.1L228.6,859.2L229.1,859.4L229.6,859.5L230.1,859.6L230.6,859.8L231.1,860L231.6,860.2L232.1,860.5L232.6,860.8L233.1,861L233.6,861.3L234.1,861.6L234.6,861.7L235.1,861.8L235.6,862L236.1,862.1L236.6,862.2L237.1,862.3L237.6,862.5L238.1,862.6L238.6,862.7L239.1,862.6L239.6,862.5L240.1,862.4L240.6,862.3L241.1,862.2L241.6,862.1L242.1,861.7L242.6,861.2L243.1,860.6L243.6,860L244.1,859.5L244.6,858.9L245.1,858.3L245.6,857.5L246.1,856.7L246.6,855.8L247.1,855L247.6,854.2L248.1,854.8L248.6,856.1L249.1,857.3L249.6,858.5L250.1,859.2L250.6,860L251.1,860.7L251.6,861.5L252.1,861.4L252.6,861.1L253.1,860.8L253.6,860.6L254.1,860.3L254.6,860L255.1,859.8L255.6,859.7L256.1,859.6L256.6,859.4L257.1,859.3L257.6,859.2L258.1,859L258.6,859.2L259.1,859.5L259.6,859.9L260.1,860.2L260.6,860.5L261.1,860.9L261.6,861.1L262.1,860.8L262.6,860.5L263.1,860.1L263.6,859.8L264.1,859.5L264.6,859.1L265.1,858.7L265.6,858.3L266.1,857.9L266.6,857.4L267.1,857L267.6,856.6L268.1,856.1L268.6,856.6L269.1,857L269.6,857.4L270.1,857.9L270.6,858.3L271.1,858.7L271.6,858.9L272.1,858.8L272.6,858.7L273.1,858.6L273.6,858.5L274.1,858.4L274.6,858.3L275.1,857.2L275.6,855.8L276.1,854.5L276.6,853.2L277.1,851.8L277.6,850.5L278.1,849.6L278.6,849.7L279.1,849.8L279.6,849.9L280.1,850L280.6,850.1L281.1,850.2L281.6,850.3L282.1,850.5L282.6,850.7L283.1,850.8L283.6,851L284.1,851.2L284.6,851.3L285.1,851.5L285.6,851.7L286.1,851.8L286.6,852L287.1,852.2L287.6,852.3L288.1,852.5L288.6,852.6L289.1,852.7L289.6,852.8L290.1,852.9L290.6,853.3L291.1,853.7L291.6,854.1L292.1,854.5L292.6,854.9L293.1,855.3L293.6,855.3L294.1,854.9L294.6,854.6L295.1,854.3L295.6,853.9L296.1,853.6L296.6,853.3L297.1,853.9L297.6,854.5L298.1,855.1L298.6,855.7L299.1,856.3L299.6,856.9L300.1,857.5L300.6,858L301.1,858.5L301.6,859L302.1,859.5L302.6,860L303.1,860.5L303.6,860.1L304.1,859.7L304.6,859.2L305.1,858.8L305.6,858.4L306.1,857.9L306.6,857.6L307.1,857.6L307.6,857.5L308.1,857.4L308.6,857.4L309.1,857.3L309.6,857.2L310.1,857.4L310.6,857.7L311.1,858L311.6,858.2L312.1,858.5L312.6,858.8L313.1,858.9L313.6,858.6L314.1,858.2L314.6,857.9L315.1,857.6L315.6,857.2L316.1,856.9L316.6,856.7L317.1,856.6L317.6,856.5L318.1,856.4L318.6,856.3L319.1,856.2L319.6,856.1L320.1,856.3L320.6,856.5L321.1,856.6L321.6,856.8L322.1,857L322.6,857.1L323.1,857.1L323.6,857L324.1,856.8L324.6,856.6L325.1,856.5L325.6,856.3L326.1,856.1L326.6,856.2L327.1,856.3L327.6,856.4L328.1,856.5L328.6,856.6L329.1,856.7L329.6,856.8L330.1,856.9L330.6,856.9L331.1,857L331.6,857.1L332.1,857.1L332.6,857.2L333.1,857.3L333.6,857.3L334.1,857.4L334.6,857.5L335.1,857.5L335.6,857.6L336.1,857.7L336.6,857.8L337.1,857.9L337.6,858L338.1,858.1L338.6,858.2L339.1,858.3L339.6,858.4L340.1,858.6L340.6,858.8L341.1,858.9L341.6,859.1L342.1,859.3L342.6,859.4L343.1,859L343.6,858.6L344.1,858.2L344.6,857.8L345.1,857.4L345.6,857L346.1,856.7L346.6,856.6L347.1,856.5L347.6,856.4L348.1,856.3L348.6,856.2L349.1,856.1L349.6,856.2L350.1,856.3L350.6,856.4L351.1,856.5L351.6,856.6L352.1,856.7L352.6,856.7L353.1,856.5L353.6,856.3L354.1,856.1L354.6,855.9L355.1,855.7L355.6,855.5L356.1,855.5L356.6,855.5L357.1,855.5L357.6,855.5L358.1,855.5L358.6,855.5L359.1,855.5L359.6,855.5L360.1,855.5L360.6,855.4L361.1,855.4L361.6,855.3L362.1,855.3L362.6,855.2L363.1,855.2L363.6,855.1L364.1,855.1L364.6,855L365.1,855L365.6,854.9L366.1,854.9L366.6,854.8L367.1,854.8L367.6,854.7L368.1,854.7L368.6,854.6L369.1,854.6L369.6,854.6L370.1,854.6L370.6,854.6L371.1,854.6L371.6,854.6L372.1,854.6L372.6,854.6L373.1,854.6L373.6,854.6L374.1,854.6L374.6,854.6L375.1,854.6L375.6,854.6L376.1,854.6L376.6,854.6L377.1,854.6L377.6,854.6L378.1,854.5L378.6,854.4L379.1,854.4L379.6,854.3L380.1,854.2L380.6,854.1L381.1,854.1L381.6,854L382.1,853.9L382.6,853.9L383.1,853.9L383.6,853.9L384.1,853.9L384.6,853.9L385.1,853.9L385.6,853.9L386.1,853.9L386.6,854L387.1,854.1L387.6,854.2L388.1,854.3L388.6,854.4L389.1,854.5L389.6,854.6L390.1,854.3L390.6,854L391.1,853.6L391.6,853.3L392.1,853L392.6,852.6L393.1,852.3L393.6,852L394.1,851.8L394.6,851.5L395.1,851.2L395.6,851L396.1,850.7L396.6,850.9L397.1,851.3L397.6,851.6L398.1,851.9L398.6,852.3L399.1,852.6L399.6,853L400.1,853.7L400.6,854.3L401.1,855L401.6,855.7L402.1,856.3L402.6,857L403.1,857L403.6,856.7L404.1,856.3L404.6,856L405.1,855.7L405.6,855.3L406.1,855.1L406.6,855.2L407.1,855.4L407.6,855.6L408.1,855.7L408.6,855.9L409.1,856.1L409.6,856.3L410.1,856.6L410.6,857L411.1,857.3L411.6,857.6L412.1,858L412.6,858.3L413.1,858.8L413.6,859.3L414.1,859.8L414.6,860.3L415.1,860.8L415.6,861.3L416.1,861.5L416.6,861.2L417.1,861L417.6,860.7L418.1,860.4L418.6,860.2L419.1,859.9L419.6,859.8L420.1,859.7L420.6,859.7L421.1,859.6L421.6,859.5L422.1,859.5L422.6,859.5L423.1,859.6L423.6,859.8L424.1,860L424.6,860.1L425.1,860.3L425.6,860.5L426.1,860.6L426.6,860.8L427.1,861L427.6,861.2L428.1,861.3L428.6,861.5L429.1,861.7L429.6,861.9L430.1,862L430.6,861.5L431.1,861L431.6,860.4L432.1,859.8L432.6,859.3L433.1,858.7L433.6,858.2L434.1,857.9L434.6,857.5L435.1,857.2L435.6,856.9L436.1,856.5L436.6,856.2L437.1,856.3L437.6,856.4L438.1,856.6L438.6,856.8L439.1,856.9L439.6,857.1L440.1,857.2L440.6,857.3L441.1,857.4L441.6,857.4L442.1,857.5L442.6,857.6L443.1,857.6L443.6,857.4L444.1,857L444.6,856.6L445.1,856.2L445.6,855.8L446.1,855.4L446.6,855L447.1,854.5L447.6,854L448.1,853.5L448.6,853L449.1,852.5L449.6,852L450.1,851.6L450.6,851.3L451.1,850.9L451.6,850.6L452.1,850.3L452.6,849.9L453.1,849.6L453.6,849.5L454.1,849.4L454.6,849.4L455.1,849.3L455.6,849.2L456.1,849.2L456.6,849.2L457.1,849.3L457.6,849.5L458.1,849.7L458.6,849.8L459.1,850L459.6,850.2L460.1,850.5L460.6,850.9L461.1,851.3L461.6,851.7L462.1,852.1L462.6,852.5L463.1,853L463.6,853.6L464.1,854.2L464.6,854.8L465.1,855.4L465.6,856L466.1,856.6L466.6,856.5L467.1,856.1L467.6,855.6L468.1,855.2L468.6,854.8L469.1,854.3L469.6,853.9L470.1,853.4L470.6,852.9L471.1,852.4L471.6,851.9L472.1,851.4L472.6,850.9L473.1,850.6L473.6,850.5L474.1,850.4L474.6,850.3L475.1,850.2L475.6,850.5L476.1,850.7L476.6,850.9L477.1,851.2L477.6,851.4L478.1,851.6L478.6,851.8L479.1,852L479.6,852.2L480.1,852.3L480.6,852.5L481.1,852.7L481.6,852.8L482.1,853L482.6,853.2L483.1,853.3L483.6,853.5L484.1,853.7L484.6,853.8L485.1,853.7L485.6,853L486.1,852.3L486.6,851.7L487.1,851L487.6,850.3L488.1,849.7L488.6,849.1L489.1,848.6L489.6,848.1L490.1,847.6L490.6,847.1L491.1,846.6L491.6,846.3L492.1,846.4L492.6,846.4L493.1,846.5L493.6,846.6L494.1,846.6L494.6,846.7L495.1,846.9L495.6,847.2L496.1,847.4L496.6,847.7L497.1,848L497.6,848.2L498.1,848.6L498.6,849.3L499.1,849.9L499.6,850.6L500.1,851.3L500.6,852L501.1,852L501.6,851L502.1,850.1L502.6,849.1L503.1,848.1L503.6,847.3L504.1,847L504.6,846.6L505.1,846.3L505.6,845.9L506.1,845.8L506.6,845.8L507.1,845.8L507.6,845.8L508.1,845.8L508.6,845.8L509.1,845.9L509.6,846.1L510.1,846.4L510.6,846.6L511.1,846.8L511.6,847.1L512.1,847.3L512.6,847.9L513.1,848.7L513.6,849.4L514.1,850.2L514.6,851L515.1,851.7L515.6,852.3L516.1,851.7L516.6,851.1L517.1,850.5L517.6,849.9L518.1,849.3L518.6,848.7L519.1,848.4L519.6,848.2L520.1,848L520.6,847.9L521.1,847.7L521.6,847.5L522.1,847.4L522.6,847.4L523.1,847.4L523.6,847.4L524.1,847.4L524.6,847.4L525.1,847.4L525.6,847.4L526.1,847.6L526.6,847.8L527.1,847.9L527.6,848.1L528.1,848.3L528.6,848.4L529.1,848.7L529.6,849.1L530.1,849.4L530.6,849.7L531.1,850.1L531.6,850.4L532.1,850.6L532.6,850.2L533.1,849.8L533.6,849.4L534.1,849L534.6,848.6L535.1,848.2L535.6,847.4L536.1,846.5L536.6,845.6L537.1,844.7L537.6,843.8L538.1,842.9L538.6,842L539.1,841.1L539.6,840.2L540.1,840.5L540.6,840.9L541.1,841.3L541.6,841.7L542.1,842.4L542.6,843.3L543.1,844.2L543.6,845.1L544.1,845.8L544.6,845.5L545.1,845.3L545.6,845L546.1,844.7L546.6,844.5L547.1,844.2L547.6,843.9L548.1,843.7L548.6,843.4L549.1,843.2L549.6,843.1L550.1,843.6L550.6,844.1L551.1,844.6L551.6,845.1L552.1,846L552.6,847L553.1,848L553.6,849L554.1,849.8L554.6,850.4L555.1,851L555.6,851.5L556.1,852.1L556.6,852.7L557.1,853.2L557.6,853.1L558.1,853L558.6,852.8L559.1,852.7L559.6,852.5L560.1,852.2L560.6,851.3L561.1,850.3L561.6,849.3L562.1,848.4L562.6,847.4L563.1,846.7L563.6,846.1L564.1,845.4L564.6,844.7L565.1,844.1L565.6,843.4L566.1,842.9L566.6,842.7L567.1,842.4L567.6,842.2L568.1,842L568.6,841.7L569.1,841.5L569.6,841.5L570.1,841.6L570.6,841.6L571.1,841.7L571.6,841.8L572.1,841.8L572.6,842.1L573.1,842.7L573.6,843.4L574.1,844.1L574.6,844.7L575.1,845.4L575.6,846.1L576.1,846.7L576.6,847.4L577.1,848.1L577.6,848.7L578.1,849.4L578.6,850.1L579.1,850.7L579.6,851.2L580.1,851.7L580.6,852.2L581.1,852.7L581.6,852.5L582.1,852L582.6,851.5L583.1,851L583.6,850.7L584.1,850.7L584.6,850.7L585.1,850.7L585.1,866.7Z" fill="#a95e3b"/>
<rect x="30.6" y="818.4" width="554.6" height="48.3" fill="none" stroke="#141414" stroke-width="1.35"/>
<path d="M585.2,842.5H589.6M585.2,866.8H589.6" stroke="#141414" stroke-width="1.3"/>
<text class="n" transform="translate(593.9,847.2) scale(1.0366,1)" font-size="15.9" fill="#111111">150</text>
<text class="n" transform="translate(594.6,871.4) scale(1.0366,1)" font-size="15.9" fill="#111111">0</text>
<text transform="translate(0.3,838.9) scale(1.1,1)" font-size="20.2" font-weight="bold" fill="#000" stroke="#000" stroke-width="1.3">k</text>
<text class="n" transform="translate(239.9,834.8) scale(0.9799,1)" font-size="16.6" fill="#111111">Gene expression</text>
<path d="M30.6,928.6L30.6,904.3L39.5,904.3L49.2,910.7L70,910.7L79.7,904.3L89.4,904.3L99.7,910.7L109.7,904.3L129.6,904.3L139.3,892.1L149,898.2L158.8,904.3L168.5,898.2L187.9,898.2L199,904.3L208.7,904.3L217.8,892.1L227.5,898.2L238.6,910.7L248.3,910.7L258,898.2L267.7,898.2L278.8,904.3L287.7,904.3L297.7,898.2L317.6,910.7L327.3,898.2L337,910.7L347.6,910.7L367.6,898.2L377.3,904.3L387,898.2L406.3,898.2L416.3,910.7L426,892.1L436.3,916.2L446,898.2L456.3,917.1L466.2,922.6L475.7,898.2L486.2,910.7L495.9,917.1L505.6,898.2L516.7,910.7L525,917.1L535.6,910.7L545.8,917.1L555.6,910.7L565.3,917.1L575,904.3L583.3,920.4L585,920.4L585,928.6Z" fill="#6a8c6a"/>
<rect x="30.6" y="880.3" width="554.6" height="48.3" fill="none" stroke="#141414" stroke-width="1.35"/>
<path d="M585.2,904.5H589.6M585.2,928.6H589.6" stroke="#141414" stroke-width="1.3"/>
<text class="n" transform="translate(594.6,908.7) scale(1.0366,1)" font-size="15.9" fill="#111111">0.497</text>
<text class="n" transform="translate(594.6,934.3) scale(1.0366,1)" font-size="15.9" fill="#111111">0.493</text>
<text transform="translate(0.3,901.6) scale(1.1,1)" font-size="20.2" font-weight="bold" fill="#000" stroke="#000" stroke-width="1.3">l</text>
<text class="n" transform="translate(258.8,894.9) scale(1.0047,1)" font-size="16.6" fill="#111111">GC content</text>
<text class="n" transform="translate(631,542.9) scale(1.0018,1)" font-size="16.6" fill="#111111">log</text>
<text class="n" transform="translate(653.8,548.5) scale(0.8978,1)" font-size="12.4" fill="#111111">10</text>
<text class="n" transform="translate(631,603.4) scale(1.0018,1)" font-size="16.6" fill="#111111">log</text>
<text class="n" transform="translate(653.8,609.3) scale(0.8978,1)" font-size="12.4" fill="#111111">10</text>
<text class="n" transform="translate(631,663.1) scale(1.0018,1)" font-size="16.6" fill="#111111">log</text>
<text class="n" transform="translate(653.8,668.9) scale(0.8978,1)" font-size="12.4" fill="#111111">10</text>
<text class="n" transform="translate(631.1,725) scale(1.0018,1)" font-size="16.6" fill="#111111">log</text>
<text class="n" transform="translate(653.8,730.7) scale(0.8978,1)" font-size="12.4" fill="#111111">10</text>
<rect x="621.4" y="465.8" width="10.2" height="9.7" fill="#35c835"/>
<rect x="622" y="482.2" width="10.2" height="9.5" fill="#fc9a78"/>
<text class="n" transform="translate(635.3,475) scale(1.0669,1)" font-size="15" fill="#111111">Copia</text>
<text class="n" transform="translate(636.2,491.9) scale(1.0545,1)" font-size="15" fill="#111111">Gypsy</text>
<rect x="629.6" y="823.2" width="9.9" height="9.9" fill="#7878ee"/>
<rect x="629.6" y="841" width="9.9" height="9.9" fill="#78ee78"/>
<rect x="629.6" y="858.6" width="9.9" height="10" fill="#ee7878"/>
<text class="n" transform="translate(643.4,831.9) scale(1.1389,1)" font-size="14.6" fill="#111111">Spike</text>
<text class="n" transform="translate(644.1,850.9) scale(1.1342,1)" font-size="14.6" fill="#111111">Root</text>
<text class="n" transform="translate(645.4,868.4) scale(1.1344,1)" font-size="14.6" fill="#111111">Leaf</text>
</svg>
</body></html>
